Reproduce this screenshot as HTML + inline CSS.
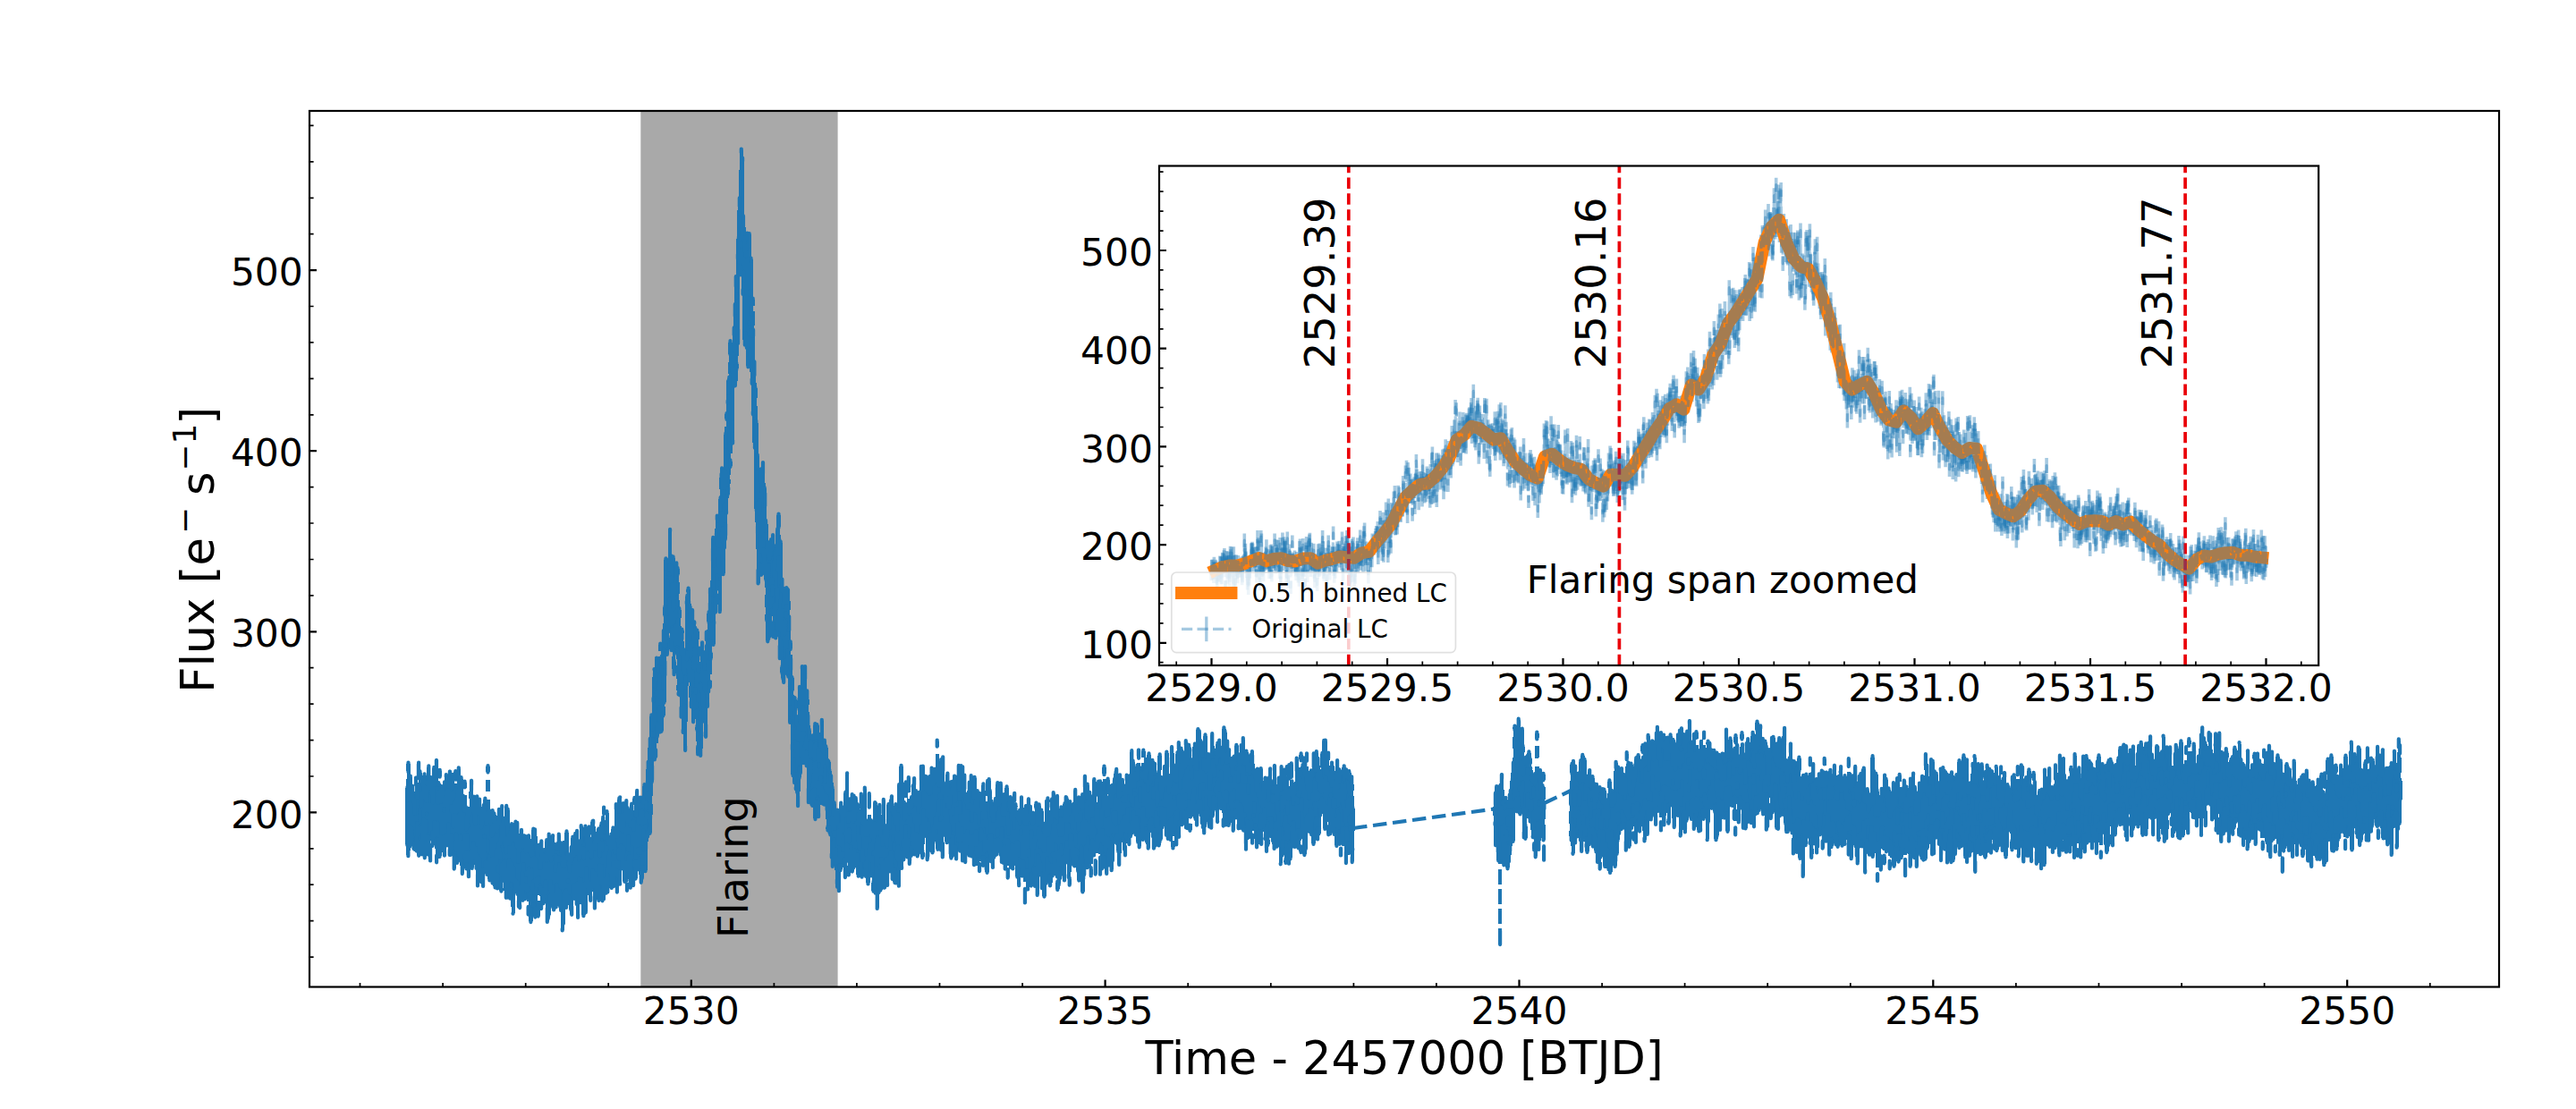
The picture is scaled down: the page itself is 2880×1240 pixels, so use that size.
<!DOCTYPE html><html><head><meta charset="utf-8"><title>Light curve</title><style>html,body{margin:0;padding:0;background:#fff}svg{display:block}text{font-family:"DejaVu Sans","Liberation Sans",sans-serif;fill:#000}</style></head><body>
<svg width="2880" height="1240" viewBox="0 0 2880 1240">
<rect width="2880" height="1240" fill="#fff"/>
<rect x="716.3" y="124.0" width="220.3" height="979.5" fill="#a9a9a9"/>
<path d="M1513 926L1671.3 904.4M1726.5 898L1756.2 884" fill="none" stroke="#1f77b4" stroke-width="4.2" stroke-dasharray="15.5 6.7"/>
<path d="M453.5 881V944M454.5 853.5V862M454.5 871V956M455.5 853.5V956M456.5 853.5V956M457.5 853.5V956M458.5 853.5V951M459.5 869V945.5M460.5 869V943.5M461.5 880V948.5M462.5 880V948.5M463.5 871V876M463.5 885V948.5M464.5 871V950.5M465.5 871V950.5M466.5 853.5V955.5M467.5 853.5V868.5M467.5 875V955.5M468.5 853.5V955.5M469.5 853.5V955.5M470.5 863.5V954M471.5 863.5V954M472.5 870.5V954M473.5 866.5V958M474.5 866.5V958M475.5 866.5V958M476.5 866.5V958M477.5 857.5V954.5M478.5 857.5V935.5M478.5 941V954.5M479.5 857.5V961M480.5 857.5V961M481.5 870.5V939M481.5 946V961M482.5 870.5V961M483.5 859V944.5M484.5 859V944.5M485.5 859V944.5M486.5 851.5V949M486.5 957.5V963M487.5 851.5V963M488.5 851.5V963M489.5 851.5V963M490.5 862V867.5M490.5 876V957M491.5 862V867.5M491.5 876V957M492.5 862V867.5M492.5 876V957M493.5 862V867.5M493.5 876.5V957M494.5 880.5V950M495.5 875.5V955.5M496.5 875.5V955.5M497.5 867.5V955.5M498.5 867.5V955.5M499.5 867.5V944M500.5 867.5V947M501.5 864V955M502.5 864V955M503.5 864V955M504.5 864V955M505.5 867V954.5M506.5 867V970.5M507.5 863V970.5M508.5 863V870.5M508.5 876V970.5M509.5 863V870.5M509.5 876V970.5M510.5 863V870.5M510.5 876V963.5M511.5 859.5V963.5M512.5 859.5V963.5M513.5 859.5V961.5M514.5 859.5V967.5M515.5 870.5V976M516.5 870.5V976M517.5 870.5V976M518.5 875V881M518.5 888.5V976M519.5 875V881M519.5 888.5V970.5M520.5 875V881M520.5 888.5V970.5M521.5 875V881M521.5 888.5V970.5M522.5 902.5V979M523.5 904.5V979M524.5 884.5V893M524.5 902V979M525.5 874V979M526.5 874V969.5M527.5 874V969.5M528.5 874V969.5M529.5 892V969.5M530.5 892V963.5M531.5 891.5V970M532.5 891.5V989M533.5 891.5V989M534.5 891.5V989M535.5 893.5V989M536.5 894.5V985M537.5 895V986M538.5 901.5V990M539.5 901V990M540.5 894V990M541.5 894V990M542.5 894V977M543.5 857V862.5M543.5 871.5V884.5M543.5 893.5V977M544.5 857V862.5M544.5 871.5V885M544.5 893.5V977M545.5 857V862.5M545.5 871.5V885M545.5 893.5V983M546.5 857V862.5M546.5 871.5V885M546.5 893.5V983M547.5 857V862.5M547.5 871.5V885M547.5 893.5V983M548.5 907.5V983M549.5 907.5V986.5M550.5 907.5V986.5M551.5 907.5V991M552.5 907.5V991M553.5 910.5V991M554.5 910.5V992M555.5 911.5V992M556.5 906V992M557.5 906V992M558.5 906V995.5M559.5 902.5V995.5M560.5 902.5V995.5M561.5 902.5V995.5M562.5 902.5V984M562.5 993V995.5M563.5 915.5V996M564.5 902V1002.5M565.5 902V1002.5M566.5 902V1002.5M567.5 902V1002.5M568.5 906V1003.5M569.5 906V1003.5M570.5 922.5V1003.5M571.5 922.5V1013.5M572.5 922.5V1020.5M573.5 922.5V1020.5M574.5 919.5V1020.5M575.5 919.5V1020.5M576.5 919.5V998.5M577.5 919.5V998.5M578.5 919.5V1012.5M579.5 921V1014M580.5 931.5V1014M581.5 929V1014M582.5 929V1014M583.5 929V1005.5M584.5 929V1005.5M585.5 935.5V1005.5M586.5 935.5V1005.5M587.5 935.5V1004M588.5 936V1004M589.5 935.5V1008M589.5 1015V1021.5M590.5 935.5V1008M590.5 1015V1021.5M591.5 935.5V1030M592.5 935.5V1030M593.5 937.5V1030M594.5 928V1030M595.5 928V1030M596.5 928V1024.5M597.5 928V1024.5M598.5 928.5V1024.5M599.5 928.5V1024.5M600.5 935V1024.5M601.5 945.5V1001M601.5 1007V1023.5M602.5 945.5V1001M602.5 1007V1023.5M603.5 941.5V1002M603.5 1007V1023.5M604.5 941.5V1015M605.5 941.5V1015M606.5 941.5V1015M607.5 951.5V1009M608.5 951.5V1009M609.5 940.5V1010M610.5 940.5V1029.5M611.5 940.5V1029.5M612.5 934V1029.5M613.5 934V1029.5M614.5 934V1026M615.5 934V1022.5M616.5 935V1013.5M617.5 935V1016M618.5 935V1016M619.5 935V1016M620.5 944.5V1016M621.5 944.5V1014M622.5 944.5V1014M623.5 933.5V1013M624.5 933.5V1012.5M625.5 933.5V1017M626.5 933.5V1017M627.5 943V1039.5M628.5 943V1039.5M629.5 943V1039.5M630.5 943V1039.5M631.5 930.5V1031.5M632.5 930.5V1013.5M633.5 930.5V1013.5M634.5 930.5V1013.5M635.5 930.5V1009M636.5 955.5V1016.5M637.5 948.5V1021.5M638.5 936.5V1021.5M639.5 936.5V1021.5M640.5 936.5V1021.5M641.5 933V1003.5M642.5 933V1003.5M643.5 930V1009.5M644.5 930V1025M645.5 930V1025M646.5 930V1025M647.5 941V1025M648.5 924V1008M649.5 924V1008M650.5 924V1023M651.5 924V1023M652.5 925V1023M653.5 925V1023M654.5 925V1023M655.5 925V1019M656.5 925V1019M657.5 925.5V997.5M658.5 925.5V1006M659.5 925.5V1006M660.5 919V932.5M660.5 938.5V1006M661.5 919V1006M662.5 919V996.5M663.5 919V1014.5M664.5 919V1014.5M665.5 924V1014.5M666.5 933V1014.5M667.5 927.5V1006M668.5 927.5V1006M669.5 927.5V1006M670.5 921.5V1006M671.5 921.5V1006M672.5 915V1006M673.5 904V909.5M673.5 915V1006M674.5 904V909.5M674.5 915V1006M675.5 904V909.5M675.5 915V1006M676.5 904V909.5M676.5 916.5V1004M677.5 908.5V997.5M678.5 908.5V997.5M679.5 908.5V997.5M680.5 908.5V996.5M681.5 934V992.5M682.5 934V992M683.5 926.5V992M684.5 926.5V992M685.5 926.5V992M686.5 926.5V989.5M687.5 900V989.5M688.5 900V996.5M689.5 900V996.5M690.5 893.5V996.5M691.5 892.5V996.5M692.5 892.5V987.5M693.5 892.5V987.5M694.5 892.5V987.5M695.5 899.5V970.5M696.5 899.5V984.5M697.5 899.5V984.5M698.5 896V984.5M699.5 896V994.5M700.5 896V983M700.5 989V994.5M701.5 896V983M701.5 989V994.5M702.5 904V983M702.5 989V994.5M703.5 904V991.5M704.5 900V991.5M705.5 900V991.5M706.5 900V991.5M707.5 893V989M708.5 893V900M708.5 906V989M709.5 893V989M710.5 885V981.5M711.5 885V981.5M712.5 885V981.5M713.5 885V971.5M714.5 893V978M715.5 893V985.5M716.5 893V985.5M717.5 892V985.5M718.5 878.5V985.5M719.5 878.5V981M720.5 878.5V973M721.5 878.5V973M722.5 860V973M723.5 853V973M724.5 835.5V940.5M725.5 827V934.5M726.5 800.5V930.5M727.5 800.5V930.5M728.5 800.5V930.5M729.5 756.5V889.5M729.5 898.5V911M730.5 749.5V873.5M731.5 749.5V848.5M732.5 737V848.5M733.5 737V848.5M734.5 737V830.5M734.5 839V844.5M735.5 737V830.5M736.5 721V727.5M736.5 734V822.5M737.5 721V727.5M737.5 734V817.5M738.5 721V727.5M738.5 734V817.5M739.5 721V817.5M740.5 706.5V816.5M741.5 679V687.5M741.5 696.5V816.5M742.5 625.5V799.5M743.5 625.5V784.5M743.5 790V799.5M744.5 625.5V784.5M745.5 625.5V730.5M746.5 625.5V730.5M747.5 593V730.5M748.5 593V705.5M748.5 713V726M749.5 593V726M750.5 593V726M751.5 622.5V726M751.5 734V747.5M752.5 623.5V753M753.5 623.5V753M754.5 623.5V753M755.5 630.5V731M755.5 740V753M756.5 630.5V736.5M756.5 743.5V758.5M756.5 766V772M757.5 630.5V775.5M758.5 636V776M759.5 636V641.5M759.5 650.5V663.5M759.5 670.5V776M760.5 681.5V800.5M761.5 681.5V690.5M761.5 699.5V800.5M762.5 705V817.5M763.5 705V817.5M764.5 705V707.5M764.5 716.5V838M765.5 727.5V838M766.5 667V838M767.5 658.5V661.5M767.5 667V838M768.5 658.5V807M769.5 658.5V767M770.5 658.5V760M770.5 767V780M771.5 658.5V789M772.5 674.5V789M773.5 679.5V806M774.5 683.5V806M775.5 683.5V806M776.5 696.5V806M777.5 696.5V803.5M777.5 812.5V815.5M778.5 703V828.5M778.5 836V842M779.5 706V842M780.5 706V842M781.5 706V714.5M781.5 723.5V844M782.5 726V731.5M782.5 739.5V844M783.5 719.5V844M784.5 719.5V844M785.5 719.5V837M786.5 719.5V805.5M787.5 730.5V822.5M788.5 708V714M788.5 721.5V822.5M789.5 708V822.5M790.5 685.5V695M790.5 704V822.5M791.5 685.5V788.5M792.5 660V788.5M793.5 660V772.5M794.5 649V754M794.5 761V767.5M795.5 602V754M795.5 761V767.5M796.5 602V722M796.5 729.5V735.5M797.5 602V720M798.5 602V720M799.5 591V720M800.5 578V683.5M801.5 578V683.5M802.5 578V658.5M802.5 666.5V672.5M803.5 557.5V683M804.5 533.5V546.5M804.5 555.5V683M805.5 524.5V683M806.5 524.5V683M807.5 524.5V641M808.5 524.5V641M809.5 485.5V641M810.5 463V467.5M810.5 477V641M811.5 463V469.5M811.5 477V611.5M812.5 427V601.5M813.5 423V572.5M814.5 382.5V395.5M814.5 404.5V417.5M814.5 423V556.5M815.5 382.5V553M816.5 382.5V530.5M816.5 536V541M817.5 382.5V506.5M817.5 515.5V521M818.5 382.5V506.5M818.5 515.5V521M819.5 367.5V494.5M820.5 341.5V494.5M821.5 310.5V430.5M822.5 310.5V430M823.5 266.5V430M824.5 235V426M825.5 222.5V398M825.5 407V412M826.5 190V383M827.5 167.5V306.5M828.5 167.5V306.5M829.5 167.5V328M830.5 167.5V380M831.5 177.5V384.5M832.5 242.5V384.5M833.5 254V387.5M834.5 262V409M835.5 262V409M836.5 262V409M837.5 262V409M838.5 262V416M839.5 262V428M840.5 290V462M841.5 290V495M842.5 335V341.5M842.5 348V499.5M843.5 335V341.5M843.5 348V364M843.5 370V569M844.5 405.5V583.5M845.5 427.5V614M846.5 434V445M846.5 454V651.5M847.5 472.5V651.5M848.5 510V651.5M849.5 525.5V651.5M850.5 525.5V641.5M851.5 518V641.5M852.5 518V641.5M853.5 518V640.5M854.5 518V647.5M855.5 540V656.5M855.5 664.5V679M855.5 686.5V692.5M856.5 546V716M857.5 583V716M858.5 585.5V716M859.5 607V716M860.5 604.5V713M861.5 604.5V713M862.5 599V711M863.5 599V688.5M863.5 696V711M864.5 599V711M865.5 599V712.5M866.5 610.5V712.5M867.5 592.5V712.5M868.5 576V712.5M869.5 576V709.5M870.5 576V735M871.5 576V735M872.5 576V589M872.5 598V737M872.5 746V751.5M873.5 605.5V758M874.5 607V762M875.5 648.5V762M876.5 657.5V762M877.5 658.5V762M878.5 658.5V752.5M879.5 658.5V755.5M880.5 658.5V755.5M881.5 659V806.5M882.5 660.5V806.5M883.5 672V681.5M883.5 690.5V806.5M884.5 718.5V725M884.5 732V866M885.5 718.5V725M885.5 732V866M886.5 758V874M887.5 758V771.5M887.5 780V874M888.5 780V881M889.5 781.5V885M890.5 781.5V900M891.5 782.5V792M891.5 801V900M892.5 769V900M893.5 769V900M894.5 769V884.5M895.5 746V869M896.5 746V863.5M897.5 746V852M898.5 746V852M899.5 746V852M900.5 746V855M901.5 746V855M902.5 773.5V896M903.5 773.5V896M904.5 782V788M904.5 796V896M905.5 811V898.5M906.5 817V899.5M907.5 823.5V899.5M908.5 823.5V899.5M909.5 810.5V915M910.5 810.5V915M911.5 810.5V915M912.5 810.5V915M913.5 811V915M914.5 811V912M915.5 811V912M916.5 818.5V912M917.5 806V900M918.5 806V897.5M919.5 806V898.5M920.5 806V898.5M921.5 828.5V898.5M922.5 828.5V899M923.5 828.5V916M923.5 925V927M924.5 835.5V927M925.5 835.5V930M926.5 850.5V932M927.5 852V932M928.5 852V957.5M929.5 861.5V967.5M930.5 868.5V967.5M931.5 874.5V967.5M932.5 881.5V967.5M933.5 898.5V972.5M934.5 898.5V990.5M935.5 907V990.5M936.5 907V995M937.5 907V995M938.5 898.5V995M939.5 898.5V995M940.5 898.5V972M941.5 898.5V972M942.5 904V967M943.5 887V980M944.5 886V980M945.5 865.5V980M946.5 865.5V980M947.5 865.5V964M947.5 971V977.5M948.5 865.5V977.5M949.5 894V977.5M950.5 894V977.5M951.5 889.5V973.5M952.5 889.5V973.5M953.5 889.5V973.5M954.5 889.5V973.5M955.5 891V969.5M956.5 891V967M957.5 893.5V978M958.5 893.5V978.5M959.5 900.5V978.5M960.5 900.5V978.5M961.5 888.5V902M961.5 907.5V979.5M962.5 888.5V979.5M963.5 888.5V979.5M964.5 888.5V979.5M965.5 882V979.5M966.5 882V978.5M967.5 882V978.5M968.5 882V987M969.5 918.5V987M970.5 888.5V902M970.5 910.5V987M971.5 888.5V902M971.5 910.5V987M972.5 888.5V902M972.5 910.5V987M973.5 888.5V902M973.5 910.5V978M974.5 918.5V978M974.5 986.5V995.5M975.5 918.5V995.5M976.5 898V995.5M977.5 898V997.5M978.5 898V997.5M979.5 898V1015M980.5 899.5V1015M981.5 901V1015M982.5 901V1015M983.5 901V997M984.5 901V997M985.5 914V994.5M986.5 895V994.5M987.5 895V991.5M988.5 895V991.5M989.5 895V991.5M990.5 924V991.5M991.5 900V988.5M992.5 900V988.5M993.5 900V988.5M994.5 896.5V973M995.5 891.5V976M996.5 891.5V981.5M997.5 891.5V981.5M998.5 891.5V986M999.5 900.5V986M1000.5 900.5V986M1001.5 900.5V986M1002.5 900.5V986M1003.5 878V989.5M1004.5 878V989.5M1005.5 857V989.5M1006.5 857V989.5M1007.5 857V969.5M1008.5 857V969.5M1009.5 857V969.5M1010.5 878V960M1011.5 875.5V891.5M1011.5 898V960M1012.5 875.5V891.5M1012.5 898V957M1013.5 875.5V891.5M1013.5 898V957M1014.5 870V957M1015.5 870V886M1015.5 892.5V964.5M1016.5 870V886M1016.5 892.5V964.5M1017.5 870V886M1017.5 892.5V964.5M1018.5 892.5V964.5M1019.5 878V955.5M1020.5 871.5V955.5M1021.5 871.5V954M1022.5 871.5V954M1023.5 871.5V954M1024.5 885.5V956.5M1025.5 885.5V956.5M1026.5 886.5V956.5M1027.5 886.5V956.5M1028.5 858V952.5M1029.5 858V958M1030.5 858V958M1031.5 858V958M1032.5 858V958M1033.5 858V943.5M1033.5 952.5V958M1034.5 868.5V934.5M1035.5 869V960M1036.5 869V960M1037.5 869V960M1038.5 869V960M1039.5 869V949.5M1040.5 860V952.5M1041.5 860V952.5M1042.5 860V952.5M1043.5 860V952.5M1044.5 861V952.5M1045.5 861V941M1046.5 828.5V834.5M1046.5 842.5V948.5M1047.5 828.5V834.5M1047.5 842.5V948.5M1048.5 828.5V834.5M1048.5 842.5V948.5M1049.5 828.5V834.5M1049.5 842.5V948.5M1050.5 850.5V949.5M1051.5 850.5V949.5M1052.5 847.5V957M1053.5 847.5V957M1054.5 847.5V957M1055.5 847.5V935M1055.5 941.5V957M1056.5 876V941M1057.5 866V941M1058.5 866V941M1059.5 866V941M1060.5 866V941M1061.5 872.5V958.5M1062.5 875.5V958.5M1063.5 875V958.5M1064.5 875V958.5M1065.5 868.5V958.5M1066.5 868.5V955.5M1067.5 868.5V959M1068.5 868.5V959M1069.5 869.5V959M1070.5 857V959M1071.5 857V950.5M1072.5 857V950.5M1073.5 857V950.5M1074.5 857V961.5M1075.5 857V961.5M1076.5 857V961.5M1077.5 858.5V963M1078.5 868V963M1079.5 868V963M1080.5 889.5V963M1081.5 887V955.5M1082.5 876V955.5M1083.5 875.5V955.5M1084.5 868.5V956M1085.5 868.5V956M1086.5 868.5V956M1087.5 868.5V966M1088.5 870V966M1089.5 870V966M1090.5 870V966M1091.5 870V965M1092.5 885.5V965M1093.5 885.5V973M1094.5 885.5V973M1095.5 888V960M1095.5 967V973M1096.5 888V960M1096.5 967V973M1097.5 877.5V966.5M1098.5 877.5V966.5M1099.5 877.5V966.5M1100.5 877.5V966.5M1101.5 884V974.5M1102.5 874V889.5M1102.5 896V974.5M1103.5 874V889.5M1103.5 896V974.5M1104.5 872.5V974.5M1105.5 872.5V974.5M1106.5 872.5V962M1107.5 872.5V962M1108.5 885V968.5M1109.5 894.5V968.5M1110.5 897V968.5M1111.5 894V968.5M1112.5 893.5V957.5M1113.5 876.5V957.5M1114.5 876.5V954.5M1115.5 876.5V954.5M1116.5 876.5V950.5M1117.5 876.5V954.5M1118.5 877V962.5M1119.5 877V962.5M1120.5 877V964M1121.5 889.5V964M1122.5 889.5V970.5M1123.5 880.5V970.5M1124.5 880.5V970.5M1125.5 880.5V980.5M1126.5 880.5V967.5M1126.5 973.5V980.5M1127.5 880.5V967.5M1127.5 973.5V980.5M1128.5 892.5V980.5M1129.5 892.5V968.5M1130.5 892.5V970.5M1131.5 892.5V970.5M1132.5 888V970.5M1133.5 888V970.5M1134.5 888V894M1134.5 900.5V965.5M1135.5 888V894M1135.5 900.5V979.5M1136.5 900.5V979.5M1137.5 900.5V902M1137.5 908.5V989M1138.5 906.5V989M1139.5 906.5V989M1140.5 892.5V989M1141.5 892.5V978.5M1142.5 892.5V978.5M1143.5 892.5V978.5M1144.5 903V986M1144.5 995V1008M1145.5 902.5V986M1145.5 995V1008M1146.5 902.5V986M1146.5 995V1008M1147.5 902.5V1008M1148.5 894.5V993M1149.5 894.5V993M1150.5 894.5V993M1151.5 894.5V989.5M1152.5 903V989.5M1153.5 903V989.5M1154.5 909.5V989.5M1155.5 909.5V989.5M1156.5 899V902.5M1156.5 909.5V989.5M1157.5 899V989.5M1158.5 899V1000M1159.5 899V1000M1160.5 899V1000M1161.5 900.5V1000M1162.5 900.5V977M1163.5 900.5V992M1164.5 907V992.5M1165.5 907V1001.5M1166.5 907V1001.5M1167.5 922V1001.5M1168.5 897V1001.5M1169.5 893.5V1001.5M1170.5 893.5V986.5M1171.5 893.5V986.5M1172.5 893.5V989M1173.5 893.5V897M1173.5 906V989M1174.5 894.5V989M1175.5 893.5V989M1176.5 887V986.5M1177.5 887V978M1178.5 887V978M1179.5 887V976M1180.5 891V981M1180.5 986.5V993.5M1181.5 891V981M1181.5 986.5V993.5M1182.5 891V993.5M1183.5 891V993.5M1184.5 903.5V993.5M1185.5 903.5V988M1186.5 903.5V980.5M1187.5 903.5V976.5M1188.5 899V983M1189.5 899V983M1190.5 892V983M1191.5 892V983M1192.5 892V963M1193.5 892V980M1194.5 893V988.5M1195.5 897V988.5M1196.5 897V988.5M1197.5 897V974.5M1197.5 982.5V988.5M1198.5 900.5V966M1199.5 899.5V967.5M1200.5 884V967.5M1201.5 884V967.5M1202.5 884V967.5M1203.5 884V973M1204.5 892V983.5M1205.5 892.5V983.5M1206.5 892.5V983.5M1207.5 892.5V983.5M1208.5 889.5V996.5M1209.5 889.5V996.5M1210.5 889.5V996.5M1211.5 869V996.5M1212.5 869V996.5M1213.5 869V977M1214.5 869V969M1215.5 877.5V969M1216.5 877.5V969M1217.5 877.5V969M1218.5 887V978M1219.5 887V978M1220.5 891.5V965.5M1220.5 971.5V978M1221.5 872V965.5M1221.5 971.5V978M1222.5 872V955M1223.5 872V955M1223.5 961.5V976.5M1224.5 872V955M1224.5 961.5V976.5M1225.5 874V954M1225.5 961.5V976.5M1226.5 874.5V890M1226.5 896.5V954M1226.5 961.5V976.5M1227.5 874.5V954M1228.5 874.5V954.5M1228.5 959.5V976.5M1229.5 874.5V954.5M1229.5 959.5V976.5M1230.5 874.5V976.5M1231.5 874.5V976.5M1232.5 858V865M1232.5 874V970.5M1233.5 858V865M1233.5 870.5V970.5M1234.5 858V865M1234.5 870.5V968.5M1235.5 858V865M1235.5 870.5V975.5M1236.5 858V865M1236.5 870.5V975.5M1237.5 872V975.5M1238.5 872V887.5M1238.5 893V975.5M1239.5 872V966M1240.5 872V967M1241.5 880V972M1242.5 879V972M1243.5 875.5V972M1244.5 872V972M1245.5 864.5V961M1246.5 861V940.5M1247.5 861V942M1248.5 861V951M1249.5 861V965.5M1250.5 867.5V965.5M1251.5 867.5V965.5M1252.5 867.5V965.5M1253.5 867.5V953.5M1254.5 873V939M1255.5 873V949M1256.5 873V955M1257.5 878.5V955M1258.5 867.5V955M1259.5 867.5V942.5M1259.5 948V955M1260.5 867.5V943M1261.5 867.5V943M1262.5 868.5V943M1263.5 840.5V943M1264.5 840.5V935.5M1265.5 840.5V934.5M1266.5 840.5V930M1267.5 849V930.5M1268.5 851.5V932M1269.5 857V932M1270.5 857V940.5M1271.5 840V846.5M1271.5 853V940.5M1272.5 840V846.5M1272.5 853V946M1273.5 840V846.5M1273.5 853V946M1274.5 840V846.5M1274.5 853V946M1275.5 859.5V946M1276.5 840V846.5M1276.5 853V937.5M1277.5 840V846.5M1277.5 853V937.5M1278.5 840V846.5M1278.5 853V937.5M1279.5 840V937.5M1280.5 840V939.5M1281.5 850V944M1282.5 843.5V947.5M1283.5 843.5V947.5M1284.5 843.5V947.5M1285.5 843.5V947.5M1286.5 843.5V927.5M1287.5 851V934M1288.5 851V947.5M1289.5 851V947.5M1290.5 851V947.5M1291.5 855V947.5M1292.5 855V944.5M1293.5 864V944.5M1294.5 845V944.5M1295.5 844.5V944.5M1296.5 844.5V944.5M1297.5 844.5V944.5M1298.5 844.5V860.5M1298.5 866.5V940M1299.5 870V937.5M1300.5 858V924M1301.5 858V924M1302.5 841.5V932.5M1303.5 841.5V933M1304.5 841.5V937M1305.5 841.5V937M1306.5 842V937M1307.5 868V937.5M1308.5 836.5V937.5M1309.5 836.5V947M1310.5 836.5V947M1311.5 836.5V934.5M1311.5 940V947M1312.5 841.5V934.5M1312.5 940V947M1313.5 857V947M1314.5 842.5V943M1315.5 842.5V943M1316.5 831.5V943M1317.5 831.5V934.5M1318.5 831.5V934.5M1319.5 831.5V934.5M1320.5 838V921M1321.5 838V921M1322.5 838V921M1323.5 842.5V920M1324.5 829.5V924.5M1325.5 829.5V925M1326.5 829.5V925M1327.5 829.5V925M1328.5 833V927.5M1329.5 834V914.5M1329.5 920.5V927.5M1330.5 834V914.5M1330.5 920.5V927.5M1331.5 838V914.5M1331.5 920.5V927.5M1332.5 850.5V912.5M1332.5 920.5V927.5M1333.5 835V910M1334.5 832.5V915M1335.5 832.5V915M1336.5 832.5V921.5M1337.5 816V921.5M1338.5 816V921.5M1339.5 816V921.5M1340.5 816V910M1341.5 816V910M1342.5 818.5V919M1343.5 829V924M1344.5 830.5V930M1345.5 822.5V930M1346.5 822.5V930M1347.5 822.5V930M1348.5 822.5V922.5M1349.5 822.5V916M1350.5 844.5V923.5M1351.5 844.5V923.5M1352.5 842.5V924.5M1353.5 821.5V924.5M1354.5 821.5V912M1354.5 917.5V924.5M1355.5 821.5V912M1355.5 917.5V924.5M1356.5 821.5V911.5M1357.5 834V911.5M1358.5 840V905M1359.5 831.5V918M1360.5 831.5V918M1361.5 829V918M1362.5 829V918M1363.5 829V903M1364.5 829V903M1365.5 836V903M1366.5 814.5V908.5M1366.5 916.5V922.5M1367.5 814.5V922.5M1368.5 814.5V922.5M1369.5 814.5V922.5M1370.5 814.5V921.5M1371.5 818.5V922M1372.5 830V922M1373.5 830V922M1374.5 838.5V922M1375.5 839.5V922M1376.5 849.5V919.5M1377.5 848V927.5M1378.5 847V927.5M1379.5 847V927.5M1380.5 834V927.5M1381.5 834V913.5M1382.5 834V913.5M1383.5 834V925M1384.5 834V925M1385.5 844.5V925M1386.5 834V925M1387.5 834V925.5M1388.5 826.5V927.5M1389.5 826.5V927.5M1390.5 826.5V927.5M1391.5 826.5V948.5M1392.5 840.5V948.5M1393.5 840.5V948.5M1394.5 840.5V948.5M1395.5 840.5V939M1396.5 845.5V935.5M1397.5 845.5V935.5M1398.5 841V941.5M1399.5 841V941.5M1400.5 841V928.5M1400.5 934.5V941.5M1401.5 841V928.5M1401.5 934.5V941.5M1402.5 854V937.5M1403.5 862.5V946M1404.5 861V946M1405.5 861V946M1406.5 861V946M1407.5 861V940.5M1408.5 860V943M1409.5 860V943M1410.5 860V943M1411.5 860V943M1412.5 876V929.5M1413.5 870.5V937M1414.5 870.5V950.5M1415.5 870.5V950.5M1416.5 870.5V950.5M1417.5 871.5V950.5M1418.5 860.5V943.5M1419.5 860.5V934M1419.5 939V943.5M1420.5 860.5V934M1421.5 860.5V939M1422.5 874V943.5M1423.5 857.5V948M1424.5 857.5V948M1425.5 857.5V948M1426.5 857.5V948M1427.5 880V945.5M1428.5 871V945.5M1429.5 870.5V945.5M1430.5 870.5V965M1431.5 858.5V965M1432.5 858.5V965M1433.5 858.5V965M1434.5 858.5V955.5M1435.5 862V955.5M1435.5 961.5V963.5M1436.5 862V963.5M1437.5 858V963.5M1438.5 858V864M1438.5 870V963.5M1439.5 856.5V964.5M1440.5 856.5V964.5M1441.5 856.5V870M1441.5 878.5V964.5M1442.5 854.5V964.5M1443.5 854.5V869M1443.5 874.5V959M1444.5 854.5V869M1444.5 874.5V959M1445.5 854.5V869M1445.5 874.5V946M1446.5 874.5V946M1447.5 873.5V946M1448.5 848.5V946M1449.5 848.5V945.5M1450.5 848.5V947.5M1451.5 848.5V947.5M1452.5 843.5V849M1452.5 858V952M1453.5 843.5V849M1453.5 858V952M1454.5 843.5V849M1454.5 856.5V938M1454.5 946V952M1455.5 843.5V849M1455.5 856.5V938M1455.5 946V952M1456.5 843.5V955M1457.5 848.5V955M1458.5 848.5V955M1459.5 843.5V955M1460.5 843.5V955M1461.5 843.5V849.5M1461.5 857V948.5M1462.5 843.5V849.5M1462.5 857V929M1463.5 865V928.5M1464.5 862.5V932M1465.5 862.5V932M1466.5 862V943M1467.5 843.5V943M1468.5 843.5V943M1469.5 843.5V943M1470.5 841.5V943M1471.5 841.5V937M1472.5 841.5V937M1473.5 841.5V937M1474.5 849V937M1475.5 856V931.5M1476.5 843V857.5M1476.5 863V931.5M1477.5 843V910.5M1478.5 829V909.5M1479.5 829V926M1480.5 828.5V926M1481.5 828.5V926M1482.5 828.5V926M1483.5 828.5V932M1484.5 843V919M1484.5 925.5V932M1485.5 843V932M1486.5 843V849.5M1486.5 856V932M1487.5 854V931.5M1488.5 854V931.5M1489.5 854V929M1490.5 854V931.5M1491.5 859V931.5M1492.5 861.5V945M1493.5 851.5V945M1494.5 851.5V945M1495.5 851.5V945M1496.5 851.5V945M1497.5 861.5V942.5M1497.5 950V955.5M1498.5 861.5V942.5M1498.5 950V955.5M1499.5 861.5V942.5M1499.5 950V955.5M1500.5 857.5V943M1500.5 950V955.5M1501.5 857.5V943M1502.5 857.5V943M1503.5 857.5V964M1504.5 857.5V964M1505.5 861.5V964M1506.5 861.5V964M1507.5 863.5V953M1508.5 863.5V953M1509.5 863.5V953M1510.5 863.5V963M1511.5 869.5V963M1512.5 869.5V963M1513.5 877V884M1513.5 889.5V963M1514.5 903.5V928.5M1669.5 902V912M1670.5 887.5V944M1671.5 880V944M1672.5 880V944.5M1673.5 880V961.5M1674.5 880V961.5M1675.5 880.5V966M1675.5 971.5V988.5M1675.5 993.5V1010.5M1675.5 1016V1032.5M1675.5 1038V1055M1676.5 879V966M1676.5 971.5V988.5M1676.5 993.5V1010.5M1676.5 1016V1032.5M1676.5 1038V1055M1677.5 867.5V966M1677.5 971.5V988.5M1677.5 993.5V1010.5M1677.5 1016V1032.5M1677.5 1038V1055M1678.5 867.5V966M1678.5 971.5V988.5M1678.5 993.5V1010.5M1678.5 1016V1032.5M1678.5 1038V1055M1679.5 867.5V966M1680.5 867.5V966M1681.5 883V966M1682.5 893V966M1683.5 893V970M1684.5 893V970M1685.5 896.5V970M1686.5 890V970M1687.5 885V970M1688.5 872.5V962M1689.5 863.5V955.5M1690.5 854V946M1691.5 812.5V815M1691.5 824V837M1691.5 846.5V939.5M1692.5 812.5V939.5M1693.5 812.5V939.5M1694.5 812.5V906.5M1695.5 811V906.5M1696.5 805V906.5M1697.5 805V909.5M1698.5 805V909.5M1699.5 805V909.5M1700.5 816V909.5M1701.5 816V909.5M1702.5 816V935M1703.5 816V936.5M1704.5 835V841M1704.5 847V936.5M1705.5 848V936.5M1706.5 846V936.5M1707.5 841.5V914.5M1707.5 923.5V936.5M1708.5 841.5V912.5M1709.5 841.5V917.5M1710.5 841.5V917.5M1711.5 841.5V927.5M1712.5 848V853.5M1712.5 860V935M1713.5 861V935.5M1713.5 943.5V949M1714.5 866.5V935.5M1714.5 943.5V949M1715.5 866.5V957M1716.5 820V825.5M1716.5 834V847.5M1716.5 856.5V957M1717.5 820V825.5M1717.5 834V847.5M1717.5 856.5V957M1718.5 820V825.5M1718.5 834V847.5M1718.5 856.5V957M1719.5 820V825.5M1719.5 834V847.5M1719.5 856.5V948.5M1720.5 820V825M1720.5 834V847M1720.5 856.5V948.5M1721.5 862.5V948.5M1722.5 862.5V939.5M1723.5 862.5V937M1724.5 866V938.5M1724.5 945.5V960.5M1725.5 866V871.5M1725.5 879V938.5M1725.5 945.5V960.5M1726.5 866V871.5M1726.5 879V938.5M1726.5 945.5V960.5M1727.5 866V871.5M1727.5 880V894M1727.5 899.5V916M1727.5 922V938.5M1727.5 945.5V960.5M1754.5 885V898.5M1754.5 907V920.5M1754.5 929V934.5M1755.5 855V864M1755.5 873V938.5M1756.5 855V945.5M1757.5 852V953.5M1758.5 852V953.5M1759.5 852V953.5M1760.5 852V953.5M1761.5 858V941M1762.5 858V941M1763.5 866V934.5M1764.5 865V934.5M1765.5 851.5V938.5M1766.5 851.5V951M1767.5 845V951M1768.5 845V951M1769.5 845V951M1770.5 845V938.5M1771.5 845V938.5M1772.5 850V952M1773.5 850V952M1774.5 869V952M1775.5 862.5V952M1776.5 862.5V952M1777.5 862.5V943M1778.5 862.5V943M1779.5 867V945.5M1780.5 869.5V945.5M1781.5 869.5V945.5M1782.5 869.5V951M1783.5 877V951M1784.5 878V962.5M1785.5 878V962.5M1786.5 878V962.5M1787.5 881V970.5M1788.5 881V970.5M1789.5 881V970.5M1790.5 881V957.5M1790.5 963.5V970.5M1791.5 883.5V957.5M1792.5 883.5V968M1793.5 883.5V968M1794.5 884V968M1795.5 884V968M1796.5 895V971M1797.5 873.5V880.5M1797.5 886.5V971M1798.5 873.5V975M1799.5 873.5V975M1800.5 873.5V975M1801.5 873.5V975M1802.5 885V974.5M1803.5 885V968M1804.5 862V968M1805.5 853V968M1806.5 853V968M1807.5 853V968M1808.5 853V954M1809.5 858.5V954M1810.5 858.5V939M1811.5 860.5V931M1812.5 860.5V926M1813.5 860.5V926M1814.5 860.5V926M1815.5 867V924.5M1816.5 867V949.5M1817.5 842.5V848M1817.5 856.5V949.5M1818.5 842.5V848M1818.5 854V949.5M1819.5 842.5V848M1819.5 854V949.5M1820.5 842.5V848M1820.5 854V945.5M1821.5 854V945.5M1822.5 854V945.5M1823.5 855V945.5M1824.5 855V925M1824.5 931.5V937.5M1825.5 855V925M1825.5 931.5V937.5M1826.5 856.5V924M1826.5 931.5V937.5M1827.5 848.5V940.5M1828.5 848V940.5M1829.5 845V940.5M1830.5 845V940.5M1831.5 845V928.5M1832.5 845V928.5M1833.5 845V928.5M1834.5 834V840M1834.5 849V928.5M1835.5 834V840M1835.5 847.5V921M1836.5 834V840M1836.5 847.5V929M1837.5 832.5V939M1838.5 832.5V939M1839.5 832.5V939M1840.5 832.5V939M1841.5 823V932M1842.5 823V932M1843.5 823V932M1844.5 823V915M1845.5 829.5V915M1846.5 829.5V915M1847.5 829.5V915M1848.5 829.5V911M1849.5 830.5V921M1850.5 821V921M1851.5 814V921M1852.5 814V921M1853.5 814V906M1854.5 814V906M1855.5 820.5V914M1855.5 920.5V927M1856.5 820.5V914M1856.5 920.5V927M1857.5 820.5V826M1857.5 831.5V914M1857.5 920.5V927M1858.5 820.5V927M1859.5 822.5V921M1860.5 822.5V921M1861.5 822.5V921M1862.5 823V912M1863.5 826V908.5M1863.5 917.5V919.5M1864.5 826V919.5M1865.5 822.5V919.5M1866.5 822.5V919.5M1867.5 822.5V919.5M1868.5 822.5V899.5M1869.5 822.5V915M1870.5 828V924M1871.5 828V924M1872.5 828V924M1873.5 833.5V924M1874.5 822.5V911M1875.5 822.5V911M1876.5 817.5V911M1877.5 817.5V933.5M1878.5 815.5V933.5M1879.5 815.5V933.5M1880.5 815.5V933.5M1881.5 815.5V924.5M1882.5 822.5V929M1883.5 822.5V929M1884.5 819V929M1885.5 819V929M1886.5 819V916.5M1887.5 807.5V916.5M1888.5 807.5V913M1889.5 807.5V914.5M1890.5 807.5V914.5M1891.5 830.5V914.5M1892.5 822V914.5M1892.5 920V925.5M1893.5 822V925.5M1894.5 819V925.5M1895.5 819V925.5M1896.5 819V825.5M1896.5 833V922M1897.5 819V825.5M1897.5 833V928M1898.5 819V825.5M1898.5 833V928M1899.5 840V928M1900.5 830V928M1901.5 830V928M1902.5 830V927.5M1903.5 820V914.5M1904.5 820V826M1904.5 833V914.5M1905.5 820V826M1905.5 833V914.5M1906.5 820V826M1906.5 833V914.5M1907.5 829.5V831.5M1907.5 839V938M1908.5 829.5V938M1909.5 829.5V938M1910.5 829.5V938M1911.5 829.5V918.5M1912.5 832V902.5M1913.5 837V902.5M1914.5 840V902.5M1915.5 840V907M1916.5 840V938M1917.5 840V938M1918.5 843V938M1919.5 843V938M1920.5 843V938M1921.5 843V934M1922.5 845V927M1923.5 844V927M1924.5 843.5V927M1925.5 843.5V916M1926.5 843.5V913.5M1927.5 843.5V913.5M1928.5 817V913.5M1929.5 817V928.5M1930.5 817V928.5M1931.5 817V928.5M1932.5 826.5V928.5M1933.5 826.5V928.5M1934.5 826.5V899.5M1935.5 826.5V900M1936.5 826.5V900M1937.5 839.5V901M1937.5 907.5V914.5M1938.5 823.5V829.5M1938.5 837.5V918M1938.5 926.5V932.5M1939.5 823.5V829.5M1939.5 837V918M1939.5 926.5V932.5M1940.5 823.5V918M1940.5 926.5V932.5M1941.5 823.5V896M1941.5 904.5V918M1941.5 926.5V932.5M1942.5 823.5V918M1943.5 834.5V918M1944.5 846V918M1945.5 820.5V825.5M1945.5 834.5V918M1946.5 820.5V826M1946.5 833V903M1947.5 820.5V826M1947.5 833V924.5M1948.5 820.5V826M1948.5 833V924.5M1949.5 820.5V826M1949.5 833V925.5M1950.5 845V925.5M1951.5 832.5V925.5M1952.5 827.5V925.5M1953.5 827.5V925.5M1954.5 827.5V918M1955.5 827.5V918M1956.5 833V919M1957.5 823V919M1958.5 820V919M1959.5 820V923M1960.5 820V923M1961.5 820V923M1962.5 807.5V815.5M1962.5 824V923M1963.5 807.5V909M1964.5 807.5V909M1965.5 807.5V908M1966.5 807.5V908M1967.5 812.5V904.5M1968.5 812.5V904.5M1969.5 812.5V909M1970.5 827V909M1971.5 827V909M1972.5 827V909M1973.5 830V926.5M1974.5 830V926.5M1975.5 830V926.5M1976.5 835.5V926.5M1977.5 839V922.5M1978.5 839V891.5M1978.5 901V914M1979.5 826V914M1980.5 825V914M1981.5 825V914M1982.5 825V907.5M1983.5 825V907.5M1984.5 825V925M1985.5 832.5V925M1986.5 832.5V925.5M1987.5 826.5V925.5M1988.5 826.5V925.5M1989.5 826.5V925.5M1990.5 826.5V911M1991.5 826V911M1992.5 826V910M1993.5 815V910M1994.5 815V920M1995.5 815V929M1996.5 815V929M1997.5 851.5V929M1998.5 851.5V929M1999.5 848.5V929M2000.5 832.5V929M2001.5 832.5V927M2002.5 832.5V930M2003.5 832.5V931M2003.5 937V953.5M2004.5 851.5V953.5M2005.5 852.5V953.5M2006.5 852.5V953.5M2007.5 852.5V951.5M2008.5 854V951.5M2009.5 848V951.5M2010.5 848V958.5M2011.5 848V958.5M2012.5 848V958.5M2013.5 848V861M2013.5 870V958.5M2014.5 868V978.5M2015.5 868V978.5M2016.5 868V978.5M2017.5 867V978.5M2018.5 867V944M2019.5 867V944M2020.5 867V944M2021.5 867V934.5M2022.5 849V854M2022.5 863.5V941.5M2023.5 849V854M2023.5 863.5V958M2024.5 849V854M2024.5 863.5V958M2025.5 849V958M2026.5 855V958M2027.5 855V942M2027.5 948.5V954.5M2028.5 855V942M2029.5 872.5V952.5M2030.5 872.5V952.5M2031.5 872.5V952.5M2032.5 866.5V952.5M2033.5 866.5V948M2034.5 866.5V932M2035.5 862.5V932M2036.5 862.5V933.5M2036.5 941.5V947.5M2037.5 862.5V947.5M2038.5 849V855.5M2038.5 862.5V947.5M2039.5 849V855.5M2039.5 862.5V947.5M2040.5 849V855.5M2040.5 862.5V939.5M2041.5 849V855.5M2041.5 862.5V939.5M2042.5 865V939.5M2043.5 865V954.5M2044.5 862V954.5M2045.5 862V954.5M2046.5 862V954.5M2047.5 862V946M2048.5 868V946M2049.5 857V946M2050.5 857V943M2051.5 857V943M2052.5 857V943M2053.5 867V945.5M2054.5 869V945.5M2055.5 869V945.5M2056.5 858.5V945.5M2057.5 858.5V944.5M2058.5 858.5V944.5M2059.5 858.5V944.5M2060.5 868V944.5M2061.5 868V944.5M2062.5 868V943M2063.5 868V943M2064.5 868V939M2065.5 849.5V856M2065.5 863V954.5M2066.5 849.5V856M2066.5 863V954.5M2067.5 849.5V856M2067.5 863V954.5M2068.5 849.5V856M2068.5 863V959M2069.5 866.5V959M2070.5 868.5V959M2071.5 868.5V959M2072.5 858V945M2073.5 858V945M2074.5 858V955.5M2075.5 858V964M2076.5 874.5V964M2077.5 869V964M2078.5 866.5V964M2079.5 866.5V945.5M2080.5 866.5V945.5M2081.5 860V945M2082.5 859.5V945M2083.5 859.5V974.5M2084.5 859.5V974.5M2085.5 859.5V974.5M2086.5 883.5V974.5M2087.5 883.5V951.5M2088.5 883.5V954.5M2089.5 883.5V954.5M2090.5 889V954.5M2091.5 846.5V954.5M2092.5 846.5V957M2093.5 846.5V957M2094.5 846.5V957M2095.5 846.5V957M2096.5 863.5V953.5M2097.5 866V969.5M2097.5 978.5V983.5M2098.5 866V969.5M2098.5 978.5V983.5M2099.5 866V969.5M2099.5 978.5V983.5M2100.5 884.5V969.5M2100.5 978.5V983.5M2101.5 892V971.5M2102.5 883V971.5M2103.5 883V949M2103.5 957V971.5M2104.5 883V949M2104.5 957V971.5M2105.5 867.5V951M2105.5 958V964.5M2106.5 867.5V951M2106.5 958V964.5M2107.5 867.5V951M2107.5 958V964.5M2108.5 867.5V951M2108.5 958V964.5M2109.5 872V951M2110.5 872V951M2111.5 882.5V956.5M2111.5 963.5V970M2112.5 882.5V956.5M2112.5 963.5V970M2113.5 882.5V956.5M2113.5 963.5V970M2114.5 887.5V956.5M2114.5 963.5V970M2115.5 876.5V967.5M2116.5 876.5V967.5M2117.5 876.5V967.5M2118.5 876.5V967.5M2119.5 871V967.5M2120.5 871V962.5M2121.5 871V962.5M2122.5 867V962.5M2123.5 867V962.5M2124.5 867V874M2124.5 880V962.5M2125.5 867V874M2125.5 880V958M2126.5 881V958M2127.5 874V958M2128.5 874V956M2128.5 962V978M2129.5 874V956M2129.5 962V978M2130.5 874V956M2130.5 962V978M2131.5 880.5V956M2131.5 962V978M2132.5 880.5V951.5M2133.5 880.5V955M2134.5 871.5V967.5M2135.5 871.5V967.5M2136.5 871.5V967.5M2137.5 865.5V967.5M2138.5 865.5V958M2139.5 865.5V958M2140.5 865.5V958M2141.5 881V967.5M2142.5 881V967.5M2143.5 887.5V967.5M2144.5 877V967.5M2145.5 877V955M2146.5 877V955M2147.5 869V958.5M2148.5 869V960.5M2149.5 869V960.5M2150.5 868V960.5M2151.5 844V861M2151.5 866.5V960.5M2152.5 844V960.5M2153.5 844V959.5M2154.5 844V959.5M2155.5 857V947.5M2156.5 867.5V947.5M2157.5 850.5V940.5M2158.5 850.5V954M2159.5 850.5V954M2160.5 850.5V954M2161.5 852V954M2162.5 852V953M2163.5 863.5V953M2164.5 863.5V935.5M2165.5 865.5V935.5M2166.5 865.5V942.5M2167.5 876V942.5M2168.5 861V961M2169.5 861V961M2170.5 859.5V961M2171.5 859.5V961M2172.5 859.5V948.5M2173.5 859.5V948.5M2174.5 863V948.5M2175.5 863V963M2176.5 864.5V963M2177.5 867V963M2178.5 867V963M2179.5 868V963M2180.5 864.5V963M2181.5 864.5V963M2182.5 864.5V963M2183.5 864.5V963M2184.5 866.5V961M2185.5 867.5V961M2186.5 867.5V953.5M2187.5 867.5V953.5M2188.5 851.5V947M2189.5 851.5V947M2190.5 851.5V947M2191.5 851.5V947M2192.5 851.5V947M2193.5 845.5V945M2194.5 845.5V945M2195.5 845.5V957M2196.5 845.5V957M2197.5 845.5V962.5M2198.5 850.5V962.5M2199.5 850.5V962.5M2200.5 850.5V962.5M2201.5 874V955.5M2202.5 876.5V955.5M2203.5 865V955.5M2204.5 855V950.5M2205.5 854.5V950.5M2206.5 846.5V973.5M2207.5 846.5V973.5M2208.5 846.5V973.5M2209.5 846.5V973.5M2210.5 855.5V952M2211.5 855.5V952M2212.5 855.5V954M2213.5 855.5V942M2213.5 947.5V954M2214.5 855.5V954M2215.5 855.5V954M2216.5 855.5V953M2217.5 855.5V869M2217.5 875.5V957.5M2218.5 863.5V957.5M2219.5 863.5V957.5M2220.5 857V957.5M2221.5 857V957.5M2222.5 857V950.5M2223.5 857V950.5M2224.5 861V952.5M2225.5 861V952.5M2226.5 863.5V952.5M2227.5 863.5V939M2227.5 946V952.5M2228.5 863.5V948M2229.5 863.5V948M2230.5 858V950M2231.5 858V950M2232.5 858V950M2233.5 858V950M2234.5 870.5V950M2235.5 858.5V944.5M2236.5 858.5V943.5M2237.5 858.5V865.5M2237.5 871.5V950M2238.5 858.5V865.5M2238.5 871.5V950M2239.5 865V950M2240.5 865V957M2241.5 865V957M2242.5 865V957M2243.5 878.5V957M2244.5 878.5V957M2245.5 878.5V945.5M2246.5 878.5V927M2247.5 881V932M2247.5 941V949M2248.5 870V949M2249.5 867.5V949M2250.5 867.5V949M2251.5 867.5V949M2252.5 867.5V947M2253.5 867.5V947M2254.5 858.5V865M2254.5 871V947M2255.5 858.5V865M2255.5 871V956M2256.5 858.5V865M2256.5 871V956M2257.5 858.5V865M2257.5 871V956M2258.5 856.5V956M2259.5 856.5V946M2260.5 856.5V962M2261.5 856.5V962M2262.5 859V865.5M2262.5 872V962M2263.5 870.5V962M2264.5 870.5V955.5M2265.5 870.5V955.5M2266.5 861.5V955.5M2267.5 861.5V955.5M2268.5 861.5V955.5M2269.5 861.5V962M2270.5 861.5V962M2271.5 865V870M2271.5 879V962M2272.5 865V870.5M2272.5 879V962M2273.5 865V945.5M2274.5 865V945.5M2275.5 865V964.5M2276.5 875.5V964.5M2277.5 891.5V964.5M2278.5 885V964.5M2279.5 885V961.5M2280.5 885V970M2281.5 884V970M2282.5 884V970M2283.5 884V970M2284.5 861.5V966M2285.5 861.5V966M2286.5 861.5V966M2287.5 861.5V966M2288.5 869V943M2289.5 860V945.5M2290.5 860V945.5M2291.5 860V945.5M2292.5 860V945.5M2293.5 881.5V952M2294.5 881.5V952M2295.5 881.5V952M2296.5 856.5V872M2296.5 879V952M2297.5 856.5V947M2298.5 856.5V947M2299.5 856.5V947M2300.5 863.5V955M2301.5 846V955M2302.5 846V955M2303.5 846V955M2304.5 846V949.5M2305.5 849.5V949.5M2306.5 849.5V937.5M2306.5 943V949.5M2307.5 849.5V949.5M2308.5 849.5V951.5M2309.5 868V951.5M2310.5 874.5V951.5M2311.5 874.5V951.5M2312.5 871V951M2313.5 859V862M2313.5 871V951M2314.5 859V951M2315.5 859V951M2316.5 859V943M2317.5 859V957.5M2318.5 844.5V957.5M2319.5 844.5V957.5M2320.5 844.5V957.5M2321.5 844.5V955.5M2322.5 859.5V942.5M2322.5 949V955.5M2323.5 859.5V942.5M2323.5 949V955.5M2324.5 859.5V957M2325.5 859.5V957M2326.5 869.5V957M2327.5 847V957M2328.5 847V947M2329.5 847V951.5M2330.5 846.5V951.5M2331.5 846.5V951.5M2332.5 846.5V951.5M2333.5 846.5V941.5M2334.5 846.5V941.5M2335.5 852V939M2336.5 852V939M2337.5 852V947.5M2338.5 854.5V947.5M2339.5 855.5V947.5M2340.5 860.5V947.5M2341.5 860.5V939.5M2342.5 861V953M2343.5 852.5V953M2344.5 845.5V953M2345.5 845.5V953M2346.5 845.5V942M2347.5 845.5V944.5M2347.5 951.5V958M2348.5 845.5V944.5M2348.5 951.5V958M2349.5 855.5V944.5M2349.5 951.5V958M2350.5 855.5V944.5M2350.5 951.5V958M2351.5 855.5V930M2352.5 855.5V942M2353.5 857.5V952M2354.5 857.5V952M2355.5 854V952M2356.5 851V952M2357.5 850V952M2358.5 850V943.5M2359.5 850V923.5M2359.5 932.5V943.5M2360.5 850V944M2361.5 850V944M2362.5 854.5V944M2363.5 857.5V944M2364.5 856V932.5M2365.5 856V932.5M2366.5 848.5V932.5M2367.5 848.5V922.5M2368.5 837.5V921M2369.5 837.5V921M2370.5 837.5V921M2371.5 836V921M2372.5 834V920.5M2373.5 834V922.5M2374.5 834V926M2375.5 834V933.5M2376.5 835.5V938M2377.5 835.5V938M2378.5 835.5V938M2379.5 844.5V938M2380.5 840V909.5M2380.5 915.5V921M2381.5 840V933.5M2382.5 840V933.5M2383.5 836V933.5M2384.5 836V933.5M2385.5 836V926M2386.5 836V926M2387.5 855.5V921M2388.5 844.5V923M2389.5 835V923M2390.5 835V923M2391.5 835V923M2392.5 831V923M2393.5 831V932.5M2394.5 831V932.5M2395.5 831V932.5M2396.5 838V932.5M2397.5 832.5V932.5M2398.5 832.5V932M2399.5 832.5V932M2400.5 832V932M2401.5 832V927M2402.5 824.5V912.5M2403.5 824.5V913.5M2404.5 824.5V913.5M2405.5 824.5V932M2406.5 845V932M2407.5 845V932M2408.5 851V932M2409.5 835V912.5M2410.5 835V912.5M2411.5 835V938M2412.5 835V938M2413.5 835V938M2414.5 844V938M2415.5 841.5V927M2415.5 936V938M2416.5 841.5V930.5M2417.5 823.5V930.5M2418.5 823.5V939.5M2419.5 823.5V939.5M2420.5 823.5V939.5M2421.5 836.5V939.5M2422.5 836.5V936M2423.5 836.5V936M2424.5 836.5V909M2424.5 916.5V926.5M2425.5 836.5V909M2426.5 836.5V908.5M2426.5 914.5V921M2427.5 836.5V921M2427.5 928.5V934M2428.5 856V934M2429.5 859.5V934M2430.5 844V934M2431.5 834V929M2432.5 834V929M2433.5 834V935.5M2434.5 834V935.5M2435.5 836.5V936M2436.5 829.5V936M2437.5 829.5V936M2438.5 829.5V936M2439.5 829.5V933.5M2440.5 829.5V933.5M2441.5 857V933.5M2442.5 836.5V842.5M2442.5 850V933.5M2443.5 836.5V842.5M2443.5 850V925M2444.5 836.5V842.5M2444.5 850V930M2445.5 827.5V930M2446.5 827.5V833.5M2446.5 840V930M2447.5 827.5V833.5M2447.5 840V930M2448.5 827.5V833.5M2448.5 840V908M2449.5 827.5V832M2449.5 840V909M2450.5 843.5V913M2451.5 833V913M2452.5 833V913.5M2453.5 833V913.5M2454.5 833V922M2455.5 856.5V922M2456.5 847V922M2457.5 847V922M2458.5 837V912M2459.5 822.5V933M2460.5 814.5V933M2461.5 814.5V933M2462.5 814.5V933M2463.5 814.5V911.5M2464.5 826.5V922M2465.5 826.5V922M2466.5 831.5V922M2467.5 831.5V900M2467.5 906.5V922M2468.5 820.5V827M2468.5 833.5V898M2469.5 820.5V898.5M2470.5 820.5V900.5M2471.5 820.5V915.5M2472.5 822V915.5M2473.5 838V915.5M2474.5 845.5V915.5M2475.5 821.5V913.5M2476.5 821.5V927M2477.5 821.5V927M2478.5 821.5V930M2479.5 821V930M2480.5 821V908M2480.5 914.5V930M2481.5 821V940M2482.5 821V940M2483.5 842V940M2484.5 842V940M2485.5 842V933M2486.5 843V931M2487.5 838.5V931M2488.5 838.5V927.5M2489.5 838.5V927.5M2490.5 838.5V939.5M2491.5 842V847M2491.5 855.5V939.5M2492.5 850V939.5M2493.5 850V939.5M2494.5 847V931.5M2495.5 847V931.5M2496.5 837V931.5M2497.5 837V931.5M2498.5 837V924.5M2499.5 837V924.5M2500.5 837V917.5M2501.5 839V919M2501.5 925.5V932M2502.5 831.5V932M2503.5 831.5V933.5M2504.5 831.5V933.5M2505.5 831.5V933.5M2506.5 850.5V944M2507.5 855V944M2508.5 855V944M2509.5 857V944M2510.5 857V939M2511.5 840.5V948M2512.5 840.5V948M2513.5 840.5V948M2514.5 840.5V948M2515.5 863V940M2516.5 856.5V940M2517.5 856.5V936M2518.5 844V847.5M2518.5 856.5V936M2519.5 844V936M2520.5 844V943M2521.5 844V943M2522.5 844V943M2523.5 844V943M2524.5 844V925.5M2525.5 844V926.5M2526.5 851.5V927.5M2527.5 851.5V936.5M2528.5 856.5V936.5M2528.5 942.5V948M2529.5 840V845.5M2529.5 854V936.5M2529.5 942.5V948M2530.5 840V845.5M2530.5 854V936.5M2530.5 942.5V948M2531.5 840V936.5M2531.5 942.5V948M2532.5 840V941M2533.5 843V941.5M2534.5 843V950M2535.5 835V950M2536.5 835V957M2537.5 835V957M2538.5 835V957M2539.5 842V957M2540.5 842V939.5M2541.5 842V939.5M2542.5 855.5V938M2542.5 944.5V951M2543.5 855.5V938M2543.5 944.5V951M2544.5 845.5V938M2544.5 944.5V951M2545.5 845.5V951M2546.5 845.5V940.5M2547.5 845.5V955M2548.5 845.5V955M2549.5 851.5V955M2550.5 851.5V973.5M2551.5 851.5V951.5M2551.5 959V973.5M2552.5 866.5V951.5M2552.5 959V973.5M2553.5 866.5V951.5M2553.5 959V973.5M2554.5 855V950.5M2555.5 855V946M2556.5 855V946M2557.5 855V950M2558.5 855V950M2559.5 859V950M2560.5 861.5V950M2561.5 861.5V957M2562.5 870.5V957M2563.5 852V957M2564.5 852V957M2565.5 852V944M2566.5 852V955M2567.5 873V955M2568.5 880V955M2569.5 873V955M2570.5 873V940.5M2571.5 869.5V944M2572.5 869.5V944M2572.5 950V956M2573.5 867.5V956M2574.5 867.5V956M2575.5 867.5V956M2576.5 867.5V956M2577.5 863V946.5M2578.5 863V961.5M2579.5 863V961.5M2580.5 863V961.5M2581.5 874V962.5M2582.5 874V967.5M2583.5 874V967.5M2584.5 875.5V967.5M2585.5 875.5V967.5M2586.5 875.5V954M2587.5 875.5V954M2588.5 882V959M2589.5 877.5V959.5M2590.5 873V959.5M2591.5 873V959.5M2592.5 873V959.5M2593.5 866.5V959.5M2594.5 866.5V959.5M2595.5 866.5V959.5M2596.5 866.5V966M2597.5 865.5V880.5M2597.5 886V966M2598.5 865.5V879M2598.5 887V966M2599.5 865.5V879M2599.5 887V966M2600.5 850V966M2601.5 850V863.5M2601.5 872V961M2602.5 850V961M2603.5 850V938.5M2604.5 845.5V937.5M2605.5 845.5V950M2606.5 845.5V950M2607.5 845.5V950.5M2608.5 845.5V950.5M2609.5 857V950.5M2610.5 857V950.5M2611.5 857V948.5M2612.5 857V862.5M2612.5 868.5V948.5M2613.5 857V862.5M2613.5 868.5V948.5M2614.5 869.5V946.5M2615.5 857V938M2616.5 857V935.5M2617.5 857V931.5M2618.5 857V929.5M2619.5 862V929.5M2620.5 845.5V935.5M2620.5 941V948M2621.5 845.5V935.5M2621.5 941V948M2622.5 845.5V935.5M2622.5 941V948M2623.5 845.5V935.5M2623.5 941V948M2624.5 845.5V934.5M2625.5 856.5V934.5M2626.5 842.5V934.5M2627.5 831V949.5M2628.5 831V949.5M2629.5 831V949.5M2630.5 831V949.5M2631.5 844.5V949.5M2632.5 844.5V923.5M2633.5 844.5V930M2634.5 844.5V935M2635.5 836.5V935M2636.5 836.5V944M2637.5 836.5V944M2638.5 836.5V944M2639.5 837V944M2640.5 862V939M2641.5 862V939M2642.5 854V931M2643.5 852V929M2644.5 852V938.5M2645.5 837.5V938.5M2646.5 837.5V938.5M2647.5 837.5V853M2647.5 860V938.5M2648.5 837.5V853M2648.5 860V938.5M2649.5 849V938.5M2650.5 849V928.5M2651.5 849V928.5M2652.5 849V928.5M2653.5 851V923M2654.5 851V915.5M2655.5 858.5V920.5M2656.5 836V922.5M2657.5 836V922.5M2657.5 929.5V936M2658.5 836V922.5M2658.5 929.5V936M2659.5 836V922.5M2659.5 929.5V936M2660.5 845.5V922.5M2660.5 929.5V936M2661.5 845.5V925.5M2662.5 839.5V936.5M2663.5 839.5V936.5M2664.5 839.5V936.5M2665.5 839.5V936.5M2666.5 860V936.5M2667.5 860V943M2668.5 860V943M2669.5 860V943M2670.5 860V943M2671.5 856V941.5M2672.5 854V954.5M2673.5 854V954.5M2674.5 854V954.5M2675.5 841V954.5M2676.5 841V923M2677.5 841V923M2678.5 841V946.5M2679.5 856V946.5M2680.5 827.5V834.5M2680.5 840.5V946.5M2681.5 827.5V946.5M2682.5 827.5V925.5M2683.5 827.5V919.5M2684.5 834.5V841.5M2684.5 847V863.5M2684.5 869.5V919.5M2685.5 872.5V893.5" fill="none" stroke="#1f77b4" stroke-width="1.06" shape-rendering="crispEdges"/>
<path d="M455.5 879.8V895.3M455.3 929.6V945.1M456.4 941.7V957.2M456.5 852.5V863.2M457.5 923.3V938.8M457.7 878.9V894.4M458.2 931.1V946.6M458.8 867.6V878.6M459.6 942.7V944.5M459.2 889.5V890.8M460.1 925.9V939.9M460.6 878.6V887.5M461.3 878.9V894.4M461 935V936.9M462.5 947.5V948.9M462.2 894.5V896.5M463.7 894.5V910M463.4 945.2V949.8M465 869.6V877.3M464.1 942.1V943.6M465.1 869.6V877.4M465.8 936.1V951.6M466.4 920.3V935.4M466.4 877.4V891.4M467.9 854.4V869.9M467.8 929.4V932.9M468.2 941.3V956.8M468.1 852.5V868M469.5 862.4V863.7M469.2 905.7V919.6M470.1 873.4V874.7M470.6 925.1V928.9M471.8 939.9V955.4M471 886.3V901.6M472.2 869.2V877.3M472.7 927.8V943.3M473.5 916.3V930.5M473.9 878.2V889.4M474.6 865.4V875.8M474.8 943.8V959.3M475.8 933.9V937.2M475.1 885.3V892.7M476.9 881V896M476 918.2V930.3M477.1 909.9V910.5M477.6 880.5V896M478.1 874.1V877.7M478.7 940.1V955.6M479.1 935.2V936.9M479.3 856.4V871.9M480.9 944.8V960.3M480.4 878.4V880.8M481.1 946.9V962.4M481.7 869.2V882.2M482.6 937.5V938.6M482.5 871.5V887M483.9 881.8V897.3M483.6 930.3V945.8M484.3 881.5V897M484 932V937.6M485.3 857.8V863M485.6 919.3V934.8M486.1 864.7V877.7M487 928.2V930.3M487.1 920.6V930.3M487.9 850.1V854.5M488.1 956.7V964.3M488 850.1V861.2M489.9 885.1V897.6M489.2 919.4V934.7M490.3 875V878M490.6 938.7V948.1M491.7 860.8V868.7M491.5 942.5V958M492.4 935.7V937.1M492.9 883.1V896.7M493 936.1V951.4M493 883.1V885M494.9 879.1V889.5M494.2 937.4V938.4M496 935.7V951.2M495.1 879.1V884.2M496.9 945.9V956.6M496.5 904.1V906.7M497 951.8V956.6M497 874.3V878.5M498.4 933V934.9M498.8 866.2V868.4M500 934.3V945.4M499.7 868.9V870.1M501 869.2V879.4M500.1 941.1V945.4M501.1 869.2V874.5M501.5 921.6V937.1M502.9 862.6V873.2M502.7 950V956M503.7 940.4V955.9M503 862.6V867.5M504.2 901V907.1M504.5 939.2V953.7M505.1 933.4V948.9M505.1 875.4V882.3M506.1 865.8V881.3M506.9 908.7V924.2M507.5 898.7V907.9M507.7 956.1V971.6M508.2 897.4V902.9M508.8 957.5V958.9M509.3 862V871.6M509.6 941.3V950.2M510.9 892.6V908.1M510.2 932.4V947.6M511.5 884.9V892.6M511 959.2V964.9M512.4 941.4V955.4M512.8 858.3V873.6M513.3 948.1V950.5M513.3 881.5V897M514.4 887.6V903.1M514.5 934.7V950.2M515 951V962.8M515.6 869.1V884.6M516.8 961.6V977.1M516 871.5V886.4M517.6 941.1V952.6M517.7 889.6V897.5M519 893V906.5M518.2 942.5V948.1M519.6 873.7V880.5M519.9 933.5V947.9M520.4 901.4V902.5M520 946.7V947.9M521.3 913.6V927.3M521.4 966.5V971.5M522.1 933.2V948.7M522.8 903.5V919M523.9 970.7V980.2M523.5 907.2V910.2M524 974.3V980.2M524 922.3V923.2M525 904.5V910.9M525.3 964.6V969.9M527 872.8V883.6M526.1 951.8V967.3M527.1 872.8V877.5M527.7 955.4V970.9M528.6 892.2V907.1M528.5 946.7V960.2M529.8 890.6V905.2M529.4 942.3V948.4M530.4 963.8V964.9M530.9 903.5V919M531.8 948.4V953.4M531.6 913.1V921.3M532.6 955.7V971M532.6 894.3V904.6M533.5 955.8V957.7M533.3 890.3V891.4M534 977.7V990.4M534.4 893.5V909M535.3 959.6V966.8M536 894.3V909.8M536.2 960.2V975.7M536.1 893.6V909.1M537.9 976.5V986.1M537.2 905.7V921.2M538 980.3V986.1M538.1 913.7V925.3M539.6 972.8V987.2M539.3 905.7V921.2M540.1 977.4V991M540.8 900V915.5M541.5 934.8V936M541.7 900V907.8M542.4 892.6V894.5M542.9 969.2V974.2M543 963.8V974.2M543.9 910.1V914.1M544.1 910.1V921.7M544.6 964.9V978M545.5 856V863.6M545.2 939.4V952.4M546.8 957.7V968.6M546.9 906.1V912.9M547.4 973.5V984.4M547 906.1V914.8M548.3 907V920.1M548.4 960.5V975.7M549.1 965.6V969.3M550 922.9V934.2M550.6 973.4V987.6M550.7 906.2V913M551 959.9V970.7M551.3 924.7V931M552.5 967V981.9M552.4 909.3V918.3M553.2 918.5V927.7M553.6 976.9V992.4M554.1 921.1V925.1M555 950V965.5M555.6 927.8V929.6M555.1 956.1V960.8M556.1 977.9V993.4M556.5 919.5V925.4M557.9 904.9V920.4M557.2 943.8V954.7M558.2 907.3V911.7M558.6 948.9V958.9M559.5 954.4V959.9M559.4 938.1V944M560.9 921.7V937.2M560.4 985.8V996.6M561.2 901.2V903.3M561 966.1V979.1M562.6 914.5V927.9M562.2 975.3V984.9M563.6 963.7V978.9M563.1 923.5V939M564.2 962.3V977.8M564.4 940.1V945.4M565.5 937.9V953.2M565.8 988.3V1003.8M566.4 975.7V989.1M566.2 900.9V907.2M567.5 988.1V1003.6M567.7 904.7V905.9M568.6 933.2V941.6M568.1 970.8V986.3M569 961.4V973.1M569.5 937.1V943.9M570.4 994.2V1004.7M570.3 929.8V931.2M571.8 925.2V926M572 968.9V984.4M572.1 965.6V981.1M572.1 921.2V936.7M573.5 1021.2V1021.7M573.1 936.2V940M574.3 970.1V982M574.9 926.8V929.2M575.8 988.3V993.8M575 926.8V939.9M576.1 983.9V989.5M576.5 918.5V932.8M577.2 990.4V992.8M577.9 931V946.5M578.4 986.5V999.8M578.3 919.9V935.4M579.2 949.6V964M579.9 1007V1013.8M580.2 937.2V943M580.1 1005.1V1013.8M581.5 936.1V951.6M581.2 1011.9V1015.1M582.2 991.9V1002.8M582.9 936V940.5M583.9 975.8V991.3M583 927.9V936M584.4 991.3V1006.8M584.7 938.4V947.1M585.3 966V972.9M586 934.4V941.7M586.5 988.8V993.2M586.1 934.4V942.7M587 1001.4V1005.3M587.9 935.2V950.7M588 936.8V952.3M588.8 975.6V978.8M589.7 942.7V951.2M589.3 989.5V995.6M591 934.4V936.2M590.6 1013.9V1022.6M591.2 970.7V979.4M591.1 934.4V941.8M592 980.6V989.2M592.1 948V953.4M593.4 1016.5V1031.1M593.9 943.3V956.5M594.6 971.8V982.2M594.1 943.3V945.5M595.2 988.3V994.1M595.4 952.8V955.4M596.6 1011.2V1012.8M596.3 926.7V942.2M597.9 927.4V928M597.2 997.4V1000.2M598.1 927.4V942.2M598.3 1015.5V1025.6M599.9 946.5V949M599.3 994V996.7M600.9 947.9V957.1M600.1 982.5V991.1M601 947.9V953.6M601.7 1009.1V1024.6M602.6 944.5V952.6M602.7 980.8V986M603.3 959.4V970.4M603.2 991.8V992.6M604.6 991.4V994.8M604.1 960.1V971M605.1 1009.8V1016.1M605.3 940.3V955.8M606.4 997.5V998.8M606.8 956.4V961.3M607.7 994.6V1010.1M607.4 950.2V951.6M608.9 999.9V1003.9M608.3 950.1V950.7M609.6 956.4V958.1M609.9 999.2V999.9M610.9 958.9V962.8M610 985.2V999.9M611.2 939.2V949.5M611.8 1015.4V1030.9M612.2 950.3V958.6M612.8 1012.6V1027.1M613.7 932.7V936.8M613.4 1021.5V1023.6M614.8 1001.9V1009.7M614.5 947V958.7M615.7 957V961.1M615.4 985.6V995.6M617 990.1V1005.3M616.1 958.2V962.4M617.7 939.2V954.7M617.5 990.1V1005.6M618.1 934V935.6M618.2 999V1014.5M619.1 1014.9V1017.4M619.5 943.5V947.8M620.4 1007V1015M620.8 967.9V973.7M621.7 998.9V1014.2M621.3 956.4V968.4M622.6 988.8V1004.3M622.4 945.1V945.8M623.3 943.2V949M623 997.4V1006.5M624.2 994.4V996.2M624.8 932.5V948M625.8 996.3V1011.8M625.1 958.3V962.7M626.5 942V948.6M626.2 1012.4V1013.8M627.1 1015.9V1018M627.4 945.4V953.5M628.7 1038.4V1040.5M628.9 964.4V967.6M629.3 952.5V968M629.9 1017.3V1032.8M630.5 1000V1014.6M630.3 941.9V950.4M631.1 997.2V1012.7M631.1 957.8V968.3M632.3 942.5V950.8M632.9 995.4V1010.8M633 999.4V1014.9M633.5 929.4V944.9M635 984V985.5M634.6 954.3V960.7M636 1002.1V1010.1M635.6 964.9V966M636.1 1002.6V1010.1M636.8 958.7V974.2M637.9 959.4V965.8M637.4 1008.6V1009.5M638.4 1006V1017.6M638.7 947.2V962.7M639.2 1013.6V1022.8M639.1 950V962.5M640.9 989.8V999.5M640.4 935.5V951M641 993.8V999.5M641.8 941.2V956.7M642.3 937.9V953.4M642 989.3V1004.8M643.2 997.6V1003.1M643.3 931.8V942.1M644.9 939.3V954.6M644.7 1000.5V1010.9M645.6 987.3V1002.8M645.1 928.9V939.3M646 943.5V949M646.1 1022.3V1026M647.2 982.9V994.5M647.3 947.5V961.8M648.7 940V955.5M648.6 996.3V1009.2M649.6 983V992.4M649.7 923V925.8M650.1 927.3V942.8M650.3 993.9V1009.4M651.4 952.2V954.7M651.9 999V1007.1M652.4 1012.8V1024.2M652.7 948.1V960.2M653.2 988.1V997.2M653.9 930.6V933.9M654.5 923.7V931M654.8 1005.2V1020.3M655.7 932.5V940.8M655.3 970V985.2M656.3 985.3V991.6M656.9 934.4V949.9M657.5 986.2V998.9M658 926.9V934.4M658.4 993.6V995.3M658.7 924.4V930.4M659 988V994.2M659.9 937.7V939.5M660.2 1002.4V1007M660 937.7V951.3M661.1 945V958.6M661.1 987.5V995.4M662.7 973.2V988.5M662.5 918V933.5M663.6 981V991.1M663.2 917.6V920.7M664.9 940.4V948.9M664.9 1000V1015.5M665 976.2V981.5M665.4 933.7V946.7M666.3 984.7V996.2M666.1 944.8V949.3M667.4 931.6V942M667.1 992.7V1000.7M668.9 927.4V932.4M668 982.7V998.2M669.4 991.5V1007M669.5 926.4V938.9M670.6 941.7V957.2M670.3 967.7V979.4M671.5 980.6V987.7M672 927.4V928.8M672.6 968.3V983.8M672.5 920.4V935.9M673.8 942.1V951.1M673.5 995.6V1007.3M674.9 989.9V1005.4M674.2 913.7V917.1M675.1 902.6V910.1M675.1 983.4V998.9M676.1 934.4V937.6M676.5 983V993.2M677.1 925.9V927.2M677.6 983.7V998.7M678.5 907.1V909.6M678.7 971.2V986.7M680 936.1V943.9M679.3 982V997.5M680.9 956.4V971.9M680.1 936.1V938.4M681.6 987.9V988.5M681.2 952.9V958.2M682.4 945.1V949.5M682.9 970.5V976.1M683.4 932.7V948.1M683.8 977.5V993M684.8 973.3V979.9M684.2 933.6V945.9M685.5 925.3V931M685.9 964V979.5M686 926.7V942.2M686.4 981.3V990.8M687 972.5V974M687.2 943.3V953.4M688.8 899V904.4M688.2 972.3V978.5M689.2 919.8V935.3M689.9 987V997.6M690.6 919.8V935.3M690.1 973.8V979.3M691 917.4V918.6M691.9 949.3V960.8M692.3 892.4V907.9M692.9 974.4V988.7M693.2 891.3V892M693.1 987.5V988.7M694.1 945.2V947.8M694.7 911.9V927.4M695.8 953.8V963.9M695.9 920.6V929.7M696 956V971.5M696.8 898.2V901.1M697.1 947.6V954.2M697.3 910.5V924.1M699 899.2V914.7M698.3 970.3V985.8M699.9 964.1V973.9M699.2 905.6V910.2M700.4 983.8V984.4M700.3 895V910.5M701 988.3V995.8M701.6 903V918.5M703 957.7V972.9M702.2 935.1V950.6M703.5 911.8V914.3M703.2 968.4V981.1M704.3 908.3V923.3M704.8 980V992.7M705.4 958.5V972.2M705.9 903.8V907.9M706.2 898.7V914.2M706.3 947.7V958.6M707.1 919.4V923.8M708 979V990.1M708.6 918.7V928M708.1 985.6V990.1M709.8 963.8V967.9M709.4 891.9V898M710.6 970.1V982.6M710.9 901.5V906.4M711.1 901.5V912.1M711.3 963.2V967.7M712.5 965.4V972.6M712.2 883.8V891M713.8 914.3V920.3M713.1 949.2V953.2M714.5 894.6V896.4M714.8 959.5V969.8M715.7 948.8V954M715.8 891.7V892.5M716.1 907.3V913.2M716.7 975V986.8M717.5 906.7V922.2M717.8 979V982M718.7 908.1V914.1M718 969.5V975.4M719.4 928.7V944.2M719.3 890.9V897.5M720.5 877.2V882.2M720.1 941.8V950M721.1 914.7V919.7M721.5 968.9V974.2M722 933.5V949M722.5 897.2V904.2M723.9 873.4V883.2M723 909.3V915M724.1 930.2V935.5M724.7 851.8V865.9M725.3 856.5V872M725.5 926.6V930.8M726.8 825.8V835.7M726.6 916.9V931.8M727 910.4V915.3M727.5 835.4V846.2M728.7 873.7V874.5M728.4 799.3V802.2M729.5 800.1V815.6M729.1 856.4V871.9M730.1 826.4V841.9M730.6 780.4V784.2M731.5 748.1V748.8M731.8 836.1V849.5M732 796.9V809.5M732 752.5V768M734 774V776.2M733.1 838.4V845.9M734.7 809.1V823.7M734.1 735.6V736.2M735.6 814.8V815.9M735.8 745.6V750.4M736.3 790.3V805.8M736.9 762.7V778.2M737.7 803.2V818.7M737.8 755.7V768.9M738.3 719.6V726M738.1 809.1V812M739.5 804.2V817.8M739.9 733.6V742.6M740 733.6V740.1M740.4 773V781M741.3 796.9V800.6M741.9 705.1V720.6M742.6 709.3V722.1M742.4 783V785.8M743.5 677.9V688.5M743.3 739.6V755.1M744.4 624.4V636.2M744.1 707.6V723.1M745.8 728.3V731.9M745.5 648.5V657.5M746.4 649.2V658.4M746.3 690.1V705.5M748 641.2V643M747.2 692.6V706.5M748.7 669.8V685.3M748.6 624.5V628.7M749.1 591.8V594M749.9 682.3V697.8M750.3 621.4V625.4M750.5 711.6V727.1M752 703.5V715.5M751.4 653.5V669M752.6 622.4V630.2M752.7 725.6V727.4M753.1 665.7V681.2M753.6 738.7V754.2M754.9 699.1V714.6M754.8 648.6V664.1M755 704.7V720.2M755.9 632.8V646.2M756.3 629.3V643M756.2 708.1V720M757.5 634.8V642.5M757.2 726.6V731.3M758 692.9V708.4M758.6 775V776.5M759.9 767.1V777.3M759.3 680.1V684.1M760.1 705.4V720.9M760.1 772V777.3M761.5 722.9V731M761.6 791.1V801.7M762.4 703.7V714.5M762.2 765.6V781.1M763.7 816.3V818.9M763.9 733.8V749.3M764.2 726.2V732.5M764.9 788.5V803.5M765.2 740.1V752.7M765.5 796.2V811.7M766.1 834.2V839.1M766.6 756.8V768.3M767 789.7V790.6M767.8 672.3V674.9M768.3 665.9V667.8M768.9 721.1V725.4M769.3 741.5V746.6M769.6 657.5V662.9M771 745.7V761.1M770.1 672.5V681M771.1 738.8V754.3M771.6 678.5V694M772.8 784.8V790.3M772.1 718.6V734.1M773.9 682.1V684.6M773.8 769.8V771.6M774.8 750.7V766.2M774.1 682.1V695.1M775.1 804.6V807.3M775.2 711.8V721.2M776.3 695.4V697.2M776 776.7V792.2M777.2 701.8V717.3M777.4 770.3V774.7M778.4 721V723.1M778.7 786.7V790.4M779.3 704.7V709.2M779.5 811.3V816.5M780.2 834.7V843.4M780.8 748.1V750.6M781.1 743.6V751.5M781.4 824.5V836.4M782.7 796.4V803.7M782 724.6V731.7M783.1 764.8V772.6M783.2 829.5V845M784.2 818.8V822.9M784.7 732.8V737.7M785.1 718.3V724.3M785.9 774.7V788M786.7 729.2V739.7M786.3 776V791.5M787.1 793.7V806.7M787.8 732.4V747.9M789 822V823.8M788.6 734V734.9M789.8 706.7V715.3M789.1 810.2V823.8M790 722.1V735.8M790.9 781.6V789.9M791.4 708.4V712.2M791 785.7V789.9M792.1 770.8V773.5M792.6 684.1V696.3M793.7 762V768.5M793.9 674.6V686.3M794.5 729.9V736.9M794 658.7V664.1M795.3 698.2V713.7M795.4 663.5V664.8M797 613.5V627.3M796.1 702.4V713.4M797.3 600.8V615.6M797.5 719.3V721M798.4 624V632.8M798.2 695V697.2M799.7 612.3V621.7M799.5 669.1V672.1M800 669.8V684.6M800.9 596.7V598.1M801.8 576.6V581M801.6 643.2V658.7M802.1 665.5V673.8M802.6 580.7V582.4M803.3 651V653.1M803.4 617.6V633.1M804 614.1V616.6M804.7 672.9V684.2M805.6 556.2V569.7M805.1 635.7V643.4M806.6 529.8V545.3M806.7 596.4V599.2M807.9 590.3V605.8M807.1 523.4V535.3M808.1 557.7V560.8M808.5 626.7V642.2M809.9 530.4V545.9M809.9 597V612.5M811 526.9V542.4M810.8 596.8V602.9M811.1 586.1V598.4M811.4 484.3V499.8M812 571.5V573.8M812.5 462V468.9M813.7 447.9V450.7M813.3 545.7V554.1M814.2 545.3V547.8M814.1 426V439.8M815.6 499.5V502.2M815.3 421.7V432.7M816.4 514.3V522.1M816.5 381.1V396.6M817.5 393V408.4M817.9 470.5V481.8M818.9 483.6V495.6M818.2 399.8V415.3M819.1 492V495.6M820 396.6V405.8M820.7 366.4V374.4M820.1 416.4V431.9M821.9 415.8V431.3M821.8 340.2V353.4M822 412V427.5M822.8 309.2V320.3M823.6 329.4V332.5M823.3 405.6V413.4M824.9 284.5V289.3M824.6 367.5V383M825.1 368.5V384M825.9 264.8V278.9M826.9 278.4V293.9M826.8 221.3V230.7M827.9 305.4V307.5M827.4 238.4V239.5M828.1 296.9V307.5M828.8 166.5V170.8M829.7 252.2V267.7M829.5 183.7V199.2M830.6 323.9V329M830.1 176.5V180.3M831 241.4V253M831.7 303.9V313.5M832.8 379.9V385.7M832.7 265.7V281.2M833.2 372.1V378.8M833.9 280.7V286.2M834.9 385.3V388.9M834.6 274.6V278.9M835.3 260.7V266.7M835 377.1V388.9M836.4 400V410.3M836.9 273V275.5M837.6 360.5V361.8M837.7 261V274.3M838.1 325.5V329.7M838.7 390.9V398.6M839.6 288.7V292M839.4 369.4V375.1M840.7 423.8V429M840 342.6V351.8M841.8 460.5V463.2M841.7 333.6V339.9M842.1 368.7V375.8M842.7 449.2V464.7M843.9 499.4V500.8M843.4 404.3V419.8M844 486.6V500.8M844.3 433V435.5M845.3 470.2V485.7M845.8 562.2V571.3M846.8 508.6V524.1M847 588.6V596.2M847.6 637.3V652.5M847.2 571.4V574M848.6 630.3V635.7M848.9 559V574.5M849.9 600.8V616.3M849.4 562.3V570.3M850.8 524.3V539.8M851 635.3V642.8M851.1 634.7V642.8M851.5 535.8V548.9M852.1 535.9V536.7M852.1 632.2V635.5M853 517V529.3M853.5 614V621.9M854.7 545V549.6M854.4 614.9V630.4M855.2 551.6V565.8M855.1 629.1V641.8M856.1 581.9V593.9M856.5 636.4V648.7M857.6 606.1V617.9M857.3 689.2V693.8M858.3 701.8V717.3M858.7 606.2V621.7M859.1 631V645.4M859.3 705.4V714.3M860.6 689.6V702.9M860.5 623.9V624.8M861.5 694.6V710.1M861.5 605.8V621.3M862.3 681.9V685.8M862 603.2V613.2M863 609.4V615M863.2 655.6V665.6M864.1 598V612.2M864.3 696.5V712M865.4 628.3V643.8M866 675.8V691.3M866.5 618.2V633.7M866.3 708.8V710.3M867.2 707V713.5M867.2 640.4V655.9M868.6 665V679.6M868.3 609.3V620.2M869.2 658V668.8M869.2 591.4V606.9M870.5 574.6V590.1M870.5 707.8V710.5M871.8 722.1V736.2M871.7 604.2V619.6M872.7 605.6V606.4M872.8 715.9V719.7M873.1 655.3V656.8M873.6 718.8V734.3M874.5 744.9V752.9M874.4 647.5V661M875.5 675.4V678.9M875.4 750.5V759.1M876.8 658V673.5M876.2 750.7V763.1M877.1 693.8V709.3M877.1 738.2V753.5M878.3 685V689.5M878.1 740.6V744.2M879.1 742.4V748.6M879.2 657.2V667.4M880 658V673.5M880.7 727.3V742.8M881.4 756.2V756.7M881 659.4V671.5M882.2 689.3V704.8M883 767.3V768.1M883.2 805.2V807.9M883.7 717.3V726.1M884.1 736.4V749M884.4 790.3V800.2M885.9 832.4V838.2M885.4 757V772.5M886.6 852.1V867.3M886.4 778.6V793.8M887.5 848.5V864M887.1 814.5V825.4M888.5 780.1V781.6M888.2 867.1V875.2M889.8 880.6V882.3M889.7 817.7V821.4M890.8 801V810.4M890.2 865.5V870.7M891.5 822.8V826.6M891.2 878.9V886.1M892.1 890.5V901.2M892.9 811.9V827.4M893.6 858V870.1M893.5 781.3V793.3M894 767.9V771.1M894.8 861.2V864.5M895.3 831.3V844.9M895.6 770.9V786.4M896.5 819.2V831.4M896.9 745V747.6M897.9 771.1V786.6M897.5 819.8V827.4M898.7 772.2V785.5M898.1 837.7V853.2M899.6 769.6V784M899 819.7V821.7M900.2 842.1V846.9M900.1 745V758.9M901.7 840.8V856.3M901.7 780.6V789.7M902.8 846.6V848.1M902.3 772.4V781.6M903.9 881.7V897.2M903.3 799.9V812.4M904.8 872.9V884.6M904.7 815.7V825M905.6 859.1V874.6M906 829.8V845M906.1 831.2V843.6M906.1 850.3V865.8M907.4 894.1V899.5M907.1 829.3V831.1M908.6 822.4V825.8M908.3 897V900.9M909.8 840V846.2M909.1 883.6V896.1M910.5 833.8V849.3M910.7 882.7V889.9M911.5 900.6V916.1M911.3 809.1V824.6M912.2 830.6V835.3M912.9 896.3V908.5M913.1 905.3V908.5M913.4 810V823M915 901.4V913.2M914.1 817.3V824.7M915.1 909.4V913.2M915.5 854.1V857.3M916.9 824.2V829.3M916.1 873.6V889.1M917.8 869.2V874.5M917 824.2V834.7M918.2 880V895.5M918.8 804.8V816M919.1 837.8V839.1M919.6 884.2V898.6M920.1 834.1V837.7M920.1 888.8V896.8M921.3 887.6V899.6M921.8 827.5V843M922.7 871.6V874.8M922.2 856.9V869.6M923.3 834.4V837.2M923.7 898.2V900.2M924.6 889.9V905.4M924.4 849.2V853M925.5 924V928.4M925 849.6V853.8M926.9 895.7V911.2M926.3 851V855.8M927.6 925.4V931.3M927.3 860.5V862.3M929 867.3V871.4M928.4 932.3V933.4M929.8 954.8V958.7M929.1 867.3V878.7M930.5 880.1V890.3M930.8 958.6V968.9M931.7 905.2V910.7M931.1 941.4V956.9M932.7 897.4V909.3M932.7 938.2V953.7M933.9 950.2V965.7M933.1 914.4V927M934.9 905.9V921.4M934.8 949.8V956.3M935.9 983.4V988M935 908V911.2M936.1 976.3V991.8M936.2 905.7V921.2M937.9 981.8V996.2M938 928.5V944M938.6 967.4V970.4M938.3 921.4V924.5M939.5 967.1V973.3M939.9 922.2V925.9M940.8 929.3V935M940.2 897.5V908.7M941.6 905V919.2M941.1 940.1V945.5M942.8 912.8V928.3M942.4 935.4V950.9M943.5 960.7V968.2M943.1 902.6V911.2M944.9 965.6V981.1M944 902.9V912.3M945.2 961.6V971.9M945.3 885.8V893.3M947 944.5V960M946.1 885V900.4M947.1 864.4V865.6M947.3 951.9V962.7M948.8 969.6V978.5M948.2 909.2V918.8M949.1 927.4V941.1M950 894.9V904.7M950.7 893V902.9M950.2 951.7V967.2M951.1 909.1V916.3M951.2 946.2V948.4M952.8 959.1V974.6M952.7 888.1V903.6M953 951V952.7M953.8 904.1V919M954.1 955.7V970.6M954.6 889.7V896.8M955.5 950.6V960M955.7 901.1V916.6M956.9 958.8V965.7M956.8 892.2V906.2M957.3 965.5V968.4M957.2 902.5V906M958.2 955V966.2M958.6 899.2V906.6M959.7 973.1V979.7M959.2 924.2V939.4M960.1 909.1V922.7M960.4 942.1V948M961.1 935.7V948.9M961.3 906.5V917.7M962.8 887.5V903M962.2 965.4V975.2M963.6 974.5V980.7M963.8 890.4V898.1M964.1 908.4V911.1M964.4 950.6V962.7M965.1 914.6V920.7M965.5 977.2V978.1M966.8 880.6V883.9M966 958.8V959.4M967.2 966.2V974M967.1 921.8V933.3M968.1 964.4V979.9M968.7 917.3V932.8M969.1 923.7V933.1M969.5 958.8V974.1M970.5 977.1V988.4M970.7 920.9V933.1M971.3 949.7V957.7M971.8 887.2V902.7M973 917.2V925.8M972.3 944.7V959.6M973.9 917.1V924.6M973.7 959.6V962.1M974.8 921V936M974.1 976.3V979.4M975.4 958V973.5M975.3 942.6V949.3M976.6 985.2V996.7M976.8 930.6V941.6M977.3 920.3V935.8M977.1 986.3V994.3M978.8 995.4V998.7M978.2 897V908.9M979.9 969.8V985.3M979 898.2V898.8M980 929V932.5M980.7 1000.5V1016M981.2 920.9V926.6M981.5 981.7V987.6M982.5 989V998.1M982.2 912.8V925.5M983.3 899.9V914M983.6 974.6V986.9M984.2 919.8V934.6M984.4 993.8V995.6M985.1 960V965M985.4 912.8V916.5M986.3 936.1V944.6M987 964.7V975.1M987.8 893.9V909.4M987.2 973.6V989.1M988 915.9V925.8M988.4 977.2V992.7M989.3 923.2V938.7M989 979.8V992.6M990.8 960V975.5M990.5 927.9V943.4M992 976.9V989.9M991.5 932V946.8M992.1 922.7V936.3M992.1 987.4V989.9M993.4 899V914.5M993.9 958V966.6M994.6 910.6V926.1M994.8 967.2V974.4M995.7 952.1V967.6M995.9 895.2V900.4M996.9 890.4V905.2M996.8 956V963.9M997.7 967.4V982.9M997 890.4V891.1M998.3 935.5V939.1M998.4 903.8V908.3M999.6 943.3V949.8M999.5 905.5V912.1M1000.5 906.8V920.2M1000.4 971.6V987.1M1001.8 975.9V987.4M1001.3 899.2V902.5M1002.9 951.8V959.4M1002.4 911.3V916.5M1003.7 915.1V928.3M1004 946.3V961.8M1004.9 985.1V990.7M1004.2 910.6V915.3M1005.8 952.4V967.9M1005.2 877V879.7M1006.3 885.5V901M1006.4 952.1V966.3M1007.9 957.2V970.9M1007.6 855.8V871.3M1008.1 969.1V970.9M1008.8 882.3V892.6M1009.1 876.6V891.8M1009.9 939.6V946.6M1010.8 896.9V905.8M1010.3 945.8V961.3M1011.5 939.4V944.2M1011.9 900.6V916.1M1012.7 874.4V889.9M1012.8 923.4V938.9M1013.5 943.8V955M1013.9 899.1V899.7M1014.9 904.1V907.9M1014.4 942.9V958.4M1015.4 939.3V945.2M1015.8 869V884.5M1016.9 899.7V909.5M1016.8 955.8V965.9M1017.1 956.4V962.2M1017.1 899.7V905.3M1018.1 913.7V923.3M1018.7 947.2V956.9M1019.4 935.3V940.2M1019.1 891.2V902.1M1020.4 922.1V937.3M1020.7 878.7V879.7M1021.6 876.6V881.7M1021.1 930.8V946M1022.5 951.2V955.4M1022.1 870.1V877.2M1023.2 884.5V897.4M1023.4 938.2V953.7M1024 884.2V899.7M1024.5 932.5V941.4M1025.7 943.2V957.5M1025 894.5V898.5M1026.8 893.4V907.9M1027 945.4V953.8M1027.1 946.6V953.8M1027.4 885.8V896.1M1028.6 933.7V946.1M1028.1 885.5V901M1029.9 923.4V929.1M1029.9 856.8V872.3M1031 881.1V883.4M1030.7 923.9V936.5M1031.3 951.1V959.1M1031.9 856.7V872.2M1032.5 906.4V921.9M1032.9 867.1V875.3M1033.9 922V935M1033 867.1V874.3M1034 933.9V935M1034.6 876.6V882.2M1035.3 868V883.5M1035.1 915.9V923.5M1036.1 878.6V879.4M1036.7 954.6V961.3M1037.4 874.4V885.7M1037.3 942V957.5M1038.3 920.6V926.4M1038.7 877.2V887.9M1039.3 868V878.8M1040 935.6V950.6M1040.1 932.6V948.1M1040.7 878.5V886.7M1041.6 858.6V867.8M1041.1 939V945.7M1042.9 868.6V875.5M1042.5 938V953.5M1043 868.6V877.3M1043.4 926.7V942.2M1044.7 923.3V938.2M1045 859.9V864.3M1045.1 859.9V871.1M1045.6 914.5V921.7M1046.3 867.6V873.4M1046.8 918V923.9M1047.4 909.7V925.2M1047.7 827.5V834.7M1048.4 934.5V949.8M1049 855.9V867.6M1049.6 894.8V910.3M1049.7 855.8V864.1M1050.1 869.1V878.8M1050.9 920.4V935.9M1051.4 924.3V928M1051 888.6V891.5M1052.2 849.1V863.9M1052 948.4V950.6M1053.8 942.9V958.4M1053.6 870.7V886.2M1054.2 846.3V861.8M1054.4 918.6V934.1M1055.3 894.9V910.4M1055.6 917.9V927.6M1056.8 877.2V892.7M1056.5 907.5V923M1058 904.4V919.9M1057.2 887.7V897M1058.1 875V882.4M1058.6 926.7V942.2M1059.2 911.5V927M1059.4 864.6V880M1060.4 939.2V941.1M1060 882.1V888M1061 892.5V903.5M1061.4 922.2V934.7M1062.7 939V954.5M1062.2 886.8V899.1M1063.5 874.2V875.5M1063.4 954.9V959.6M1064.5 944.1V948.8M1064.6 881.9V887M1065 873.6V878.5M1065.2 935.3V950.8M1066.1 913V928.5M1067 872V887.5M1067.1 867.5V883M1068 951.5V956.7M1068.1 946.5V956.7M1068.1 885.4V895.4M1069.1 950.4V960.4M1069.5 903.5V918.7M1070.9 920.3V935.8M1070.9 868.2V869.2M1071.5 931.8V940.2M1071.8 855.9V870.3M1072.2 866.7V882.2M1072.7 927.5V932M1073.3 937.4V951.6M1073.3 897.4V908.5M1074 933.6V938.3M1074.5 856V868.6M1075.6 926.4V939M1075.7 860.5V862.7M1076.1 947V962.5M1076.2 857.3V868.3M1077.1 874.4V889.9M1077.4 942.2V957.7M1078.3 866.6V882.1M1078.4 933.2V947.5M1079.2 955.9V964.1M1079.8 889.3V896.1M1080.6 888.2V897.7M1080.1 941.8V953.2M1081.2 929.3V939.5M1081.7 896.2V903.8M1082.8 885.7V900.2M1082.6 942.5V943.5M1083.8 874.7V890.2M1083.5 950.6V956.6M1084.4 935.3V950.8M1084.8 899.5V904.6M1085.7 867.2V882.3M1085.5 946.9V951.6M1086.1 952.6V957.4M1086.2 908.1V917.8M1087.8 901.1V906M1087.8 934.9V950M1088.9 956.6V967.1M1088.6 883.9V892M1089.6 868.9V884.4M1089.1 962.1V967.1M1091 929V944.5M1090.9 895.6V906.6M1091.5 890.2V900.9M1091.4 964.9V966.2M1092.3 961.1V963.3M1092.7 884.1V898.9M1093.2 960.2V961.4M1093.1 893.6V909.1M1094.3 904.6V920.1M1095 965.9V974.1M1095.2 886.9V893.4M1095.1 966.7V974.1M1096.4 927.4V939.3M1096.7 959.9V961.4M1097.2 929.1V938.3M1097.9 889.8V905.3M1098.3 895.4V896.1M1099 962V967.8M1099.1 958.1V967.8M1099.4 876.3V891.8M1100.1 902.7V915M1100.9 936.6V952.1M1101.2 933.5V947.6M1101 898.4V907.7M1102.7 968.5V972.1M1102.1 908.4V923.9M1103.6 960.3V975.8M1103.6 916.8V931.4M1104.8 941.8V942.8M1104.2 872.8V888.3M1105 940.2V950.5M1105.7 871.1V873.9M1106.8 883.9V887.5M1106.7 938.6V954.1M1107.1 891.2V895.8M1107.6 953.5V963.1M1108.1 933.4V948.9M1108.7 895.9V911.4M1109.9 955.2V969.9M1109.3 901.9V907.3M1110 969.1V969.9M1110.4 913.5V918M1111.2 908.6V915.7M1111.3 945.8V958.7M1112.7 939.4V950.6M1113 892.9V895.2M1113.1 892.9V906M1113.4 945.6V948.7M1114.1 953.6V955.6M1114.9 881.1V896.6M1115.3 875.2V882.6M1115 927.5V934.2M1116.7 938.9V951.6M1116.2 887.5V899.4M1117.7 940.1V946.6M1117.2 891.9V897.7M1118.8 875.6V879.7M1118.6 942.9V955.7M1119.9 948.4V963.9M1119.2 893.5V895.9M1120.1 926.2V937.2M1121 902.2V910.8M1121.9 959.4V965M1121.6 898.7V904.7M1122.9 946.2V961.7M1122.4 888.1V898.3M1123.8 894.8V910.1M1123.7 966.6V971.6M1124.3 947.6V963M1124.9 883.9V884.8M1125.6 879.4V894.9M1125.5 950.2V965.7M1126.2 909.1V921.8M1126.7 972.1V981.6M1127.1 939.3V950.3M1127.5 917.1V932.6M1128.5 893.4V901.8M1128.8 951.7V961.7M1130 957.2V969.8M1129.7 891.1V906.1M1131 910.3V916M1130.1 966.9V969.8M1131.9 897.4V912.9M1131.5 944.3V953.3M1132 892.8V908.3M1132.3 970.2V971.5M1133 947.7V961.2M1133.6 910.4V925.9M1134.2 886.8V895.2M1134.7 945.5V961M1135.9 954.1V966.7M1135.4 899.1V910.7M1136.1 941.6V942.3M1136.1 912.1V912.7M1137.4 965.2V980.7M1137.7 909.6V914.1M1139 907.5V916.9M1138.2 941.8V956.9M1139.2 986.9V990.2M1139.1 907.5V913.6M1140.2 905.5V921M1140.5 961.5V964.5M1141.9 965.7V969M1141.3 928.7V932.5M1142.7 970.6V979.6M1142 891.3V905.8M1144 963.1V978.6M1143.8 906V915.6M1144.1 975.1V977.8M1144.4 904.8V911.2M1145.9 993.9V1009.4M1145.8 905.1V920.6M1146.9 901.2V901.7M1146 993.8V1009.3M1148 976.3V982.6M1147.1 901.2V912.8M1148.1 973.4V982.6M1148.5 911.9V920.7M1149.1 993.4V994.4M1149.9 893.4V902.8M1150.1 950.6V957M1150 893.4V899.5M1151.4 959.6V973.6M1151.9 901.6V916.8M1152.2 933.3V946.1M1152.8 978.9V990.6M1153.1 964.5V967.6M1153.2 929.7V935.6M1154.3 910.2V920.8M1154.8 949.1V964.6M1155 908.5V920.2M1155.4 985.5V988.9M1156.2 938.8V947.5M1157 975.3V990.8M1157.1 936.6V941.3M1157.1 970.2V985.7M1158.1 970V975.2M1158.5 897.6V903.9M1159.4 902.3V903.1M1159.7 990.2V1001M1160.4 929V936.6M1160.2 956.1V968.6M1161.7 899.4V902.1M1161.6 958.7V974.2M1162.1 962.8V978.3M1162.1 925.6V933.9M1163.6 966.4V972.7M1163.1 931.1V946.6M1164.9 977.7V993.2M1164.3 905.7V908.1M1165.1 933.5V945.9M1165.8 986.5V992M1167 936.1V951.6M1166.5 978V993.5M1167.5 990.4V1002.6M1167.1 927.4V929.4M1168.8 980.6V985.7M1168.3 920.6V936.1M1169.8 923.5V931.1M1169.6 976.6V987.7M1170.1 895.6V910.5M1170.7 959.1V974.3M1171.4 892.4V902.2M1171.9 973.4V975.7M1172.5 965.4V974.5M1172.1 921.7V933.7M1173.2 918.7V928.6M1173.9 986.1V990.3M1174.1 986.6V990.3M1175 913.8V919.3M1175.5 967.4V968.5M1176 898.7V905.5M1176.6 969.8V979.4M1176.1 893.3V898.7M1177.7 886V901.5M1177 954.3V957.1M1178.3 954.3V969.8M1178 908.9V912.4M1179.3 961.6V977.1M1179.8 903.2V907.9M1180.7 908.3V912.9M1180.2 944.4V959.9M1181.9 966.4V980.3M1181.3 903.1V914.7M1182.3 985.5V994.9M1182 889.9V905.3M1183.7 974.8V989.4M1183.1 922.8V925.3M1184.1 951.4V966.9M1185 922.4V933.9M1185.2 977.6V981.9M1185.8 915V922M1186.7 945.2V954.7M1186.5 902.3V903.9M1187.4 918.2V920.4M1187.8 975.8V977.5M1188.1 958.5V968.1M1188.3 917.8V933.3M1190 914V917.8M1190 968.9V984.4M1190.9 956.7V961.3M1190.5 898V913M1191.7 891V901.1M1191 950.4V961.3M1192.6 941.4V951.6M1192.4 891.9V907.4M1193.1 903V918.5M1193.2 948.9V964.4M1194.8 978V981.2M1194.4 897.6V905.9M1195.8 899.6V909.3M1195.7 981.4V989.7M1196.9 932.8V948M1196.2 896V896.6M1197.5 940.8V943M1197.1 913.7V918.9M1199 941.8V957.3M1198.9 911.6V925.9M1199.9 947.9V963.4M1199.4 899.3V901.5M1200.7 898.5V910M1200 952.7V967M1201.8 904.8V905.7M1201.3 964.5V968.5M1202.7 932.9V943.5M1202.2 882.9V898.4M1203.1 949.9V961.8M1203.5 901.9V917.4M1204.5 952.3V954.9M1204.3 911.3V914.6M1205.8 912.6V928.1M1205.2 973.2V974M1206.3 980.2V984.6M1206.2 891.4V906.9M1208 908.7V913.9M1207.1 963.5V971.4M1208.1 908.7V917.3M1208.9 946.6V962.1M1209 948.8V964.3M1209.2 897.1V897.7M1210.2 888.2V903.7M1210.4 992.7V997.5M1211.2 890.4V894M1211.2 967.3V982.8M1212.9 867.9V879.8M1212.2 968.4V978.1M1213.9 946.4V959.1M1213 867.9V871.5M1214.6 899.5V915M1214.8 953.3V966M1215.7 876.5V883.8M1215.5 967.9V970.2M1216.1 895.2V898.3M1216.2 936.5V946.4M1217.9 953.6V969.1M1217.4 903V918.5M1218.7 947.1V961.6M1218.2 885.8V898.9M1219.7 970.1V979.4M1219.3 895.9V909.8M1221 896.7V912.2M1220.2 947.6V960.9M1221.1 895.3V910.8M1221.2 939.7V950.7M1222 890.2V899.8M1222.9 955V956.4M1223.3 871V886.5M1223 942.2V956.4M1224.7 962.1V977.6M1224.3 882V890.6M1225.5 906.6V922.1M1225.1 942.4V950.5M1226.4 934.8V950.3M1226.9 909.5V925M1227 940.5V947.2M1227.2 905.8V919.8M1228.2 873.5V889M1228.8 925.8V941.3M1230 873.4V888.9M1230 962.2V977.7M1230.1 958.5V974M1230.8 917.6V923.5M1231.8 906.7V922.2M1231.9 956V971.5M1232.8 928.3V940.5M1232.6 885.2V886.6M1233.5 938.3V943.7M1233.7 890.8V904.8M1234.6 958V969.5M1234.5 856.6V866.2M1235.4 937.1V952.2M1235.8 890.7V903.1M1236.7 935.9V947.8M1236.9 897V912.5M1237.2 968V976.9M1238 891.6V905.3M1238.6 870.7V886.2M1239 937.3V946M1239.2 894.9V910.4M1239.1 939.3V946M1240.9 882.5V898M1240 951.9V967.4M1241.4 941.2V950.2M1241 878.8V887M1242.6 885.9V901.4M1242.7 957.7V973.2M1243.7 877.8V892.1M1243.9 952.3V962.2M1244.4 881.5V884.8M1244.8 933.1V934.3M1245 908.2V918.5M1245.9 872.7V883.5M1246.1 870.8V886.3M1246.2 937.4V941.7M1247.3 908V922.2M1247.6 863.1V869.7M1248.9 937.4V943.3M1248.2 859.9V871.7M1249.3 867.2V867.8M1249 933.7V943.3M1250.3 951.5V952.3M1250.9 877.3V890.9M1251.2 952.5V966.9M1251.5 870.2V882.9M1252.1 866.4V876.1M1252.2 923.4V935.5M1253.6 922.5V924.8M1253.4 875.7V882.7M1254.3 918.6V934.1M1254.8 871.8V877.3M1255.1 891.8V895.7M1255.6 938.5V940.2M1257 878.7V883.5M1256.9 912.4V927.9M1257.1 878.7V889.4M1257.1 940.5V950.1M1258 946.7V956.3M1258 881.4V895.6M1259.7 866.5V872.3M1259.3 920.5V929.7M1261 871.3V886.8M1260.6 904.4V919.9M1261.4 921V929.9M1261.1 876.6V883.7M1262.4 929.2V944.1M1262.9 873.3V886.8M1263.5 867.1V882.6M1263.8 924.9V935.5M1264.2 927.9V934.2M1264.3 881.1V896.2M1265.7 919.4V931.3M1265.3 839.2V852.7M1266.6 850.4V865.9M1266.4 891.4V900.9M1267 864.2V879.7M1267.5 907.8V923.3M1268.8 917.6V927.7M1268.7 865.4V879.8M1269.7 917.8V933.3M1269.1 887.3V888.8M1270.7 913.2V922.3M1270.5 864.1V865.8M1271.4 855.7V871.2M1271.6 921.6V928.6M1272.3 926.2V941.7M1272.9 838.7V845.1M1273.1 838.7V847.8M1273.7 931.8V947.3M1274.1 906.3V911.3M1274.6 881V895.7M1275.8 865.9V867.1M1275.2 908.4V910M1276.8 911.3V926.8M1276.4 858.3V859.9M1277.9 864.1V869.6M1277.7 923.4V938.9M1278.3 838.6V845M1278.1 903.1V918.4M1279.6 918.2V922.7M1280 862.5V868.7M1280.4 859.9V873.6M1280.6 916.4V919.8M1281.9 930V940.8M1281 848.8V864.3M1282.1 936.1V940.8M1282.3 858.9V862.8M1283.7 933.1V948.6M1283.5 873.9V884.8M1284.5 842.4V857.7M1284.2 920.4V925.9M1285.8 919.1V924.7M1285.7 875.6V876.5M1286.9 858.1V873.6M1286.6 917.7V928.9M1287.5 915.5V920.7M1287.1 850.1V851.4M1288.9 926.2V935.3M1288.4 849.9V852.9M1289.4 881.1V892.1M1289.9 936V948.6M1290.5 863V865.4M1290 945.7V948.6M1291.7 941.8V945.6M1291.1 853.9V855.1M1292.7 872.5V883.1M1292.2 908.2V923.7M1293.2 873.7V875.9M1293.8 899.2V900.1M1294 885.5V897.9M1294.1 913.6V929.1M1295.6 942.3V945.5M1295.3 862.9V872.3M1296.5 934.9V941.4M1296.7 843.3V858.8M1297.6 926V938.5M1297.7 869V884.3M1298.5 903.1V916M1298.3 877.2V892.7M1299.2 875.3V876.4M1299.3 918.5V925.2M1300.3 869.2V884.7M1300.8 915.4V921.8M1301.6 904.5V920M1302 856.9V872.3M1302.9 874.3V877.6M1302.6 904V918.8M1303.9 922.8V933.8M1303.8 864.5V872.9M1304 929.3V933.8M1304.3 840.5V856M1305.8 925.7V938M1305.1 847.1V857.4M1306.9 871.3V886.2M1307 922.1V937.6M1307.8 867V872.3M1307.1 918.7V934.2M1308.7 932.5V938.9M1308.8 871.9V878.6M1309.1 916.3V931.8M1310 835.2V845.3M1310.5 913.9V928.3M1310.1 835.2V840.6M1311.4 854V869.1M1311.4 942.4V948.4M1312.4 890.9V892.4M1312.8 856.2V858.9M1313 923V928M1313 868.6V871.9M1314.8 908.7V922.2M1315 858.1V873.4M1315.2 931.6V944.4M1315.5 855.7V856.5M1316.1 907.7V915.9M1316.5 841.1V856.6M1317.8 830.1V837.5M1317.9 889.4V901.3M1318.1 933.8V935.8M1318.8 846.9V851.2M1319.9 891V904.2M1319.6 868.8V880.9M1320.5 836.6V852.1M1320.1 857.6V870.2M1321 854.1V868.2M1321.3 919.3V922.3M1322.9 889.6V905.1M1322 855.9V864.2M1324 908V915.2M1323.7 841.4V856.9M1325 853V858.1M1324.4 918.3V921M1325.8 828.2V832.8M1325.5 888.6V894M1326.9 831.8V847.3M1326 912.4V925.5M1327.8 836.1V851.6M1327.2 920.6V926.1M1328.6 852.4V854M1328.2 903.9V912.3M1329.2 832.9V837.2M1329.4 895.2V910.7M1330.4 922.6V928.8M1330.1 836.9V839.9M1331.4 851.4V860.2M1331 900.4V913.6M1332.7 902.2V911.4M1332.1 859.8V870.5M1333.5 888.9V899.9M1333.2 849.2V853.9M1334.9 837.8V846.1M1334.6 883.7V899.2M1335.9 831.5V839.2M1335.4 881.6V887.8M1336.6 900.5V916M1336 831.5V839.3M1337.1 843.8V859.3M1338 918.9V922.6M1338.4 852V859.7M1338.1 910.8V922.6M1339.4 815V825.6M1339.9 895.7V903.6M1340.8 817.3V832.8M1340 896.1V903.6M1342 827.9V838.6M1341.7 878.3V891.7M1342.5 895.8V911.3M1342.1 827.9V832.8M1343.9 839.2V843.5M1343.8 908.3V920.3M1344.4 836.5V845.2M1344.8 924.4V925.1M1345 876V881.5M1345.6 849V859.9M1346.3 829.4V832.8M1346.2 919V931.4M1347.5 821.4V832.5M1347.1 908.1V923.6M1348.4 850.5V862.6M1348.3 891.5V907M1349.4 851.6V857.1M1349 910.7V917.2M1350.6 843.1V858.6M1350.4 903.1V914.2M1351.6 845.4V860.6M1351.7 919V920.9M1352.1 919.2V924.5M1352.8 866.5V882M1353.8 907.2V910.1M1353.1 861V876.5M1354.6 841.5V846.4M1354.2 916.1V925.7M1355.2 820.2V835.7M1355.6 907V912.7M1356.1 850.1V862.5M1356.5 891.4V906.4M1357.6 858.2V865.8M1357.5 898.4V904.3M1358.8 881V885.3M1358 859V867.9M1359.4 838.6V843.2M1359.3 892.3V896.9M1360.1 841.9V853.7M1360.2 874.5V889.8M1361.1 918V919.1M1361.4 830.5V831.4M1362.8 871.6V883.7M1362 834.7V845.6M1363.2 827.7V838.2M1363.7 887.5V903M1364.7 835.7V845.8M1365 892.2V904.1M1365.1 900.5V904.1M1365.1 862.9V871.6M1366.3 848V853.4M1366.9 902V903.6M1367.7 916.4V923.6M1367.5 838.2V848.8M1369 896.3V911.8M1368.4 813.3V826.8M1369.5 817.4V818.9M1369.1 897V912.5M1370.4 907V922.5M1370.9 844V845M1371.1 884.9V897M1371.4 842.9V852.6M1372.9 908V918.6M1372.2 828.7V836.6M1374 838.1V851.5M1373.6 907.5V923M1374.1 838.1V840.2M1374.6 908.8V910.5M1375.9 891.9V899.3M1375.5 870.6V873M1376.9 886.6V902.1M1376.4 848.1V857M1377.7 896.9V912.4M1378 852.2V866.4M1378.7 918.8V928.8M1379 846.8V850M1379.5 883.7V893.3M1379.9 845.6V855.5M1380.9 899.2V902.1M1380 845.6V851.3M1381.9 906.5V914.5M1381 863.1V864.3M1382.3 832.9V833.7M1382.1 907V914.5M1383.4 896.5V909.2M1383.2 834.9V840M1384.3 858.8V874.3M1384.6 922.2V926.3M1385.5 843.4V853.7M1385.8 905.2V920.7M1386.8 914.7V925.8M1386.1 850.5V863M1387.7 833V834.2M1387.1 899.2V914.5M1388.9 842.3V851.1M1388.4 902.8V918.3M1389.3 911.3V926.8M1389.8 825.1V835.9M1390.2 925.3V928.6M1390 858.7V874.2M1391.7 848.8V853.6M1391.8 910.6V912.4M1392.1 869V874.5M1392.9 927.8V943.3M1393 934.2V949.7M1393.4 839.5V849.3M1394.9 918.5V934M1394.8 846.2V861.7M1396 922.7V936.5M1395.7 878.5V886.9M1396.1 934.7V936.5M1396.2 853.9V861.4M1397.2 861.4V866M1397.8 923.5V935.5M1398.9 917.6V925.9M1398.1 844.2V847M1399.9 840V855.5M1399 918.6V925.9M1400.1 933.3V942.7M1400.1 844.5V860M1401.5 911.6V912.4M1401.2 862.6V863.7M1402.3 898.2V907.5M1402.8 861.2V865.9M1403.5 862.4V869.2M1403.7 922.2V923.4M1405 869.6V885.1M1405 936.2V947.3M1405.1 942.9V947.3M1405.9 859.6V875.1M1406.6 874.1V889.6M1406.2 929.9V931.9M1407.9 935.5V941.9M1407.8 871.6V874.3M1408 932.7V941.9M1408.3 882.9V898.4M1409.3 910.8V926M1409.7 859V869.2M1410.2 932.7V944M1410.1 870V871.6M1411.9 886.6V902.1M1411.1 918.1V923.2M1412.7 874.7V882.3M1412.3 910.6V924.1M1413.1 879.7V891.9M1413.8 904.7V919.8M1414.6 869.5V872.1M1414.5 937.4V938.1M1415.6 873.2V880.3M1415.9 932.7V948.2M1416.9 877.3V880.4M1416 936.4V951.9M1417.3 936.3V944.9M1417.9 870.1V885.6M1418.2 914.5V916.2M1418.1 882.7V895.3M1419.1 933.1V934.4M1419.7 867.9V876M1420.5 924.3V935M1420.1 859.4V861.2M1421 872.9V876.1M1421.3 914.1V927M1422.8 890.1V896.5M1423 928.1V940.3M1423.2 880V885.8M1423.1 936.9V940.3M1424.6 933.5V949M1424.9 856.1V860.2M1425.9 920.3V928.4M1425 856.1V867.5M1426.2 921.6V931M1426.6 880.6V896.1M1428 897.5V908.8M1427.6 932.2V946.7M1428.2 930.7V945.7M1428.6 878.7V894.2M1429.6 908.8V924.3M1429.6 869.9V879.9M1430.5 926.1V937.4M1430.9 873.5V882.2M1431.4 869.1V883.9M1431.7 965.4V966.3M1432.6 857.2V872.2M1433 953.2V955.6M1433.5 941V956.5M1433.2 891.4V906.7M1434.5 936.6V946.3M1434.9 900.6V902.9M1435.9 860.7V876.1M1435.2 920.6V923.5M1436.1 884.2V898.3M1437 912.3V927.8M1437.5 960.4V964.9M1437.2 868.7V884.2M1438 923.1V937.5M1438.8 857V865.2M1439.9 922.7V938.2M1439.7 896.9V909.1M1441 950.2V965.7M1440.3 883.9V893.5M1441.3 855.1V870.6M1441.1 944.7V960.2M1442.4 882.8V888.3M1442.5 949.4V960.4M1443.7 925.8V926.8M1443.8 853.4V868.9M1444.4 873.3V885.4M1444.7 927.7V943.2M1445.1 933.1V946.4M1445.6 883.3V898.8M1446.2 880.2V890.2M1446.1 919.1V934.6M1447.3 938.1V947M1447.6 877V886.9M1448 931.3V946.1M1448.2 891.6V894.3M1449.7 847.5V862.1M1449.2 942.3V946.6M1451 928V929.9M1450.5 893.4V897.5M1451.8 885.2V889.3M1451.9 942.2V948.5M1452.9 870.6V878.5M1452 939.2V948.5M1453.2 929.2V938.3M1453.9 870.5V885.6M1454.5 946.4V953.1M1454.6 842.4V850.3M1455.6 910.4V925.9M1455.1 893V906.7M1456.5 855.1V861.2M1456.4 923.1V925.4M1457.5 922.9V934.2M1457.7 847.4V856.8M1458.3 850.6V866.1M1458.4 940.8V956.1M1459.2 848.1V857.3M1459.7 934V949.5M1460.5 914.5V930M1460.9 861.3V876.8M1461.4 917.9V927.7M1461 842.3V850.8M1462 911.7V922.8M1462 867.3V882.8M1463.5 884.2V892.9M1463.7 920V929.8M1464.2 911.4V925.4M1464.1 863.7V879.2M1465 904.7V912.8M1465.6 869.4V884.9M1466.2 917.8V933.3M1466 861.4V871.6M1467.6 862.8V868.2M1467.2 907.9V916.4M1468.5 934.3V944M1468.7 842.4V857.6M1469.9 898V901.8M1469.1 843.4V854.7M1470.4 929.6V933.9M1470 851V861.2M1471 903.4V911.1M1471.8 840.1V850.7M1472.7 865.5V871.6M1473 926.1V938.4M1473.4 847.8V863M1473.1 935.3V938.4M1474.4 927.3V932.6M1474.9 867.3V882.8M1475 926.2V926.7M1475.9 862V868M1476.1 896.1V911.6M1476.1 862V867.2M1477.9 892.7V908M1477.9 870.5V886M1478.4 841.9V857.4M1478.1 896.5V899.8M1479.4 849.5V858.7M1479.8 898.2V901.3M1480.4 906.8V908.5M1480.2 827.9V837.8M1481.8 827.5V831.6M1481.3 911.5V927M1482.1 901V914.3M1482.5 857.3V866M1483.5 850.9V854M1483.9 910.8V916.9M1484 907.5V916.9M1484.3 861.3V865.9M1485.1 841.7V847.9M1485.2 924.2V933.3M1486.2 893.3V908.8M1486.6 866.2V872.2M1487.9 888.7V890.3M1487.1 919.1V932.5M1488.9 863.1V878.6M1488.1 904.9V919.5M1489.7 906.6V922.1M1489 852.7V856.4M1490.3 917.6V930M1490.1 857.7V864.3M1491.7 917.4V932.9M1491.4 876V885.3M1492.8 920.4V924.1M1492.5 875.1V890.6M1493.9 871.2V886.7M1493.7 916.1V923.6M1494.4 932.4V946M1494.1 865.8V871.8M1495.1 850.1V861.4M1495.6 905.8V909M1496.2 884.7V900.2M1496.5 909.9V925.4M1497.8 934.6V943.8M1497.4 860.4V875M1498.9 948.9V956.5M1498.7 862.4V864.7M1499.5 882.8V895.8M1499.1 948.7V956.5M1500.5 877.3V881.6M1500.9 926V934.4M1501.5 884.8V900M1501.8 928.9V944.2M1502.7 856.3V871.8M1502 899.5V904M1504 905.8V918.3M1503.4 876.9V892.4M1504.9 952.6V965.1M1504.1 884.1V887M1505.1 860.4V866.5M1505.6 920.8V922.7M1506.5 947.9V953.1M1506.8 867.8V869.4M1507.3 942.1V945.7M1507 894.6V910.1M1508.2 948.4V954.1M1508.3 862.2V871M1509.1 891.8V894.2M1509.7 924.2V927.7M1510.5 928.2V943.7M1510.8 870.8V877.1M1511.2 868.3V882.2M1511.7 958.4V964.1M1512.2 948.8V950.6M1512.3 902.5V908M1671.5 919.7V922.3M1671.9 887.1V899.5M1672 886.4V901.9M1672.1 930.8V945.2M1673.4 925.8V941.3M1673.2 879V894.5M1675 884.9V900.4M1674.8 938.1V952.6M1676 879.4V883.1M1675.3 958.1V962.6M1676.1 879.4V891.3M1676.4 942.4V951.3M1677.7 877.7V893.2M1677.1 1040.6V1056.1M1678.7 953.1V959.7M1678.9 866.1V877.4M1679.1 866.1V870.4M1679.3 924.9V940.4M1680.1 896.7V899M1680.9 936.3V951.8M1681.3 951.8V967.3M1681.9 922.1V930.6M1682.3 900.6V904.2M1682.5 937.9V953.4M1683.3 891.8V895.7M1684 944.9V953.3M1684.1 929.2V939.5M1685 954.4V964.3M1685.9 913.7V922.6M1685.5 955.8V971.3M1686.7 949V957.7M1686.3 896.1V901.7M1687 961.6V963.3M1687.8 888.7V892.8M1688.8 883.8V888.1M1688.2 936V951.5M1689.6 889V901.8M1689.5 913.5V924M1690.9 870.7V880.1M1690.5 916.3V923.4M1691.9 852.7V864.8M1691.5 937.5V940.9M1692.7 905.3V906.9M1692.1 852.7V856.2M1693.5 811.5V816.2M1693.3 896.8V900.9M1694.6 865.6V869.1M1694.2 817.5V821.1M1695.7 815V826.7M1695.9 892V894.9M1696 894.9V907.5M1696.4 841V856.5M1697.7 803.7V819.2M1697.1 892.7V901.2M1698.9 880.7V883.7M1698.1 806.4V811.6M1699.5 905.1V910.5M1699.1 840.4V842.3M1700.8 821.7V829.6M1700.5 882.3V889.3M1701.8 814.7V829.9M1701.4 883.9V899.4M1702.3 874.3V885M1702.5 833.6V840.6M1703.8 930.6V936.4M1703.1 850.7V866.2M1704.1 850.9V853.4M1704 904.5V920M1705.4 922.3V937.8M1705.9 846.7V850.6M1706.1 846.7V848.3M1706.3 905.1V908.8M1707.6 888.5V904M1707.9 844.9V848.6M1708.6 887.8V903.3M1708 844.9V856.6M1709 909.5V913.6M1709.4 840.4V851.1M1710.7 904.8V918.6M1710.3 847V854.9M1712 895V905.4M1711.2 858.7V859.4M1712.1 900.3V905.4M1712.1 868.5V871.4M1713.7 934.8V936.1M1713.3 871.7V873.4M1714.6 880.9V890.5M1714.8 930.4V936.4M1715.8 868.8V876.4M1715.2 943.2V950.4M1716.7 943.5V958.3M1716.1 865.1V876.2M1717.9 867.9V869.3M1717.4 932.1V945.1M1718.3 818.6V826.5M1718.5 925.8V931.8M1719.1 867.4V868.9M1719.1 920V935.5M1720.2 896.1V899.5M1720.3 937.6V949.9M1721.8 918.5V934M1721.9 861.1V867.4M1722.5 921.7V924.6M1722 861.1V870.3M1723.9 924.6V926.3M1723 871.8V883.2M1724.1 910.8V924.6M1724.5 878V891.1M1725.5 864.8V872.3M1725.6 923.9V939.4M1726.4 900V904.4M1726.1 946.2V961.7M1756.7 929.6V939.6M1756.2 884V899.5M1757.5 916.4V931.9M1757.5 853.9V865.3M1758 861.7V864.1M1758.5 953.6V954.8M1759 850.9V866.4M1759.3 922.6V938.1M1760.5 884.4V899.9M1761 935.6V942.4M1761.2 856.7V860.5M1761.1 933.8V942.4M1762.3 927.2V928.6M1762.5 880.9V885.6M1763.7 868.7V871.1M1763.2 935V935.5M1764.2 917.4V925.5M1764.6 864.7V869.5M1765.1 907.5V921.8M1766 884.5V900M1766.1 913V917.6M1766.5 863.8V875.6M1767.3 850.2V865.6M1767 924.8V939.6M1768.9 854.9V870.4M1768.2 936.5V952M1769.3 843.9V852.6M1770 919.4V920.1M1770.5 863.4V873.2M1770.2 912.9V926.4M1771.5 848.8V864.3M1771.9 924V939.5M1772.3 878.5V894M1772.5 929.5V933.5M1773.6 943.8V946.7M1773.8 867.6V883.1M1774.5 937.5V953M1774.3 870.8V886.1M1775.8 870.7V878.1M1775.1 915.7V924.8M1776.9 941.2V944.2M1776.8 884.3V899.8M1777.2 861.1V874.1M1777 927.7V943.2M1778.3 898.4V913.9M1778.6 871.7V879.8M1779.1 927.8V930.4M1779.5 886.2V889.9M1780.8 926.8V932.1M1780.5 868.2V876.2M1781 946V946.6M1781.8 875.6V885.3M1783 932.7V945.8M1782.7 888.1V903.6M1783.1 943.6V945.8M1783.9 884.1V897.5M1784.9 879.6V895.1M1784.5 936.9V952.4M1785 876.8V889.1M1785.4 911.6V927.1M1786.2 880.2V886.1M1786 952.8V963.9M1787.1 906.1V913.6M1788 957.9V960.5M1788.7 965.5V971.6M1788.5 880V883.3M1789.8 890.5V893.4M1789.4 953.1V958.5M1790.8 943.9V950M1790 913.5V925.3M1791.8 882.1V897.6M1791.4 938.6V954.1M1792.6 905V913.6M1792.1 929.3V944.8M1793.2 944.4V950.6M1793.4 882.7V890.3M1794.3 953.5V969M1794.3 886.9V902.4M1795.2 903.2V915.4M1795.8 943.8V950.4M1796.6 960.1V969M1796.5 909.2V924.7M1797.7 894V909.5M1797.1 949.3V955.4M1798.5 958.5V972.3M1798.4 905.8V914.3M1799 951.8V967.3M1799.4 872.4V878.5M1800.2 880.2V890M1800.1 973.3V976M1801.9 950.4V965.9M1802 883.8V899.3M1802.1 885.4V900.9M1802.1 929.8V945.3M1803.4 897.4V899.8M1803.8 938.7V946.8M1804.3 940.8V945M1804.8 896V897.8M1805.6 965.7V969M1805.5 886.8V896.8M1806.6 851.8V858.8M1806.2 949V962.7M1807.1 868.9V879.1M1807.6 949.9V955M1808.4 932V940.4M1808.9 857.5V871.9M1809.1 909.6V919.5M1809.1 857.5V858.5M1810.2 924.4V932M1810.1 868.9V873.3M1811.4 876.1V885.9M1811.2 925V926M1812.5 884.8V887.4M1812.4 922.7V927.2M1813 859.1V874.6M1813.4 907V917M1815 911V925.7M1814.7 871.7V887.2M1815.2 865.9V870.8M1815.1 924.9V925.7M1816.4 876.8V892.3M1816.5 914.8V917.7M1817.8 941V950.7M1817.3 870.9V886.4M1818.1 937.5V940.6M1818.7 841.1V849.3M1819.9 856.5V863.5M1819.7 925.6V927.9M1820.5 852.7V868.2M1820.5 919.3V934.8M1821.7 870.5V886M1821.4 941V946.8M1822.2 873.1V888.6M1822.3 923.5V935.5M1824 916.2V926M1823.5 853.7V860M1824.1 920.4V926M1824.1 862.5V869.3M1825.1 880.5V889.1M1825.9 900.3V909.6M1826.3 931.4V938.6M1826.5 865.8V879.1M1827.1 863V873.4M1827.4 914.8V918M1828.9 935.6V941.9M1828.3 855.1V867.4M1829.2 847.4V854.4M1829.8 898.5V914M1830.7 899.2V906.2M1830.1 846.7V857.5M1831.6 844V850.8M1831.2 898.8V902.5M1832.8 849.6V854.7M1833 911V926.5M1834 852.2V855.9M1833.1 914.1V929.6M1834.5 909.8V916M1834.3 851.7V860.3M1835.5 858.9V874.4M1835.9 906.7V922.2M1836.6 833V841.1M1836.1 910.2V919.9M1837.1 846.5V857.1M1837.2 902.5V911.2M1838.9 841.3V854.9M1838.5 937.1V940.4M1839 894.3V904.5M1839.4 831.3V846.8M1840.9 838.2V839.6M1840.8 921.3V924.9M1841.8 930.7V933M1841.1 838.2V838.9M1842.4 901.1V916.6M1842.6 821.9V826.6M1843.1 897V903.1M1843.3 845.7V860.9M1844.3 900V902M1844.5 844.5V849.1M1845.2 835.9V844.3M1845.8 900.9V916.4M1846.6 898V900.3M1846.1 838.9V843.8M1847.6 868.5V884M1847.1 828.4V835.9M1848.8 910.2V910.8M1848.9 829.4V844.9M1849 833.8V849.3M1849.9 885.2V900.7M1850.3 896.9V912.4M1850.5 844.8V845.8M1851.9 819.6V826.7M1851.1 911.7V922M1852.9 812.8V828.3M1852.5 882.8V898.3M1853.8 903.5V907M1853 817V832.5M1854.1 874.6V883.1M1854.8 832.7V848.2M1855.5 891.1V906.6M1855.1 827V842.5M1856.9 919.2V928.4M1856.6 843.4V856.5M1857 922.1V928.4M1857 819.1V826.6M1858.7 830.2V833M1858 887.5V895.7M1860 879.4V887.2M1859.3 833.2V835.2M1860.4 909.7V922.4M1860.1 821.5V822.2M1861.6 837.1V849M1861.5 896.8V906.2M1862.5 828.4V835.2M1862.9 880.5V888.5M1864 888V896.7M1863.3 841.1V844.4M1864.1 890V896.7M1864.3 824.6V838.9M1865.2 838.2V848.8M1865.5 916.5V920.7M1866 881.9V893.1M1866.5 834V837.8M1867.6 821.3V824M1867.8 885.3V896.6M1868.1 833.3V840.7M1868.1 891.8V900.5M1870 884.7V900.2M1870 842.2V855.8M1870.3 872.9V877.1M1870.4 826.9V837M1871.2 828.7V841.7M1871.7 911.1V925.1M1872.8 834.7V847.8M1873 885.4V900.9M1874 892.8V908.3M1873.3 844.8V860.3M1874.4 832.1V843M1874.9 887.6V903.1M1875.9 904.9V912M1875.4 839.5V855M1876 821.3V833.3M1876 906.6V912M1878 816.5V832M1877.5 883.5V898.6M1878.4 842.2V857.7M1878.7 931.3V934.6M1879.9 814.4V822.2M1879.6 888.3V899.8M1880 814.4V821.8M1880.7 873.5V889M1881.4 911.4V925.9M1881.7 841.9V851.6M1883 907.9V923.4M1882.6 821.1V826M1883.9 914.9V930.4M1883.1 827V835M1884.7 828.8V840.2M1884 911.6V927.1M1885.3 821.2V822.9M1885.4 908.4V917.8M1886.2 817.7V829.1M1886.6 898.5V914M1887.6 848.1V854M1887.1 901.5V907M1888.9 806.1V809.1M1888.1 876.8V884.5M1889 806.1V818.6M1889.5 862V877.5M1890.4 829.3V831.1M1891 894.4V909.9M1891.1 838V849.4M1891.1 900.4V915.9M1892.9 893.9V905.2M1892.6 847.8V850.3M1893.9 820.8V823.9M1893.8 918.9V926.9M1894 906.5V907.3M1894 820.8V833.2M1895.1 842.9V858.4M1895.2 912.7V923.3M1896.5 818V825M1896.4 908.7V911.2M1897.9 839.9V854.7M1897.1 873.4V888.9M1898.8 839V854.5M1898.9 883.7V889.9M1899.6 847.3V861.1M1899.4 913.9V929.4M1900.9 854.6V860.3M1901 915.5V928.7M1901.1 926.4V928.7M1901.9 828.9V844.4M1902.7 893.4V895.1M1902 834.2V849.7M1903.2 906.5V908.4M1903 839.9V855.4M1904.6 905.3V915.8M1905 860.8V869.6M1905.1 818.6V825.2M1905.9 888.5V899.8M1906.9 904.4V908.1M1906.6 837.8V846.2M1907.7 896.7V912.2M1907 844.4V845.1M1908.7 938.5V939.2M1908.8 849.3V851.1M1909.5 918.1V919.7M1909.6 828.5V832.5M1910.6 891.5V902.8M1910.8 832V847.5M1911.4 830.9V846.4M1911.7 880.4V881.2M1912 884.6V900.1M1912.4 842.5V852.2M1913.6 838.6V854.1M1913.7 888.3V903.8M1914.6 873.7V889.2M1914.1 849.7V851.8M1915.5 885.7V893.1M1915.6 840.6V856.1M1916.9 892.9V896.2M1916.3 838.8V854.3M1917.3 900.8V908M1917.6 855.4V858.9M1918.5 937.8V939.2M1918.9 864.3V869.9M1919.4 841.7V847.5M1919.5 924.7V935M1920.3 867V869.3M1920.8 894.4V909.9M1921.8 843.9V859.4M1921.4 892.7V908.1M1922.5 896V906M1922.1 848.5V854M1923.1 913V928M1923.5 850.8V866.3M1924.3 855.7V871.2M1924.1 901.7V908.9M1925.8 896.5V904.3M1925.5 842.7V843.8M1926.2 842.5V847.8M1927 909V910.7M1927.2 857.2V868M1927.9 913.3V914.6M1928.5 887.1V894.9M1928.1 856.5V871.5M1929.4 881V885.4M1929 849V852M1930 815.7V825.9M1930.2 894.4V906M1931.6 831.3V846.8M1931.5 924.1V929.8M1932.4 880.1V895.6M1932.1 841.2V845M1933.5 880.4V895.9M1933.3 852.9V868.4M1934.5 825.4V840.9M1934 886.6V900.5M1935.1 833V840.2M1935.3 892.4V898.9M1936.7 897.9V901M1936.5 838.3V845.2M1937.5 852V856.4M1937.9 892.1V901M1938.8 906.5V915.6M1938 850.5V865.5M1939.3 890.8V896.3M1939.7 836.5V852M1940.2 925.3V933.5M1940.5 822.1V830.6M1941.2 893V897.1M1941.6 841.6V856.8M1942.1 875.7V881M1942.3 833.1V843M1943.8 905.8V919.4M1943 844.6V849.9M1945 861.4V863.4M1944.8 903V904M1945.2 846.9V861.4M1945.7 891.1V900.4M1946.5 846.5V862M1946.9 894.8V903.4M1947.5 819.2V826.6M1947 896.5V903.4M1948 832V833.9M1948.9 910.3V925.8M1949.8 843.6V845.6M1949.1 897.7V907.2M1950.2 909.8V925.3M1950.6 850.5V858.7M1951.3 860.5V876M1951.5 911V926.5M1952.9 899.9V910.4M1952.7 831.1V846.6M1953.4 899.3V914.8M1953.3 832.7V848.2M1954.2 826.1V831.2M1954.6 909.7V919M1955.6 840.8V843.8M1955.9 882.2V886.3M1956.7 878V892.3M1956.4 870.4V885.9M1957 831.8V835.7M1957.9 907V920.2M1958.1 917.8V920.2M1958.6 848.4V850.7M1959.6 907.6V916.3M1959.6 818.8V834.3M1960.6 866V875.3M1960.8 841.7V853.1M1961 919V924.3M1961.5 854.5V857.8M1962.3 822.9V838.4M1962.4 894.9V910.4M1963.7 829.7V840.6M1963.1 891.1V900.1M1964.5 806.5V816.7M1964.8 907.3V909.3M1965.9 816.8V832.3M1965.5 869.9V885.4M1966 817.3V832.8M1966.7 890.4V905.9M1967.1 836.1V836.9M1967.2 877.3V888.3M1968.4 874.8V890.3M1968.2 811.4V814.6M1969.9 865.9V871.4M1969.1 843.9V858.3M1970.9 887.2V902.7M1970.8 825.9V831.1M1971.3 850.2V865.7M1971.2 894.9V910.4M1972.3 832.2V838.4M1973 896.9V901.3M1973.1 898.5V901.3M1973.4 828.7V832.6M1974.8 914.2V927.7M1974.7 834.3V843.2M1975.4 888V903.5M1975.8 846.2V850.7M1976.1 908.4V923.9M1977 854.6V866.2M1977.2 838.7V854.2M1977.1 861.8V877.3M1978.5 849.4V864.9M1978.1 838V851.3M1979.8 899.6V915.1M1979.7 842.9V846.6M1980.8 898.8V899.4M1981 824.8V833.4M1981.1 824.8V831.8M1981.7 893V908.5M1982.5 823.8V838.3M1982.8 898.1V905.5M1983.5 834.7V843.8M1983.8 892.3V893.7M1984.2 877.8V888.8M1984.9 840.6V849.9M1985.1 836.2V851.7M1985.8 878.8V894.3M1986.4 916.3V926M1986.6 831.4V846.9M1987.9 914.4V926.8M1987.4 840.6V856M1988 923.7V926.8M1988.9 838.8V849.2M1989.7 911.3V912.4M1989.2 825.2V827.9M1990.7 886.3V898.5M1990.2 848.9V857.7M1991.9 867.8V878.3M1991.5 899.5V903.1M1992.9 876.7V888.4M1992.3 848V860.5M1993.2 908.9V911M1993.6 824.9V840.4M1994.6 882.3V891.1M1995 817.7V833.2M1995.1 813.8V829.3M1995.6 881.1V886.2M1996.4 905.8V921.3M1996.1 850.3V861.4M1997 850.1V865.6M1997.3 916.7V930.2M1998.7 914.6V930.1M1998.4 860.9V873.7M1999.5 909.6V925.1M1999.5 856V858.5M2000.8 847.3V862.8M2000.2 891.7V902.3M2001.9 831.5V841.2M2001.1 904.8V919.4M2002.7 913.8V928.2M2002 831.5V837.4M2003.1 850.3V853.9M2003.7 922.4V931.4M2004.7 861.7V873.3M2004.9 939V954.5M2005.8 851.2V857.3M2005.1 922.6V926M2006 867.3V882.8M2006.2 933.9V949.3M2008 920.7V929.5M2007.7 875.6V891.1M2008.9 940.5V952.9M2008.3 853V854.2M2009.2 916.5V920.6M2009.5 875.8V880.3M2010.5 866.6V882.1M2010.7 938V944.9M2011.4 846.7V862.2M2011.8 917.5V933M2012.5 957.7V959.9M2012.3 871.5V874.2M2013.4 870V885.5M2013.9 923.9V929.7M2014.4 890.3V893.3M2014.8 927.1V928.8M2015.3 883.3V888.8M2015.7 966.5V979.9M2016.8 918V927.8M2016.1 866.8V882.3M2017.3 927.2V942.3M2017.7 870.5V886M2018.9 884.9V891.3M2018.6 932.5V945.2M2019.4 865.6V871M2019.8 923.1V934.8M2020.8 913.4V928M2020.3 869.1V879.1M2021.7 882.4V897.9M2021.3 909.9V923.1M2022.7 891.8V894.8M2022.5 920.3V935.8M2023.8 847.6V855.4M2023.5 941.5V942.9M2024.4 921V924.1M2024 866.4V874.3M2025.6 865.2V872M2025.2 946.5V959M2026.6 926V941.5M2026.9 877.3V892.8M2027.9 932V940M2027.2 854V868.4M2028.8 882.8V898.3M2028 940V943.4M2029.6 871.9V877.4M2029.2 928.6V931.9M2030.7 871.1V877.9M2030.8 930.9V938.6M2031.2 889.4V899M2031.1 941.4V953.5M2032.1 894V909.5M2032.1 938.4V946.5M2033.8 909.7V923.1M2033.8 865.3V880.8M2034.8 917.8V933.3M2034.8 882.8V888.9M2035.2 907.9V923.4M2035.5 883.2V891.5M2036.1 895.1V907.8M2036.8 861.5V877M2037 874V878.9M2037.7 940.4V948.6M2038.4 863.1V871.3M2038.9 927.9V939.7M2039.1 936V939.7M2039.7 847.8V854.5M2040.5 864.5V879M2040.4 895.9V909.6M2041.9 863.6V876.4M2041.5 925.2V940.7M2042 863.6V866.2M2042.5 910.9V924.3M2043.8 872.4V873.3M2043.2 916.6V932.1M2044.5 883.2V892.2M2044.1 911.7V921.2M2045.2 951.1V955.7M2045.9 872.1V887.6M2046.7 921.1V934.9M2046.4 860.8V876.3M2047.8 875.9V891.4M2047.4 943.3V947.2M2049 919.9V931.6M2048.8 881.3V887.1M2049.6 866.9V877M2049.1 927.8V931.6M2050.9 855.9V866.1M2050.8 921.6V937.1M2051 855.9V861.2M2051.2 934.5V941.1M2053 869.1V881.3M2052.3 933.7V944.1M2053.1 935.7V942.2M2054 881.2V881.7M2054.6 943.6V946.8M2054.1 881.2V893.5M2055.5 919.8V924.7M2055.9 867.9V881.7M2056.4 920.7V928.8M2056 867.9V869.7M2057.3 925V938.6M2057.6 862.8V863.5M2058.1 857.1V860.7M2058.5 923.3V938.8M2059.1 870.9V884.9M2059.5 930.2V945.7M2060.3 875.2V882.5M2060.7 934.4V937.4M2061.8 920.5V921.4M2061.4 877.5V879.5M2062.3 928.5V944M2062.5 867V873.5M2063.5 921.7V936.7M2063.6 885.4V892.8M2064.1 872.3V887.8M2064.9 915.9V917.9M2065.2 887.9V903.4M2065.4 913.6V927.7M2066.8 848.2V857.1M2066.7 943.2V955.6M2067.1 934.6V938.7M2067.6 889.6V904.9M2068.5 911.3V926.8M2068.3 865.5V881M2069.7 955.9V960.2M2069 901.7V905.5M2070.4 870.2V884.2M2070.6 922.8V926.3M2071.6 867.4V878.7M2071.5 933.6V939.5M2072.8 882.4V883.9M2072.2 926.6V942.1M2073.1 895.9V900.3M2073 925.3V935M2074.6 937.1V946.2M2074.2 856.9V872.1M2075.8 946.9V956.7M2075.2 880.5V891.9M2076.7 951.2V965.4M2077 875.4V890.9M2077.8 933.9V939M2077.1 878.2V893.7M2078.4 932.8V946.7M2078.8 867.8V879.2M2079.3 880.8V896.3M2080 931.6V934.9M2080.3 865.1V868.3M2081 932.2V936.1M2081.2 874.7V886.7M2081.9 941.5V946.4M2082 943.5V946.4M2082.8 861.2V871.3M2083.8 858.5V862.7M2083.7 919.2V934.7M2084.3 891.5V896.2M2084.3 925.1V940.6M2085.2 972.4V975.6M2085.5 889.1V889.9M2086.9 917.1V921.7M2086.1 885.6V894.9M2087 939.2V952.8M2087.7 882.2V897.4M2088.7 891.6V907.1M2088.6 945.2V948.3M2089.1 890.6V906.1M2090 952.7V955.7M2090.8 889.1V892.1M2090.1 943.1V955.7M2091.8 932.7V948.2M2091.9 887.9V900.4M2092.6 924.7V930.8M2092 887.9V890.9M2093.6 845.2V860.4M2093.7 955.9V958M2095 867.4V882.9M2094.1 946.9V952.1M2095.1 862.1V877.6M2095.4 931.8V947.3M2096.4 901.7V911.4M2096.9 943.3V950.3M2097.3 864.9V875.2M2097.1 941.8V950.3M2098.5 883.2V898.7M2099 977.2V984.9M2099.1 977.1V984.9M2099.9 897.4V898.5M2100 897.4V911.9M2100.9 941.8V956.7M2101 956.1V956.7M2101.2 891V905M2102.8 957.1V972.6M2102.6 896.9V904.6M2103.7 881.9V895.6M2103.5 926.7V942.2M2104.1 889.4V891M2104.9 924.6V926.7M2105.9 936.7V948.6M2105.7 899.5V906.7M2106.6 956.6V965.5M2107 871.8V887.3M2107.1 866.5V882M2107.3 935.9V940.3M2108.6 870.9V881.4M2108.9 949.3V952.3M2109.7 892.4V895.4M2109 939.8V952.3M2110.3 886V901M2110.6 937.6V949.5M2111.1 940.6V945.9M2111.5 881.4V893.9M2112.7 962.5V971.3M2113 898V913.5M2113.5 940.8V945M2113.1 888.3V891.3M2114.3 895.7V907.1M2114.7 946.3V957.4M2115.3 954.1V956M2115.1 886.3V901.8M2116.6 955V956.2M2116.9 875.2V890.7M2117.2 888.6V904.1M2117.5 957.4V968.7M2118.5 884.9V900.4M2118 930.6V938.3M2119.9 935.1V942.1M2119.6 894.5V899.5M2121 874.9V889.4M2120.1 942.1V945.5M2121.5 904.8V920.3M2121.1 870V885.5M2122.5 952.7V963.6M2122.1 877.4V879.4M2123.7 865.8V871.9M2123.4 933.4V938M2125 940.6V945.4M2124.6 884.1V899.6M2125.6 949V959.2M2125.1 904.8V905.7M2126.5 910.1V917.1M2126.6 945.7V950.1M2127.7 925.1V930.5M2127.9 881.2V895.6M2128.8 872.7V888.2M2128 933.4V946.5M2130 960.8V976.3M2129.1 873.3V883.7M2130.1 963.7V979.2M2131 892V907.5M2131.5 879.5V880.3M2131.4 936.7V952.2M2132.9 943.5V952.5M2132.4 896.6V898.7M2133.7 885.5V901M2133.1 946.1V952.5M2134.7 942.7V950.1M2134.9 883.2V890.8M2135.6 955.9V968.7M2135.5 909.5V925M2136.7 938.7V945.1M2136 870.5V886M2137 936.6V952.1M2137.6 884.3V899.8M2138.7 875.4V878.4M2139 941.1V954.5M2139.1 864.5V866.3M2139.1 939.6V955.1M2140.8 879.9V891.7M2140.1 957.6V959.1M2141.9 895.7V909.6M2141 942V946.1M2142.8 954.4V968.9M2142.2 891V906.5M2143.2 886.5V894.6M2143.6 946.4V953.6M2144.1 931.4V932.1M2144.4 887V887.8M2145.5 937V952.5M2145.3 891.4V906.9M2146 875.6V887.8M2146.4 930V932.5M2147.2 942.6V956.1M2147.8 875.6V891.1M2149 867.9V877.8M2148.6 952.5V959.6M2149.1 867.9V873.5M2149.9 928.5V940M2150.4 949.7V961.6M2150.5 874.6V884.7M2151.2 941.7V944.3M2151.8 869.7V884.9M2152.9 843V856.1M2152.5 948.1V960.6M2153.1 869.1V884.6M2153.2 918.2V933.7M2154.5 944.5V948.6M2154.3 855.7V871.2M2155 887.3V889.2M2155.7 911.2V920.7M2156.7 929.8V941.6M2156.1 880.1V885.9M2157.6 879.1V890.3M2157.9 926.4V941.9M2158.8 928.5V940.8M2158.6 891.6V899.2M2159.2 923V928.1M2159 849.2V864.3M2160.7 850.6V860M2160.1 950.7V955.3M2161.9 890.1V896.5M2161.1 952.1V954.2M2162.8 862.4V864.3M2162.1 950.2V954.3M2163.5 865.1V868.9M2163.4 920V935.5M2164.8 932.2V936.6M2164.7 864.5V880M2166 874.6V890.1M2165.3 917.3V932.8M2166.6 891.8V897.2M2166.7 918.7V924.8M2167.1 899.2V905M2167.9 940.6V943.8M2168 888.3V902.6M2168 931.5V943.8M2170 946.7V962.1M2169.7 859.6V861.3M2170.1 939.9V955.4M2170.9 874.6V890.1M2171.8 864.2V872.9M2171.5 909.2V924.7M2172.3 858.1V873.6M2172 922.1V923.1M2173.6 931V940.2M2173.8 861.9V877.4M2174.1 873.4V885M2174.2 936.1V949.6M2175.1 863.3V875.7M2175.4 924.7V940M2176.6 865.6V867.2M2176.4 920.9V932.1M2177 953V964.4M2177.3 877.1V886.9M2178.1 867.2V871.9M2178.6 914.6V925.7M2179.6 869.3V882.9M2180 898V901.5M2180.5 866.7V875.3M2180.9 919.6V921.7M2181.5 884.4V898.7M2181.4 962.9V964.1M2182 863.3V877.9M2182 906.8V921.5M2184 887.2V902.7M2183.5 957.5V962.3M2184.7 922.9V938.1M2184.4 877.3V892.8M2185.9 939.4V954.9M2185.4 883.7V896.3M2186.2 874.1V885.8M2186 940.6V952.4M2187.3 909.6V925.1M2187.4 866.1V878.8M2188.7 867.5V883M2188.5 903.2V904.2M2189.2 872.6V884.5M2189.6 913V928.5M2190.5 850.1V865M2190.4 942.4V948.1M2191.9 923.2V932.5M2191.2 877.9V893.4M2192.7 944.2V946.2M2192.1 867.3V875.3M2194 924.9V937.5M2193.9 872.6V887M2194.4 852.1V867.6M2194.3 934.1V945.3M2195.4 844.4V859.9M2195.5 911V918.2M2196.3 919V924.7M2196.2 874.2V889.7M2197.3 946.8V958.4M2198 862V877.5M2198.2 930.9V941.9M2198.1 864.3V877.8M2199 849.4V850.9M2199.1 958.9V963.9M2200.4 877V886.6M2200.4 915.5V931M2201.3 891.3V897.9M2202 941.4V956.8M2202.6 875.3V882.6M2203 906.4V921.9M2203.9 879V881.4M2203.6 945.2V946.6M2204 879V888.9M2204.2 943.2V951.6M2205.6 853.8V857.2M2206 918.8V934.3M2206.1 878.8V883.2M2206.1 912.1V920.5M2207.4 907.5V921.4M2207.5 845.2V846.4M2208.3 963.3V974.8M2208 878.7V890M2209.3 949.6V951.3M2209.6 894V908.6M2210.3 939.9V953.3M2211 882.2V897.3M2211.7 854.2V860.2M2211.5 919.3V922M2212.3 886.5V894.6M2212.4 936.4V943.1M2213.3 857.9V871.1M2213.5 911.2V914.7M2214.1 946.4V955.2M2214.6 869.6V885.1M2215.9 921.1V935.3M2215.7 854.4V869.9M2216.6 874.1V887.6M2216.6 938.7V954.2M2217.9 874.7V886.3M2217.5 928.6V930.9M2218 874.7V878.5M2218.3 906.6V922.1M2219.5 944.9V958.6M2219.2 882.8V887.3M2220.1 862.5V867.3M2220.9 935.1V937.4M2221.6 909.8V925M2221.6 855.6V858.7M2222.4 936.2V951.7M2222 882.3V895M2223.6 870.2V880.2M2223.4 931.3V946.8M2224.3 859.8V875.3M2225 905.1V920.6M2225.4 877.3V878.6M2225.2 929.7V945.2M2226 944.6V953.6M2226.9 862.3V876.4M2227.4 905.8V919.9M2227 862.3V863.6M2228.5 935.5V936.4M2228.3 884.9V900.4M2230 926.1V941.6M2229.1 880V895.5M2230.9 894.7V900.2M2230.1 948.3V949.1M2231.7 856.9V857.9M2231.9 927.6V943.1M2232.1 903.1V918.6M2232.3 947.5V951.1M2233.9 944.8V945.8M2233.1 897.7V904.2M2234.9 876.3V891.8M2234.1 918.7V934.2M2235.1 921.5V923.8M2235 869.2V884.4M2236.6 885.5V901M2236.3 925V940.5M2237.1 857.4V863.6M2237.2 940V944.9M2238.9 882.7V898.2M2238.7 940.5V951M2239.6 870.7V875M2239.3 931.5V942.4M2240.9 864V872.1M2240.3 932.6V934.7M2242 928.4V941.8M2241.1 864V868.7M2242.3 887.3V888.6M2242.5 952.6V958.4M2243.9 943.2V946.6M2243.4 887V900.4M2244.4 877.2V885.7M2244 934.6V946.6M2245.7 879.9V891.5M2245.8 912.8V928.3M2246.3 883.9V896.3M2247 901.5V913M2247.9 890.7V906.2M2247.2 906.6V922.1M2248.8 914.6V930.1M2248.9 884.3V885.2M2249.5 939.7V950.3M2249.9 868.7V873.4M2250.1 868.7V872.2M2251 922.6V930.4M2252 933.6V934.9M2251.6 866.3V867.8M2252.1 926.9V934.9M2252.8 876.2V891.7M2253.7 944.4V948.2M2253 883.6V895.3M2254.2 936.6V944.1M2254.5 893.6V895M2255.6 938.2V946.7M2255.8 857.1V866.4M2256.5 873.5V880.1M2256.7 955.7V957.4M2257.9 932.9V947M2257.2 878.6V892.6M2258.5 881.9V889.8M2258 945.7V947M2259.6 923.6V936.1M2259.8 855.3V865.5M2261 857.7V866.7M2260.5 928.6V937.1M2261.9 933.7V937.4M2261.1 857.7V864.1M2262.8 878.6V893.3M2262.3 947.9V963.4M2263.4 933.7V936.7M2263.7 872.1V887.6M2264.6 877.1V877.7M2264.2 930.8V946.3M2265.2 869.2V871.8M2265.5 955.4V956.6M2266.9 931.7V947.1M2266.9 887.3V902.8M2267.5 890.1V893.9M2267.4 953.3V956.9M2268.2 943.1V948.6M2268.4 860.3V865.3M2269.6 936.9V952.4M2269.8 889.5V900.6M2270.1 926.7V942.2M2270.7 878.3V881.2M2271.1 960.4V963.1M2271.3 883.7V899.2M2272.8 926.8V930.7M2272.9 890.2V898.8M2273.2 925.9V937.3M2273.6 863.8V871.2M2274.9 874.2V884.1M2274.7 926.9V938.8M2275.2 892.3V897.6M2275.1 937.9V946.5M2276.8 952.6V965.8M2276.4 898.4V908.9M2277.6 928.9V937.7M2277.7 895.6V911.1M2278.3 890.5V891.2M2278.8 935.2V946M2279.2 949.1V962.9M2279.9 892V904.9M2280.3 883.9V899.4M2280.8 914.6V929.8M2281 884.6V898.9M2281.9 922V937.5M2282.8 882.6V885.7M2282.1 966.4V971.2M2284 891.7V892.9M2283.5 928.2V943.7M2284.1 889.8V891.7M2284.9 949.1V964.6M2285.9 882V886.8M2285.4 952.4V967.1M2286 860.5V864.6M2286.4 923.1V925.4M2287.3 869.8V873.3M2287.7 932.8V938.7M2288.2 921.2V926.4M2288.9 872.6V883M2289 872.6V877.7M2289 928.8V944.3M2290.5 878.5V885.9M2290.9 916.4V931.9M2291.2 859V874.5M2291.6 931.3V946.8M2292.5 880.5V889.3M2292.2 929.4V933.2M2293.8 891.7V893.5M2293.9 934.2V934.8M2294 880.2V891M2294.9 950.6V953M2295 939.9V953M2295 882.4V888.8M2296.1 931V944.4M2296.8 882.6V887.4M2297.7 878V887.2M2297.5 942.1V948M2298 855.4V870.9M2298.5 925.7V939.2M2299.8 869.4V884.9M2299.7 929.6V940.6M2300.8 881V893.5M2300.6 923.2V938.7M2301.5 866.6V868.4M2301.9 909.1V924.6M2302.4 940.9V956.4M2302.9 844.7V860.2M2303 848.6V864.1M2303.7 932.9V948.4M2304 925.6V933.6M2304.9 872.6V888.1M2305.2 873.2V888.2M2305.5 922.6V927.5M2306.2 941.7V950.7M2306.9 848.1V863.1M2307 848.1V848.6M2307.1 921.9V937.4M2308 866.9V882.4M2308.9 932.8V940.9M2309.3 874.3V889.8M2310 942.9V952.7M2310.1 946.9V952.7M2310.9 873.4V888.9M2311.1 924.1V930.2M2311.4 889.5V905M2312.8 882.9V893.8M2312.1 937.2V944.7M2313.8 869.7V885.2M2313 916.3V931.8M2314.2 937.5V952.4M2314.6 881.8V897.3M2315.5 857.8V863.3M2315.7 941.2V944.3M2316.5 869V884.5M2316.5 913.4V928.9M2317.3 860.7V863.8M2317.8 924.3V938.5M2319 943.4V958.9M2318.4 905.3V907.5M2319.6 843.1V856.5M2320 940.8V952.2M2320.6 861.2V874.9M2320.1 948.2V952.2M2321 867.8V874.2M2321.7 935.3V937.3M2322.3 860.8V873.2M2322.8 950.2V956.8M2323.5 919.1V932.8M2323.8 861.2V863.5M2324.4 858.3V870.5M2324.7 919.4V934.8M2325.3 874.4V889.9M2325.1 926.2V930.3M2326.9 876V889.5M2326.2 943.5V958.4M2327.7 882.8V894.1M2327.3 912.1V918.8M2328.2 902.3V908.4M2328.7 865.6V879.9M2329.8 933.3V948M2329.1 845.7V851.5M2330.4 864.8V874.6M2330.8 943.8V952.5M2331.7 913.4V928.8M2331.2 856.8V862.3M2333 932.6V942.6M2332.5 845.2V846.5M2333.1 874.4V885.9M2333.1 937V942.6M2334.6 926.8V928.9M2334.5 864.8V869.4M2335.7 924.9V940.4M2335.7 850.9V851.6M2336.1 862.9V878M2336.2 907.3V918.8M2337.7 903.4V906.9M2337.2 853.1V859M2338.1 854.3V862.6M2338.9 937.9V948.5M2339 943.6V948.5M2339.3 866.3V870.3M2340 859.3V873.6M2340.6 934.9V940.6M2341.2 859.9V872.9M2341.1 924V936.5M2342.7 912.5V926.2M2342.1 868.9V876.8M2343.9 938.8V954.1M2343.1 880.1V887M2344.9 851.3V856.2M2344 931.7V947.2M2345.1 913V917.1M2345.1 851.3V861.9M2346.5 844.4V856.8M2346.9 920.7V929.5M2347.6 868.7V870.1M2347.1 920.9V927.1M2348.3 877.8V881.5M2348.8 952.4V959M2349.9 874.7V890.2M2349.9 919.1V931.4M2350.1 928.1V931.4M2350.5 854.2V869.7M2351.1 918.8V927.4M2351.4 889.6V890.8M2352.1 866.2V881.7M2352 910.6V926.1M2353 888.7V895.1M2353.9 936.1V943.2M2354.1 934.8V943.2M2354.4 856.1V861.5M2355.3 948.6V953.1M2355.6 863.9V868.9M2356.8 852.8V853.9M2356.1 920.6V928.1M2357.7 850V858.1M2357.3 943V944.9M2358.3 864.6V880.1M2358.9 900.1V915.6M2359.1 916.3V919.1M2359.5 848.8V860.2M2360.9 853.1V859.3M2360.2 907V922M2361.9 898.2V913.4M2361 853.1V862.3M2362.4 856.2V859.2M2362 942.6V945.3M2363.6 908.3V912.6M2363.1 861.4V862.5M2364.6 921.1V933.5M2364.1 862.3V867.6M2365.6 855V855.8M2365.2 911.3V916.8M2366.4 859V874.1M2366 920.8V923.5M2367 876.7V885.9M2367.4 909.7V917.8M2368.5 847.3V849.9M2368.3 913.2V914.8M2369.4 856.3V871.8M2369.9 904.2V919.7M2370.4 836.1V839.7M2370.3 915.6V922.1M2371.3 848.1V863.5M2371.9 918.1V921.5M2372.1 909.4V921.5M2372.7 880.8V887M2373.9 902.4V917.9M2373.5 834.9V850.4M2374.1 899.2V906.1M2374.4 832.6V848.1M2375 846.6V850.7M2375.7 915.5V927.2M2376.8 931V934.7M2376.9 834.1V849.6M2377.1 834.5V850M2377.6 911.1V926.3M2378.1 843.5V854.5M2378.1 927.8V939.2M2379 914.8V922.3M2379.5 863.9V879.4M2380.2 906.1V908.5M2380.9 845.2V852.6M2381.8 838.6V852.1M2382 891.8V898.6M2383 854.2V869.7M2382.7 906.4V910.3M2383.2 921V934.5M2383.1 839.9V847.5M2384.9 834.6V845.1M2384.4 920.3V927.1M2385 834.6V839.6M2385.7 893.5V909M2386.7 858.5V872.8M2386.3 921.1V922M2387.4 863.1V870.3M2387.6 902.9V918.4M2388.1 858.1V869.1M2388.9 882.3V897.8M2389.8 843.2V858.7M2389 904.5V907.7M2390.1 855.1V861.5M2390.4 920.9V924.4M2391.7 894.9V910M2391.2 833.8V837.7M2392.1 881.4V892M2392.8 837.6V851.3M2393.7 829.8V845.3M2393.5 901.1V906.5M2394.2 903.1V918.6M2394.3 863V866M2395.6 918.7V933.8M2395.7 836.6V837.9M2396.2 896.1V904.6M2396.9 845.2V860.7M2397.5 890.6V906.1M2397.4 859.3V868.5M2398.8 909.8V916.3M2398.7 855.3V867.5M2399.2 831.4V834M2399.3 917.6V933.1M2400.1 903.8V911.4M2400.6 866V877.5M2401.2 874.4V881M2401.8 902.1V913.6M2402.8 907.4V910.9M2402.4 830.7V842.8M2403.6 833.1V848.6M2403 909.4V910.3M2404.1 823.3V834.6M2405 892.1V907.6M2405.9 843.6V859.1M2405.4 908.9V914.7M2406 890.1V905.6M2406 845.8V861.2M2407 850.1V865.6M2407.2 917.8V933.3M2408.2 852.4V861.4M2408.7 883V898.5M2409.1 911.7V913.9M2409.3 863.9V871.7M2410.2 895.8V901.9M2410.5 850.8V863.6M2411.3 834V847.6M2411.9 909V912.6M2412.2 835.1V849.5M2412 900.6V912.6M2414 842.6V857M2413.3 928.1V939.3M2414.1 894.8V905.3M2414.1 842.6V843.7M2415 864V868.1M2415.5 912.2V923.5M2416.7 863.7V877.3M2416.5 893.6V906.9M2417.1 840.4V855.4M2417.2 914.1V918.7M2418.1 921.6V931.7M2418.6 822.5V823.9M2419.8 850.7V852M2419.8 925.3V940.8M2420 853.2V860.3M2420.3 890.6V906.1M2421.8 921V928.1M2421.3 871V875.3M2422.1 922.1V937.3M2422.5 835.4V841.8M2423.4 897.5V908.5M2423.9 837.2V846.4M2424 837.2V843.5M2424 894.6V910.1M2425.9 845.7V861M2425.4 876.3V879.7M2426.1 884.2V897M2426.2 835.4V843.2M2427.5 859.5V870.3M2427.7 915.2V922M2428.1 861.5V877M2428.5 907.3V908.2M2429 927.1V935M2429.4 858.1V859M2430.4 924.5V930.3M2430.2 863V868.1M2431.7 907.5V923M2431.8 842.9V853.8M2432.6 924.7V927.3M2432.7 832.8V841.2M2433.1 844V859.5M2433.8 892.5V908M2434.5 843.7V851.2M2434.3 914.7V916.2M2435.6 921.1V936.6M2435.2 850.5V866M2436.6 868.7V869.7M2436.7 913V928.3M2437.5 835.5V845.9M2437.4 921.9V937.4M2438.4 828.4V843.7M2438.5 901.8V917.3M2439.8 865.6V867.6M2439.2 893.8V909.3M2440.3 928.6V934.5M2441 864V870.5M2441.5 918.6V923.7M2441.4 857.4V862.7M2442.6 916.4V925.4M2442 856V867.3M2443.7 897.6V898.6M2443.4 859.7V875.2M2444.4 916.8V926.2M2444.1 835.1V842.2M2445.1 911.4V916.4M2445.7 859.4V867M2446.2 915.9V931.4M2446.4 857.1V864.8M2447 885.6V895.3M2447.3 826.2V833.9M2448.6 892V900.7M2448 850.1V865.6M2449.7 842.3V857.3M2449.1 894.3V902.9M2450.4 842.2V846.1M2450.5 882.6V890.1M2451.9 898.5V914M2451.8 847V862.2M2452 895.1V910.6M2452.7 831.6V840.2M2453.1 839.2V843.4M2453.6 906.3V911.8M2454.6 855.1V863.3M2454.1 910.6V914.5M2455.9 874V889.5M2455.9 918.4V923.3M2456 912.7V923.3M2456.1 857V861.6M2457.3 895V910.5M2457.9 845.7V858.8M2458.1 899.3V913.1M2458.1 845.7V848.2M2459.1 887.6V903.1M2459.4 859.2V864M2460.9 821.4V836.9M2460.3 897.1V897.7M2461.3 850.2V858.6M2461 932.4V934M2462.2 813.3V828.8M2463 902.6V912.9M2463.9 825.1V832.5M2463.1 907.7V912.9M2464.5 841.7V849.2M2464.4 901.4V908.6M2465.8 907.7V923.2M2465.3 830.4V831.9M2466.9 883.8V899M2466.6 843V854.3M2468 840V855.5M2467.1 882.5V892M2468.6 839.8V841.9M2468.2 862.9V878.4M2469.4 882.5V898M2469.6 819.2V828.1M2470 897V897.8M2470.2 838.8V854.3M2471.4 891.2V899.7M2471.1 820.9V824.4M2472.7 852.2V853.9M2473 894.9V910.4M2473.6 849.6V858.1M2473.1 901V916.5M2474.4 844.2V852.3M2474.3 910.8V914.8M2475.4 888.3V898.7M2475.7 861.9V864.8M2476.7 832.2V833.8M2476.2 877.8V891.6M2477.6 925.6V928.4M2477.1 820.4V831.4M2478.1 853.4V861.3M2478.6 876.3V891.8M2479.2 828.1V834.9M2479.8 915.9V931.4M2481 832.6V833.2M2480.6 894.3V908.2M2481.3 819.7V835.2M2482 897V907.3M2482.1 864.9V873.2M2482.1 902.1V907.3M2483.7 840.8V845.2M2483.3 925.9V941M2484.8 913.1V913.9M2484.8 846.5V862M2485.8 916.8V932.3M2485.5 847.8V849.8M2486.1 915V919.2M2486.6 860.9V869.8M2487 903.2V918.2M2487.5 841.9V850.5M2488.4 913.2V928.7M2488.8 837.1V846.1M2489.3 840.8V848.7M2489.7 891.9V898M2491 854.2V867.5M2490.3 900.9V909.6M2491.9 936.3V940.6M2491.1 854.2V856.3M2492 929.5V940.6M2492.5 863V878.5M2493 915.1V927.9M2493.8 858.9V860.8M2494.5 848.9V850.7M2494.8 898.3V902.9M2495.4 901V907.7M2495.2 859.9V863.1M2496.1 846V851.3M2496.3 929.5V932.8M2497.2 850.7V866.2M2497.5 918.6V925.8M2498.4 835.7V838.4M2498.3 891V898M2499.1 859V866.1M2499.7 916.1V918.9M2500.4 862.4V869.3M2500.6 896.9V898.2M2501.5 892.5V908M2501 847.9V860.5M2502 859.3V867.8M2502.7 890.6V904.6M2503.6 830.1V831.1M2503.2 926.8V933.4M2504.1 867.1V882.2M2504.4 911.1V925M2505.4 849.2V864.7M2505.3 919.2V934.7M2506.3 865.5V867.5M2506.7 908V923M2507.3 853.8V869.3M2507.7 901.2V910.5M2508.7 855.7V861.8M2508.2 934.5V945.1M2509.8 863.1V878.6M2509.1 908V923.5M2510.5 867.8V873.1M2510.4 913.6V926.6M2511.4 915.7V924.2M2511.7 861.5V866.1M2513 839.3V840.9M2512.6 946.9V949.4M2513.1 839.3V853.2M2513.7 910.3V916.8M2514.1 871.1V881.9M2514.4 927V941.1M2515 896.9V910M2515.8 861.9V877.4M2517 930.6V934.7M2516.7 876.1V886.6M2518 855.4V858.4M2517.1 923.3V934.7M2518.4 922.8V937.1M2518.1 855.4V868M2519.8 859.3V863.4M2519.9 899.5V914.8M2520.7 903.6V918.9M2520.6 842.7V848.5M2521.7 932.1V944M2521.8 857.1V867.1M2522.5 859.1V869.3M2522.2 906.6V913.7M2523.9 842.6V854.9M2523.6 894.3V906.7M2524 842.6V845.8M2524.4 919.1V925.4M2526 850.3V861.5M2525.6 925.7V926.9M2526.1 850.3V854.6M2526.3 910.4V916.3M2527.5 923.4V927.7M2527.8 855.1V865.4M2528 920.3V928.6M2528.9 856V859.4M2529.7 941.7V949.3M2529 856V868.1M2530.1 859.3V870.6M2530.8 904V912.9M2531.1 838.7V846.3M2531.5 900.6V916.1M2532.9 851.9V862.2M2532.9 913.3V928.8M2533.2 848.5V853.9M2533.9 916.1V929.7M2534.6 928.9V942.3M2535 841.6V844.6M2536 935.9V951.4M2535.1 841.6V854M2536.1 935V950.5M2536.9 833.9V842.1M2537 833.9V841.2M2537.5 921.6V937.1M2538.3 942.7V958.2M2538.9 850.3V865.8M2539.1 843.4V858.8M2539.5 925.9V940.5M2540.1 840.6V854.1M2540.2 893.8V905.7M2541.6 924.2V938.2M2541.3 892.7V893.2M2542.5 854.2V869.7M2542.8 903.8V919.3M2543.2 880.2V895.7M2543.8 946V952.3M2544.1 898.7V907.2M2544.9 873.2V888.7M2545.5 876.8V883.4M2545.1 907.3V919.5M2546.5 844.4V859.4M2546.7 918.3V932.7M2547.7 861.2V872.1M2547.4 926.4V941.9M2548.1 871.3V881.9M2548.7 951.9V956M2549.7 850.3V864.6M2549.9 902.7V918.2M2550.3 916.1V931.6M2550.5 874.2V885.2M2551.3 880.9V896M2551.8 959.3V974.8M2553 916.8V924M2552.4 865.5V878.7M2553.7 895.5V901.7M2553.1 939V951.6M2554.5 869.6V874.1M2554.6 931.7V947.2M2555.7 886.9V889.6M2555 925.9V931M2556.9 922.6V938.1M2556.6 854V868.5M2557.8 858V862.6M2558 942.2V943.1M2558.1 869.9V877.4M2558.1 928.5V943.1M2559.8 860.4V875.9M2559.1 942.1V951M2560.4 869.2V875.1M2560.8 929.9V943.6M2561.8 872.4V883.2M2561.3 912.5V916.7M2563 939.6V955.1M2562.3 873.1V884.5M2563.5 908.8V910.3M2563.1 948.9V958M2564 920.1V928.7M2564.7 850.6V860.5M2565.3 927.3V930.6M2565 870.1V879.5M2566.2 893.9V895.9M2566.3 936.2V938.9M2567.1 899.1V905.2M2567.6 928.9V935.4M2568 940.5V956M2568.9 878.8V894.3M2569.3 933.2V935.9M2569 894.1V899.4M2570.8 901.7V917.2M2570.7 872V886.6M2571.6 934V941.8M2571.5 873.8V880.2M2572.6 938V944.1M2572.1 887.4V895.4M2573 933.5V945.3M2573.3 868.5V884M2574.7 866.6V875.7M2574.4 949.9V957.2M2575.6 866.4V868.1M2575.1 948.8V955.2M2576.5 876.9V883M2576.4 914.1V929.5M2577.3 946V947.9M2577.6 877V883.1M2578.4 920V932.8M2578.8 861.6V877.1M2579.7 875.8V889.5M2579.6 913.8V923.8M2580.7 873.9V876.7M2580.3 959.6V962.5M2581.5 872.6V888.1M2581.5 939.2V954.5M2582 941.6V953.1M2582.5 886.6V889.3M2583.3 880.5V896M2583.9 957.1V967.3M2584.2 959.3V968.9M2584.8 884.7V891.8M2585.7 874.3V881.1M2585.4 931.8V936M2586.3 883.9V899.4M2586.8 920.9V936.4M2587.5 947.3V955.2M2587.4 880.7V896.2M2588.7 890.7V906.2M2588.7 935.1V950.6M2589.1 924.8V929.1M2589.2 885.9V895.9M2590.6 955.6V960.7M2590.1 890.3V903.5M2591 934.1V943.4M2591.7 871.6V887.1M2592 921.6V937.1M2592.2 876.2V891.7M2593.7 945.3V960.8M2594 896.5V912M2594.4 879.1V894.6M2594.9 925.9V939M2595.5 865.5V877.4M2595 936.6V939M2596.4 929.2V934.5M2596.3 884.8V892.8M2598 930.2V935.5M2597.7 885.8V901.3M2599 864.6V880.1M2598.3 966.5V967.2M2599.1 864.3V879.8M2599.2 930.9V933.5M2600.5 902.9V918.4M2600.9 957.8V962.3M2601 951.2V962.3M2601.7 888.9V892.8M2602.1 934V939.5M2602.6 848.7V864.2M2603.7 857.1V872.6M2603.9 930.2V936.7M2604.9 855.9V858.7M2604.3 930.9V938.8M2605.5 908.7V924.2M2605 855.9V868.6M2606.3 916.7V930.5M2606.4 844.4V855.5M2607.1 855.3V864.9M2607.3 939.4V951.1M2608.1 948V948.5M2608.5 864.1V874.7M2609.1 873.9V875.7M2609 938.7V951.6M2610.7 921.3V930.1M2610.2 856.4V869.1M2611.5 914.4V929.9M2611.5 855.6V863.3M2612.4 867.5V883M2612.4 934.1V949.6M2613.8 934.2V939.2M2613.5 877.7V887.9M2614.7 868.4V883.9M2614.7 912.8V928.3M2615.2 927.9V936.5M2615.1 883.5V890.1M2616.7 870.7V886.2M2616.2 913V923M2617.8 903.7V912.9M2617.1 855.7V859.5M2618.8 879.3V884M2618.4 915.9V928.6M2619.8 884.8V894M2619.9 919.9V925M2620.7 860.6V869.9M2620.1 925V930.5M2621.7 872.9V888.4M2621.1 917.9V928.6M2622.1 939.7V949.2M2622.5 844.5V857.6M2623.9 916.6V920.1M2623.4 855.3V870.2M2624.3 932.7V935.5M2624.7 874.7V877.5M2625.1 928.6V931.7M2625.7 882V888.1M2626.6 914.4V927.7M2626.1 857.5V869.5M2627 896.9V911.8M2627.9 841.2V842.5M2628.7 905.7V921.2M2628.8 829.6V832M2629.2 864.1V870.6M2629.5 946.5V950.5M2630.4 856.6V866.9M2630.5 890.7V906.2M2631 869V874M2631.5 902.9V918.4M2632 901.9V914M2632.4 843.2V845.2M2633.7 882.7V898.2M2633.3 918.9V924.5M2634.2 854.3V868M2634.6 929.5V931.4M2635.5 860.3V875.8M2635.8 926.8V936.1M2636.7 898.2V913.7M2636.7 835.4V847.1M2637.9 907.4V922.9M2637.4 836V839.6M2638.3 867.2V877.3M2638.2 935.9V945.1M2639.7 860.9V868.5M2639.5 939.3V940.1M2640.8 922.1V931.6M2640.5 867.9V880.3M2641 926.3V932M2641.2 862.9V875.2M2642.3 924.1V929.2M2643 861.2V861.8M2644 862.5V878M2643.7 914.3V918.4M2644.1 922.3V930.2M2644.4 852.8V868.3M2645.7 934.8V939.5M2645 850.8V858.7M2646.6 916.6V929.8M2646.9 836.4V851.9M2647.1 866.3V874.1M2648 933.5V939.7M2648.1 930.5V939.7M2648.7 861.5V874.7M2649.4 866.2V881.7M2649.3 898.8V912.5M2650.9 847.7V863.1M2650.9 914.2V929.7M2651.8 917.3V924M2651.1 854.6V870.1M2652.2 908.6V919.5M2652.6 849.6V862M2653.2 891.4V906.9M2653.8 863.4V872M2654.4 857.2V859.3M2654 888.2V901.5M2655.4 871.5V873.6M2655.7 899.9V906.9M2656.2 858.4V867.9M2656.7 915.3V921.9M2657.7 846.3V861.8M2657.9 915.6V923.9M2658.9 928.4V937.1M2658.1 834.9V843.4M2659.9 848.2V863.7M2659 930.4V937.1M2660.7 911.3V914.7M2660.1 844.3V859.8M2661.3 881.6V891.4M2661.9 865.2V867.1M2662.9 861.2V866.9M2662.1 907.8V923.3M2663.8 922.4V932.2M2663.9 838.3V853.3M2664.6 922V937.5M2664 838.3V838.8M2665.6 867.7V877.1M2665.8 921.7V937.2M2666.5 879V889M2666.4 918V925.7M2667.6 931V934.2M2667.4 865.2V866M2668 858.9V872M2668.8 909.4V912.8M2669.2 933.5V944.3M2670 858.8V860.8M2670.2 901.2V916.7M2670.1 858.8V872.3M2671.2 917.2V932.7M2671.1 873V888M2672.9 939V942.8M2672.3 865V880.5M2673.7 853V868.5M2673.7 941.8V955.9M2674.2 915.2V922M2674.1 853.8V859M2675.2 861.4V863.5M2675.1 901.5V904.7M2676.1 912V924.2M2676.9 839.8V841.7M2677.5 909.2V915.5M2677 839.8V853.4M2679 907.9V923.1M2678.6 863V869.8M2679.5 877.3V885.1M2679.6 944.2V947.7M2680.2 920V925M2680.4 854.8V863.5M2681.8 826.3V835.5M2681.1 925.6V926.8M2682.6 914.5V920.9M2682.9 833.2V839.3M2683.1 833.2V842.6M2683.3 893.7V894.8" fill="none" stroke="#1f77b4" stroke-width="4.2" stroke-linecap="round"/>
<text transform="translate(836,1049) rotate(-90)" font-size="46.4">Flaring</text>
<rect x="346.0" y="124.0" width="2448.0" height="979.5" fill="none" stroke="#000" stroke-width="2.2"/>
<path d="M772.8 1103.5v-8M1235.6 1103.5v-8M1698.5 1103.5v-8M2161.3 1103.5v-8M2624.2 1103.5v-8M346.0 908.4h8M346.0 706.3h8M346.0 504.2h8M346.0 302.1h8" stroke="#000" stroke-width="2.2" fill="none"/>
<path d="M402.5 1103.5v-4.6M495.1 1103.5v-4.6M587.7 1103.5v-4.6M680.2 1103.5v-4.6M865.4 1103.5v-4.6M957.9 1103.5v-4.6M1050.5 1103.5v-4.6M1143.1 1103.5v-4.6M1328.2 1103.5v-4.6M1420.8 1103.5v-4.6M1513.4 1103.5v-4.6M1605.9 1103.5v-4.6M1791.1 1103.5v-4.6M1883.6 1103.5v-4.6M1976.2 1103.5v-4.6M2068.8 1103.5v-4.6M2253.9 1103.5v-4.6M2346.5 1103.5v-4.6M2439.1 1103.5v-4.6M2531.6 1103.5v-4.6M2716.8 1103.5v-4.6M346.0 1070.1h4.6M346.0 1029.7h4.6M346.0 989.2h4.6M346.0 948.8h4.6M346.0 868.0h4.6M346.0 827.6h4.6M346.0 787.1h4.6M346.0 746.7h4.6M346.0 665.9h4.6M346.0 625.5h4.6M346.0 585.0h4.6M346.0 544.6h4.6M346.0 463.8h4.6M346.0 423.4h4.6M346.0 382.9h4.6M346.0 342.5h4.6M346.0 261.7h4.6M346.0 221.3h4.6M346.0 180.8h4.6M346.0 140.4h4.6" stroke="#000" stroke-width="1.7" fill="none"/>
<text x="772.8" y="1145" font-size="42.4" text-anchor="middle">2530</text>
<text x="1235.6" y="1145" font-size="42.4" text-anchor="middle">2535</text>
<text x="1698.5" y="1145" font-size="42.4" text-anchor="middle">2540</text>
<text x="2161.3" y="1145" font-size="42.4" text-anchor="middle">2545</text>
<text x="2624.2" y="1145" font-size="42.4" text-anchor="middle">2550</text>
<text x="338.8" y="925.5" font-size="42.4" text-anchor="end">200</text>
<text x="338.8" y="723.4" font-size="42.4" text-anchor="end">300</text>
<text x="338.8" y="521.3" font-size="42.4" text-anchor="end">400</text>
<text x="338.8" y="319.2" font-size="42.4" text-anchor="end">500</text>
<text x="1570" y="1200.8" font-size="51" text-anchor="middle">Time - 2457000 [BTJD]</text>
<text transform="translate(238.5,614.8) rotate(-90)" font-size="51" text-anchor="middle">Flux [e<tspan dy="-19.5" dx="4.5" font-size="35.7">−</tspan><tspan dy="19.5" dx="-3.5"> s</tspan><tspan dy="-19.5" dx="1" font-size="35.7">−1</tspan><tspan dy="19.5" dx="-1">]</tspan></text>
<rect x="1296.0" y="185.5" width="1296.2" height="558.5" fill="#fff"/>
<path d="M1354.2 635.9V649.3M1358 632.1V647.5M1361.8 635.3V650M1365.6 622.2V636.9M1369.5 621.2V634.5M1373.3 621V635.7M1377.1 611.4V625.4M1380.9 646.4V661.5M1384.7 628V642.6M1388.6 640.3V654.3M1392.4 607.7V622.3M1396.2 634.8V649.3M1400 605.8V620.2M1403.8 611.3V626.4M1407.7 633.3V648.2M1411.5 622V636.5M1415.3 611.5V625.9M1419.1 631.7V647M1422.9 610.6V625.9M1426.8 612.6V627.1M1430.6 631.8V646.9M1434.4 612.5V626.4M1438.2 637.3V652.3M1442.1 615.7V629.8M1445.9 619.6V634.9M1449.7 616.9V631.1M1453.5 602.4V616.7M1457.3 630V644.6M1461.2 610.1V624.1M1465 623.5V637.7M1468.8 607.7V622.7M1472.6 646.2V661M1476.4 612.4V626.5M1480.3 635.5V649.7M1484.1 621.5V635.2M1487.9 618.4V633.2M1491.7 636.6V651.7M1495.5 607.8V622.4M1499.4 617.1V630.9M1503.2 613.7V628.6M1507 601V616.4M1510.8 635.8V651M1514.6 621.1V636M1518.5 627V641.2M1522.3 613.8V629.1M1526.1 608.7V623.4M1529.9 637.4V652.5M1533.8 620.2V634.3M1537.6 594.1V608.5M1541.4 602.9V617.2M1545.2 611.3V626.9M1549 588.7V603.9M1552.9 605.5V620.6M1556.7 563.5V578.7M1560.5 583.8V597.9M1564.3 544.5V559.6M1568.1 562.6V577.4M1572 558.5V573.5M1575.8 538.6V553.4M1579.6 535.3V549.4M1583.4 507.9V523M1587.2 536.4V552.2M1591.1 532.9V548.2M1594.9 531.6V546M1598.7 554V567.8M1602.5 530.2V545.4M1606.3 553.3V566.9M1610.2 532.7V547.5M1614 543.3V558.2M1617.8 510.2V525.5M1621.6 516.6V530.9M1625.5 501.5V516.7M1629.3 482.1V496.3M1633.1 506.2V520.7M1636.9 490.2V505.9M1640.7 465.6V479.5M1644.6 450.1V464.8M1648.4 480.3V494.6M1652.2 444.7V459.4M1656 478.7V494.8M1659.8 445.1V461.2M1663.7 469.2V484.2M1667.5 475.7V491.4M1671.3 460.3V475.8M1675.1 470.4V486M1678.9 473.3V488.2M1682.8 453.3V468.1M1686.6 488.4V504.7M1690.4 478.1V492.6M1694.2 506.1V520.9M1698 511.3V525.2M1701.9 515V530.7M1705.7 519.2V534.4M1709.5 506.5V521.9M1713.3 529.2V544.9M1717.2 523V538.6M1721 547.1V562.5M1724.8 512V526.3M1728.6 470.1V485.2M1732.4 500.6V516M1736.3 478.4V493.2M1740.1 521.8V536.8M1743.9 496.6V511.3M1747.7 537.6V552.8M1751.5 518.5V533.6M1755.4 517.8V531.9M1759.2 535.9V552.1M1763 497.5V513M1766.8 526.3V542.2M1770.6 500.1V514.6M1774.5 512.4V527.7M1778.3 531.1V546.1M1782.1 533.4V547.8M1785.9 546.1V561.8M1789.7 545V559.9M1793.6 563.7V578.6M1797.4 545.5V560.5M1801.2 501.1V516.4M1805 514.7V530.8M1808.9 537.7V553.6M1812.7 509.6V524.8M1816.5 555.9V570.8M1820.3 500.8V515.4M1824.1 533.1V547.7M1828 500.6V516.5M1831.8 479.5V495.5M1835.6 507.8V522.7M1839.4 491V505.5M1843.2 496.4V512M1847.1 492.7V507.2M1850.9 486.9V501.5M1854.7 485V500.3M1858.5 462.6V479M1862.3 445V461.1M1866.2 441.3V456.2M1870 441.2V456.8M1873.8 431.9V447.4M1877.6 443V458.3M1881.4 456.4V471M1885.3 415.2V430.5M1889.1 426.5V441.9M1892.9 406.5V422.4M1896.7 438.9V454.4M1900.6 451.2V466.3M1904.4 435.2V451M1908.2 404.3V420M1912 415.8V432.4M1915.8 416.3V431.1M1919.7 409.1V424.7M1923.5 405.4V421.7M1927.3 376.5V393M1931.1 379.7V395.9M1934.9 351.4V367.2M1938.8 363.6V379.5M1942.6 353.1V368.3M1946.4 339.9V356.6M1950.2 320V335.7M1954 328.2V342.7M1957.9 301.2V317.4M1961.7 326.4V343.2M1965.5 307.5V323.5M1969.3 287.1V302.6M1973.1 251.8V268.1M1977 228V244.6M1980.8 238.5V255.1M1984.6 251.1V267.5M1988.4 206.5V222.7M1992.3 248.8V265.2M1996.1 253.4V269.7M1999.9 277.7V293M2003.7 276.4V293.7M2007.5 291.6V307.5M2011.4 318.9V335.7M2015.2 283.6V300.2M2019 259.2V275.7M2022.8 304.4V320.7M2026.6 311.5V328.7M2030.5 311.3V328.3M2034.3 329.3V345M2038.1 308.1V325.5M2041.9 328.5V345.3M2045.7 347.6V363.7M2049.6 379.9V396.1M2053.4 369.2V385.4M2057.2 362.7V378.9M2061 425.6V441.4M2064.8 418.3V434.6M2068.7 439.3V454.7M2072.5 428.6V444.5M2076.3 417.5V433.3M2080.1 421.1V437.1M2084 399V415.1M2087.8 402V416.8M2091.6 406.7V422.2M2095.4 403.9V420.1M2099.2 441.6V457M2103.1 460.9V475.8M2106.9 444.4V459.1M2110.7 497.5V513.6M2114.5 456.6V471.4M2118.3 474.5V490.2M2122.2 465.9V481.8M2126 452.3V467.5M2129.8 456.5V472.4M2133.6 470V485.9M2137.4 466.4V482.5M2141.3 477.1V493.1M2145.1 466.8V482.8M2148.9 460.3V475.2M2152.7 461.7V477.5M2156.5 428.9V443.5M2160.4 446.5V463.3M2164.2 476.4V492M2168 507.9V523.6M2171.8 437.2V452.7M2175.7 471.4V485.7M2179.5 516.7V533M2183.3 520.5V535.9M2187.1 467.6V482.8M2190.9 499.8V514.1M2194.8 502.8V518.2M2198.6 511.7V526.5M2202.4 464.3V479.1M2206.2 479.1V494.3M2210 501.6V517.4M2213.9 512.9V527.4M2217.7 506.5V521.5M2221.5 543.1V558M2225.3 518.5V532.8M2229.1 570.5V584.3M2233 550.6V566M2236.8 552.2V567.9M2240.6 579.6V594.3M2244.4 588.1V602.1M2248.2 572.7V588.9M2252.1 562.9V578.8M2255.9 553.1V566.6M2259.7 556V571.2M2263.5 537.6V553M2267.4 552.2V567M2271.2 534.7V549.8M2275 550.8V565.7M2278.8 538.4V552.8M2282.6 543.8V558.6M2286.5 546.7V560.9M2290.3 543.7V559M2294.1 537.2V552.1M2297.9 553.8V568.9M2301.7 542.8V558M2305.6 576.6V592.3M2309.4 559.8V574.2M2313.2 580.7V595.9M2317 575.4V591.2M2320.8 566.4V580.7M2324.7 594.1V608.4M2328.5 566.2V582.3M2332.3 589.4V603.8M2336.1 569.5V585M2339.9 562.2V576.6M2343.8 600.3V615.7M2347.6 551.5V566.7M2351.4 604.6V619.1M2355.2 575.2V590.1M2359.1 585.7V600.6M2362.9 565.8V580.9M2366.7 552.2V567.6M2370.5 563.8V579.2M2374.3 595V609.9M2378.2 596.9V612M2382 580.8V595.6M2385.8 585V599.3M2389.6 587.9V603M2393.4 572.4V586.8M2397.3 581.5V596.6M2401.1 597.2V612.6M2404.9 614.6V628.8M2408.7 608.1V622.8M2412.5 597.3V611.7M2416.4 602.7V617.6M2420.2 610.5V624.4M2424 612.8V626.9M2427.8 604.5V620.5M2431.6 612.1V627.7M2435.5 628.3V642.2M2439.3 619.1V634.2M2443.1 635.7V651.1M2446.9 633.5V647M2450.8 623.5V637.9M2454.6 625.7V640M2458.4 595.3V609M2462.2 622.3V636.5M2466 608.1V622.8M2469.9 619.8V634.7M2473.7 620.1V635.2M2477.5 604.2V619.3M2481.3 592.8V607.8M2485.1 604.1V618.5M2489 627.6V643M2492.8 612V626.1M2496.6 601.9V616.7M2500.4 598.1V613M2504.2 605.7V621.4M2508.1 612.4V627.4M2511.9 609.6V625.3M2515.7 621.6V636.9M2519.5 592.1V606.2M2523.3 624.9V639.5M2527.2 614.6V629.1M2531 634.9V648.8" fill="none" stroke="#1f77b4" stroke-opacity="0.4" stroke-width="3.6"/>
<path d="M1354.7 626V641.3M1358.5 628.9V643.7M1362.4 634.9V649M1366.2 638.8V653.2M1370 648.9V663.7M1373.8 620.8V634.3M1377.6 621.4V635.9M1381.5 630.6V645.6M1385.3 627.7V642.1M1389.1 636.3V651.2M1392.9 616.5V631.3M1396.7 640.6V654.8M1400.6 607.5V622M1404.4 630.7V644.8M1408.2 623.9V638.9M1412 628.3V643.6M1415.9 603.2V617.6M1419.7 626.1V640.4M1423.5 621V635.5M1427.3 603.2V617.6M1431.1 601V615.3M1435 624.5V638.2M1438.8 633.1V646.9M1442.6 620.2V634.6M1446.4 624.5V639.5M1450.2 622.5V637.1M1454.1 612.4V626.2M1457.9 617.7V631.7M1461.7 636.8V650.9M1465.5 630.9V645.1M1469.3 632.9V646.7M1473.2 632.3V647.3M1477 618.5V633.9M1480.8 625.6V639.7M1484.6 612.8V628.6M1488.4 620.5V634.3M1492.3 611.3V626.1M1496.1 614.6V628.7M1499.9 622.7V637.4M1503.7 607.8V622M1507.6 621.1V636.1M1511.4 602.8V616.7M1515.2 638.5V652.8M1519 608.2V621.9M1522.8 605.4V620.3M1526.7 617.1V631.9M1530.5 612.3V626.4M1534.3 596.5V609.9M1538.1 590.7V604.6M1541.9 596.5V612.2M1545.8 605.7V619.8M1549.6 561.5V576.3M1553.4 590.8V607.2M1557.2 569V583.7M1561 577.9V592.7M1564.9 554.8V569.9M1568.7 532.1V547.5M1572.5 514.8V529.7M1576.3 548V563M1580.1 548.3V563.3M1584 525.1V538.1M1587.8 539.8V553.8M1591.6 528.1V543.8M1595.4 521.4V537.1M1599.3 519.1V533.6M1603.1 539.9V554.7M1606.9 534.5V549.8M1610.7 519.9V534.7M1614.5 501.5V515.8M1618.4 507.9V523M1622.2 519.7V534.6M1626 469.6V484.7M1629.8 502.7V517M1633.6 481.8V496.5M1637.5 469.8V486M1641.3 464.2V479.3M1645.1 445.1V462.1M1648.9 485V500.2M1652.7 451.7V467.2M1656.6 472.2V486.9M1660.4 447.6V462.3M1664.2 486.4V501.7M1668 481.2V497.4M1671.8 499.6V515.1M1675.7 490.5V506.3M1679.5 468.6V483.6M1683.3 480.3V495.1M1687.1 506V521.7M1691 525.1V540M1694.8 521.9V537.5M1698.6 513.1V528.6M1702.4 533.3V548.7M1706.2 518V533.4M1710.1 518.8V533.9M1713.9 544.7V559.9M1717.7 522V536.8M1721.5 519.4V534.5M1725.3 526.3V541.2M1729.2 484.7V499.6M1733 514V528.9M1736.8 519.3V534.2M1740.6 485.9V500.4M1744.4 497.6V513.3M1748.3 519.8V535.2M1752.1 528.3V541.8M1755.9 525.3V539.4M1759.7 533.6V548.7M1763.5 532.1V547.7M1767.4 529.3V544M1771.2 531V545.7M1775 515.7V531.8M1778.8 533.1V548.4M1782.7 519.5V535.4M1786.5 537.4V552.6M1790.3 529.6V544.1M1794.1 538.4V553.3M1797.9 536.1V551.7M1801.8 516.2V531.1M1805.6 517V532.5M1809.4 510.9V526.4M1813.2 519.5V534.3M1817 537.6V552.4M1820.9 517.5V533.3M1824.7 537.2V552.7M1828.5 494.7V509.8M1832.3 482.8V498.7M1836.1 484.8V499.1M1840 508.5V523.8M1843.8 468.5V484.2M1847.6 461V474.8M1851.4 478.9V494.8M1855.2 463.3V478.5M1859.1 442.8V457.9M1862.9 471.9V487.6M1866.7 433.2V448.5M1870.5 424V439.1M1874.4 423.4V439.3M1878.2 460.4V476.3M1882 441.7V457.5M1885.8 437.4V454.1M1889.6 425.9V442M1893.5 391.9V408.6M1897.3 426V441.6M1901.1 430.4V446.1M1904.9 441.3V457.3M1908.7 413.3V428.9M1912.6 395.8V412.3M1916.4 358.9V375M1920.2 368.8V384.1M1924 403.1V418M1927.8 368.2V384.2M1931.7 365.3V381.4M1935.5 359V375.1M1939.3 372.2V388.9M1943.1 355.2V370.1M1946.9 335.6V352.2M1950.8 310.9V327.9M1954.6 312.8V328.5M1958.4 340.4V356M1962.2 332.4V348.8M1966.1 277.2V293.5M1969.9 317.2V333.5M1973.7 234.5V251.5M1977.5 270.3V286.5M1981.3 273.3V289.8M1985.2 244.3V261.6M1989 231.2V248.6M1992.8 241.2V258.1M1996.6 277V293.1M2000.4 278.9V294.5M2004.3 313.5V330.1M2008.1 268.4V283.8M2011.9 293.1V309.5M2015.7 302.8V319.1M2019.5 292.8V308M2023.4 250.2V265.5M2027.2 320.7V336M2031 298V314.9M2034.8 304.5V320.9M2038.6 332.3V349M2042.5 335.4V351.5M2046.3 376.1V391.8M2050.1 365.1V380.6M2053.9 365.7V382M2057.8 418V434.6M2061.6 383.8V399.8M2065.4 462.3V478.4M2069.2 426.1V441.4M2073 413.7V429M2076.9 438.2V453M2080.7 430.1V445.4M2084.5 453.3V469M2088.3 388.8V404.8M2092.1 437.8V453.8M2096 404.1V420.2M2099.8 455.4V471.6M2103.6 458.1V473.8M2107.4 445.4V460.5M2111.2 454.5V468.9M2115.1 496.2V511.5M2118.9 459.4V474.5M2122.7 453.8V469.4M2126.5 435.7V451.5M2130.3 439V455M2134.2 448.9V464.2M2138 480.3V496M2141.8 476.7V491.7M2145.6 443.6V459.4M2149.5 491.3V506.9M2153.3 439.3V454.5M2157.1 471.4V487M2160.9 458V472.9M2164.7 472V487.6M2168.6 479.2V493.7M2172.4 498.8V514.8M2176.2 486.4V500.7M2180 481.8V496.6M2183.8 475.2V490.4M2187.7 507.7V522.8M2191.5 509.2V524.4M2195.3 499.1V515M2199.1 515.1V530M2202.9 496.2V512.6M2206.8 509.7V524.5M2210.6 507.1V522.8M2214.4 512.4V527.5M2218.2 526.3V540.3M2222 527.1V542M2225.9 529.7V544.1M2229.7 549.1V562.6M2233.5 573.9V588.7M2237.3 579.2V594.4M2241.2 574V588.3M2245 553.2V568.6M2248.8 544V557.9M2252.6 571.2V586.3M2256.4 588.6V603.6M2260.3 533V547.5M2264.1 546.7V562.8M2267.9 567.8V581.7M2271.7 551.3V565.6M2275.5 530.4V545.7M2279.4 540.2V555M2283.2 536.2V551.1M2287 549.7V564.7M2290.8 568V583.7M2294.6 575V590.2M2298.5 532.8V547.4M2302.3 554.9V570.4M2306.1 556.7V570.8M2309.9 570.4V585.3M2313.7 559.6V575.1M2317.6 578.8V594.1M2321.4 566.2V580.8M2325.2 584.5V598.8M2329 579.4V594.5M2332.9 578.7V592.8M2336.7 607V622.1M2340.5 577.1V591.9M2344.3 559.1V573.4M2348.1 555.4V570.4M2352 579.2V594M2355.8 592.2V607.5M2359.6 555.7V571.4M2363.4 583.5V598.2M2367.2 574.9V589.7M2371.1 596.3V611.5M2374.9 572.9V588.4M2378.7 559.9V575.1M2382.5 576.2V590.1M2386.3 590.3V605.1M2390.2 577.8V592.7M2394 570.1V584.6M2397.8 575.8V591.4M2401.6 603.7V618.8M2405.4 592.9V606.7M2409.3 612.5V627.3M2413.1 597.7V612.2M2416.9 609.2V623.6M2420.7 612.3V626.2M2424.6 625V638.5M2428.4 616.4V631.2M2432.2 622.4V637.2M2436 599.1V614.3M2439.8 642.7V657.3M2443.7 620.6V635.7M2447.5 620.9V635.3M2451.3 618.7V633.3M2455.1 608.6V623.8M2458.9 609.8V624.7M2462.8 616.6V631.4M2466.6 624.6V639.8M2470.4 628.1V642.5M2474.2 599.2V613.4M2478 642V656.1M2481.9 610.8V625.4M2485.7 626.8V642.9M2489.5 600.9V614.7M2493.3 620.9V636.8M2497.1 616.4V631.6M2501 634.4V649.2M2504.8 602.4V616.9M2508.6 633V647.6M2512.4 626.1V640.5M2516.3 599.8V614M2520.1 629.9V644.2M2523.9 625.2V639.7M2527.7 625.1V639.9M2531.5 624.5V638.4" fill="none" stroke="#1f77b4" stroke-opacity="0.4" stroke-width="3.6"/>
<path d="M1355.3 625.4V639.8M1359.1 625.8V641M1362.9 629.5V643.4M1366.7 617.7V632.1M1370.5 624.3V638.9M1374.4 640.5V655.7M1378.2 629.5V644.7M1382 620.3V634.7M1385.8 627V641.4M1389.7 621.6V637.3M1393.5 622.9V638.2M1397.3 632.7V646.5M1401.1 614.7V629.4M1404.9 637.1V651.5M1408.8 645.4V660.3M1412.6 635.6V650.3M1416.4 621.1V636.1M1420.2 609.5V624.8M1424 618.5V633M1427.9 612.5V627.6M1431.7 644.7V659.2M1435.5 600.2V615.3M1439.3 594.6V609.3M1443.1 649.2V664.1M1447 620.9V634.8M1450.8 621.6V636.8M1454.6 618.8V632.9M1458.4 624.5V640.5M1462.2 624.1V638.8M1466.1 606.8V621.1M1469.9 641.5V657.2M1473.7 608.2V622.5M1477.5 616.4V631M1481.4 623.6V637.7M1485.2 598.6V612.5M1489 616.1V630.5M1492.8 631.8V646.7M1496.6 608.7V622.8M1500.5 594.5V609.1M1504.3 599.2V614.1M1508.1 609.6V624.7M1511.9 605.1V619.7M1515.7 614.9V629.7M1519.6 615.9V631M1523.4 602.7V617M1527.2 624.5V638.7M1531 609.6V625M1534.8 604.2V619.1M1538.7 587.9V602.8M1542.5 595.4V611.4M1546.3 572.8V587.6M1550.1 581.2V596.2M1553.9 571.2V586M1557.8 577.6V592.2M1561.6 563.8V578.2M1565.4 567.5V582.8M1569.2 537.7V552.5M1573.1 558.5V572.7M1576.9 529.5V544.9M1580.7 541.7V557.1M1584.5 530.7V545.9M1588.3 533.9V548M1592.2 532.8V548.9M1596 523.9V538.9M1599.8 528.7V544.7M1603.6 514.7V529.5M1607.4 525.2V540.6M1611.3 523.5V538.2M1615.1 520.3V536.2M1618.9 535.4V550.1M1622.7 500.8V515.7M1626.5 481.8V497.6M1630.4 490.6V506M1634.2 483.7V499.3M1638 488.2V503.4M1641.8 475.4V490.9M1645.6 481.5V496.1M1649.5 453.8V470.3M1653.3 504.1V518.8M1657.1 463.1V478.3M1660.9 476.2V491.4M1664.8 474.7V489.6M1668.6 473.3V488.9M1672.4 490.2V505.6M1676.2 452.3V467M1680 492V507.7M1683.9 471.8V487.2M1687.7 530.1V545.3M1691.5 495V509.8M1695.3 516V531.6M1699.1 504.9V521M1703 505.8V521M1706.8 517.5V531.5M1710.6 525V539.4M1714.4 518.2V533.2M1718.2 525.3V541.1M1722.1 525.1V541M1725.9 504.1V519.5M1729.7 471.2V485.3M1733.5 502.8V518.1M1737.3 513.1V528.5M1741.2 518V532.5M1745 514.5V530M1748.8 512.5V526.8M1752.6 478.9V494M1756.5 493.1V507.6M1760.3 514.2V529.8M1764.1 517.7V533.2M1767.9 517.8V532.7M1771.7 500.4V514.7M1775.6 491.1V506.3M1779.4 566.7V581.2M1783.2 512.3V527.3M1787 502.2V516.8M1790.8 524.2V538.4M1794.7 557.6V572.5M1798.5 506.4V521.5M1802.3 518.5V533.3M1806.1 537.8V551.9M1809.9 518.3V533M1813.8 532.4V546.9M1817.6 514.3V528.5M1821.4 530.8V545.8M1825.2 532.3V547.9M1829 526.8V542.3M1832.9 488.6V502.7M1836.7 526.2V540.4M1840.5 485.2V500.6M1844.3 486.2V501.4M1848.2 481.3V496.1M1852 434.7V449.9M1855.8 486.9V502.3M1859.6 452.5V467.3M1863.4 480.2V495.3M1867.3 428.8V443.9M1871.1 419.4V435.3M1874.9 450.3V464.9M1878.7 454.4V468.8M1882.5 459.4V474.6M1886.4 441.3V456.6M1890.2 418.4V434M1894 410.1V426.2M1897.8 410.8V426.9M1901.6 430.2V445.4M1905.5 396V411.6M1909.3 435.4V451.4M1913.1 378.2V393.5M1916.9 378V393.8M1920.7 380V396.6M1924.6 375.9V390.7M1928.4 337.1V353.1M1932.2 359V375.1M1936 322.8V338.8M1939.9 324.2V340.6M1943.7 377.3V393M1947.5 328.2V344.7M1951.3 307V323M1955.1 312.5V329.8M1959 315.3V332.4M1962.8 303.2V318.6M1966.6 303.3V318.2M1970.4 252V268.3M1974.2 250.2V266.5M1978.1 258.4V274.9M1981.9 274.6V291.5M1985.7 198.7V214.4M1989.5 255.6V270.9M1993.3 286.5V303M1997.2 245V261.6M2001 314.9V331.3M2004.8 287.1V303.7M2008.6 312.3V328.5M2012.4 307.5V323.1M2016.3 297V314.1M2020.1 256.9V271.8M2023.9 283.9V299.8M2027.7 325.6V341.8M2031.6 264.7V281.1M2035.4 336.9V352.2M2039.2 330.7V345.9M2043 349.9V366M2046.8 326.8V342.3M2050.7 353.2V368.9M2054.5 411.6V427.5M2058.3 399.2V415.9M2062.1 432V448.3M2065.9 432.6V448.3M2069.8 453.3V469.1M2073.6 420.7V436.6M2077.4 412.8V428.2M2081.2 422.5V438.1M2085 414.5V430.4M2088.9 408.6V423.6M2092.7 416V432.1M2096.5 411V425.7M2100.3 445.9V460.8M2104.1 425.7V441.1M2108 437.7V452.7M2111.8 451.6V466.7M2115.6 475V490M2119.4 467.4V483M2123.3 448.4V464.1M2127.1 444V459.1M2130.9 470.2V485M2134.7 465.8V481M2138.5 477.6V492.7M2142.4 462.4V477.4M2146.2 482.2V497.8M2150 483.2V498.3M2153.8 451.3V465.9M2157.6 434.9V451M2161.5 421V436.3M2165.3 461.3V476.3M2169.1 490.7V505.9M2172.9 485.8V501.7M2176.7 475.3V490.8M2180.6 485V500.2M2184.4 494.7V510.4M2188.2 471.5V486.5M2192 485.6V500.4M2195.8 480.6V495.5M2199.7 465V480.8M2203.5 495.6V510.7M2207.3 466.2V482M2211.1 508.1V523.8M2215 509.7V524.8M2218.8 497.4V513.6M2222.6 541.4V555.3M2226.4 535.6V550.4M2230.2 531.3V546.3M2234.1 579.1V594.6M2237.9 584.6V598.9M2241.7 581.4V596.7M2245.5 570.5V584.7M2249.3 555.5V571.5M2253.2 572.3V587.4M2257 572.3V586.9M2260.8 581.4V595.6M2264.6 546.9V561.5M2268.4 526.7V541.9M2272.3 560.5V575.5M2276.1 529.5V544.6M2279.9 573.3V588.3M2283.7 554.3V570.1M2287.5 546.8V562.6M2291.4 536V550.5M2295.2 532.1V547.7M2299 568.5V582.9M2302.8 567.1V581.4M2306.7 567.3V582.8M2310.5 565.8V580.7M2314.3 567.9V582.3M2318.1 559.3V573.4M2321.9 589V603.9M2325.8 596.2V610M2329.6 564.7V579.6M2333.4 592V606.5M2337.2 561V576M2341 593.9V608.3M2344.9 548.5V563.2M2348.7 560.2V575.2M2352.5 587.3V601.6M2356.3 577.8V593.2M2360.1 582.3V597.5M2364 565.6V581.7M2367.8 545.6V560.5M2371.6 587.5V602.8M2375.4 577.3V590.9M2379.2 559.3V574.7M2383.1 582.4V596.9M2386.9 561.8V576.4M2390.7 583.8V597.6M2394.5 573.5V587.5M2398.4 578.7V593.9M2402.2 588.9V604.2M2406 587.2V602M2409.8 581.6V596.1M2413.6 582.8V597.8M2417.5 586.6V601.2M2421.3 616.8V632.6M2425.1 603.2V617.4M2428.9 619.1V634M2432.7 624.1V638.7M2436.6 603.5V618M2440.4 648V662.7M2444.2 628.5V642.8M2448 634.7V648.4M2451.8 635.8V650.1M2455.7 636.8V652.3M2459.5 605.4V620.8M2463.3 604.3V618.5M2467.1 625.4V640.2M2470.9 598.6V613.6M2474.8 626.9V642.1M2478.6 600.3V614.2M2482.4 623.1V638M2486.2 619.8V634.2M2490.1 613.1V627.6M2493.9 630.3V645.8M2497.7 615.4V630.5M2501.5 615.2V630.3M2505.3 623.5V638.4M2509.2 631.2V645.7M2513 622.2V636.3M2516.8 612.8V626.8M2520.6 608.2V623.8M2524.4 597.8V611.8M2528.3 592.6V606.2M2532.1 599.3V614.5" fill="none" stroke="#1f77b4" stroke-opacity="0.4" stroke-width="3.6"/>
<path d="M1355.8 633.3V648M1359.6 627.5V641.6M1363.5 636.7V650.9M1367.3 618.4V633.7M1371.1 622.6V638.6M1374.9 635.8V650.7M1378.7 644.4V658.8M1382.6 626.9V641.5M1386.4 631.3V645.9M1390.2 624.7V638.9M1394 632V646M1397.8 620.3V634.3M1401.7 624.4V639M1405.5 611.2V626.9M1409.3 627V642.5M1413.1 622.4V636.1M1416.9 622.8V637.4M1420.8 631.6V647.2M1424.6 620.9V635.6M1428.4 618.7V633.4M1432.2 633.2V647.6M1436 605.1V618.9M1439.9 619.3V633.7M1443.7 619.1V633.9M1447.5 615.5V629.8M1451.3 637.1V651.5M1455.2 611V625.9M1459 647.5V662.5M1462.8 604.4V618.9M1466.6 621.9V636.3M1470.4 629.1V643.5M1474.3 624.6V638M1478.1 608.4V623M1481.9 612.4V626.7M1485.7 609.4V624.4M1489.5 611.3V625.8M1493.4 618.4V633.4M1497.2 604.8V620.1M1501 612.9V627.2M1504.8 614.7V629.7M1508.6 640.4V655M1512.5 624.6V638.7M1516.3 611.3V625.6M1520.1 618.3V632.8M1523.9 623.8V639.8M1527.7 605.5V619.8M1531.6 611.9V626.7M1535.4 601.3V616.3M1539.2 601.6V616.8M1543 571.1V586M1546.9 614.1V628.8M1550.7 578.2V593.1M1554.5 597.1V612.2M1558.3 549.4V564.6M1562.1 581.7V597.5M1566 569.4V584M1569.8 548.1V562.6M1573.6 569.5V585.1M1577.4 547.6V562.4M1581.2 533.2V547.8M1585.1 545V560.5M1588.9 526.9V541.6M1592.7 547.8V562.5M1596.5 530.2V545.1M1600.3 549.7V564.1M1604.2 546.7V562M1608 506.6V522.2M1611.8 521V536.7M1615.6 534.2V549.7M1619.4 493.1V509.3M1623.3 476.1V492.2M1627.1 447V463.2M1630.9 488.7V504.6M1634.7 491.7V506.6M1638.6 463.4V478.6M1642.4 456.5V471.9M1646.2 456.1V471.2M1650 487.2V503.4M1653.8 495.4V511.3M1657.7 479.6V494.2M1661.5 479.4V494.5M1665.3 509.9V525.2M1669.1 479.8V494.7M1672.9 468.9V483.8M1676.8 475.8V491.3M1680.6 470.2V484.9M1684.4 499.1V514.1M1688.2 525.4V540.9M1692 500.3V515.9M1695.9 513V528.2M1699.7 499.6V514.7M1703.5 490.1V506.2M1707.3 528.4V543M1711.1 503.1V517.6M1715 522.4V537.3M1718.8 523V538M1722.6 535.4V551.3M1726.4 473.4V488.9M1730.3 497.1V512.8M1734.1 465.2V481M1737.9 474.5V489M1741.7 496.3V511.3M1745.5 503.6V518.4M1749.4 507.4V522.5M1753.2 523.8V539.5M1757 523.5V538.4M1760.8 529.8V544.6M1764.6 514.1V528.9M1768.5 528.2V542.9M1772.3 535.7V550.7M1776.1 551.9V566.8M1779.9 520.6V535.1M1783.7 514.2V529.1M1787.6 545V560.3M1791.4 527.7V543.4M1795.2 526.8V541.1M1799 520.7V536.1M1802.8 528.5V544M1806.7 504.7V519.3M1810.5 535.2V550.6M1814.3 543.8V559M1818.1 531.6V546.6M1822 525.8V541.1M1825.8 510.2V525.8M1829.6 528.4V543.7M1833.4 485.8V501.2M1837.2 474.5V490.2M1841.1 481V497.4M1844.9 469.2V484.3M1848.7 478.6V493.7M1852.5 499.8V515.3M1856.3 447.3V462.5M1860.2 470.9V486.1M1864 451.8V467.3M1867.8 449.9V466.3M1871.6 445.5V460.7M1875.4 454.7V470.2M1879.3 456.3V470.8M1883.1 479.9V495.3M1886.9 410.6V425.6M1890.7 394.8V410.4M1894.5 421.8V437.3M1898.4 447.3V463.2M1902.2 423.6V439.4M1906 402.8V419M1909.8 390.5V406.2M1913.7 396V410.7M1917.5 368.8V384.3M1921.3 351.4V367.2M1925.1 345V360.5M1928.9 355.2V371.4M1932.8 391.9V407.2M1936.6 344.8V360.5M1940.4 344.2V359.6M1944.2 324.2V339.2M1948 321.1V336.9M1951.9 336.5V353.1M1955.7 292.9V308.7M1959.5 325.3V341.2M1963.3 286.9V303.1M1967.1 279.8V295.8M1971 253.9V270.5M1974.8 257.1V273.6M1978.6 237.3V254.4M1982.4 269V285.6M1986.2 232.4V249M1990.1 210.4V227.2M1993.9 248.4V264.9M1997.7 277.9V294.8M2001.5 276.5V293.6M2005.4 259.8V276.4M2009.2 304.3V321.3M2013 249.4V266M2016.8 285.4V301.7M2020.6 264V280.3M2024.5 284.5V301.3M2028.3 300.8V317.3M2032.1 310.5V326.4M2035.9 341.1V357M2039.7 306.5V322.8M2043.6 349.2V364.8M2047.4 339.5V355M2051.2 343.2V359.2M2055 396.4V411.4M2058.8 398.9V415.5M2062.7 428.1V443.2M2066.5 440.3V455.9M2070.3 434V449.3M2074.1 430.2V445.1M2077.9 424.2V440.9M2081.8 399.1V414.9M2085.6 428.5V445.5M2089.4 443.8V458.9M2093.2 434.7V450.2M2097.1 456.7V472.4M2100.9 433.8V450.1M2104.7 441.5V458M2108.5 454.3V468M2112.3 437V451.6M2116.2 461.6V477.2M2120 447.3V462.4M2123.8 494.9V510.1M2127.6 480.7V496.2M2131.4 464.6V479.6M2135.3 432.7V448.9M2139.1 453.9V470.2M2142.9 454.9V468.8M2146.7 461.7V476.9M2150.5 462.7V477.5M2154.4 478V492.1M2158.2 430.2V445.8M2162 418.8V434.9M2165.8 463.2V478.7M2169.6 468.2V483.6M2173.5 464.2V479.6M2177.3 500.8V516.5M2181.1 468.8V483.9M2184.9 505.2V522M2188.8 494.1V509.1M2192.6 503.5V518.6M2196.4 499.7V513.9M2200.2 495.9V510.7M2204 495.9V511.3M2207.9 479.7V494.2M2211.7 482.1V497.6M2215.5 525.3V541M2219.3 534.6V549.1M2223.1 519.1V534.7M2227 553.2V568.4M2230.8 579.5V594.4M2234.6 566.4V581.6M2238.4 561.6V577.2M2242.2 561.1V576.5M2246.1 581.1V596.4M2249.9 555.7V570.5M2253.7 555.8V570.4M2257.5 548.4V562.8M2261.3 563.1V578.8M2265.2 575.9V591.4M2269 550.8V566M2272.8 553.1V568.6M2276.6 539.2V553.5M2280.5 556.6V571.8M2284.3 530V544.8M2288.1 512V529.1M2291.9 537.9V552.8M2295.7 558.9V573.7M2299.6 568.6V584.4M2303.4 589.5V605.1M2307.2 564.7V579.1M2311 585.5V599.8M2314.8 563V577.8M2318.7 575.9V590.4M2322.5 573.8V588.2M2326.3 588.5V603.1M2330.1 577V591.7M2333.9 566.1V581.7M2337.8 573.2V587.6M2341.6 576.4V592.4M2345.4 562.6V577.3M2349.2 590V604.9M2353 574.2V588.9M2356.9 589.4V604.6M2360.7 578.5V593.3M2364.5 562.5V576.8M2368.3 588.2V602.7M2372.2 579.3V595.1M2376 591.7V606.3M2379.8 556.6V571.5M2383.6 579V594.1M2387.4 571.1V586.7M2391.3 569.8V584.5M2395.1 602.4V616.9M2398.9 591.5V606.3M2402.7 599.9V614.8M2406.5 598.2V612.5M2410.4 602V616.8M2414.2 629.3V643.8M2418 589.6V604.2M2421.8 603V618M2425.6 603V618.2M2429.5 608V622.6M2433.3 627.3V641.7M2437.1 637.7V652.2M2440.9 599.5V614.7M2444.7 641.4V656.6M2448.6 649.3V664.5M2452.4 622.7V637.4M2456.2 631.8V646.7M2460 612.5V626.4M2463.9 607.6V622.7M2467.7 606V620M2471.5 615.6V630.2M2475.3 611.8V625.9M2479.1 614.7V628.7M2483 598.4V612.9M2486.8 593.8V608.2M2490.6 613V626.2M2494.4 610.7V625.9M2498.2 604V618.6M2502.1 618.5V634.6M2505.9 617.3V631.3M2509.7 605.2V620.4M2513.5 617.5V632.3M2517.3 635.9V650.2M2521.2 619.3V634.1M2525 626.7V641.5M2528.8 600.5V615.6M2532.6 629.5V645" fill="none" stroke="#1f77b4" stroke-opacity="0.4" stroke-width="3.6"/>
<path d="M1356.4 627.7V641.9M1360.2 637.9V652.3M1364 621.4V637M1367.8 626.5V641.2M1371.6 615.9V630M1375.5 610.7V625.6M1379.3 611.3V626.6M1383.1 633V647.5M1386.9 627V641.9M1390.7 619.8V635.5M1394.6 644.8V659.5M1398.4 624.8V639.2M1402.2 611.9V626.4M1406 592.9V607.6M1409.8 592.9V607.1M1413.7 623.4V637.9M1417.5 620.2V634.2M1421.3 608.6V623.2M1425.1 596.5V611M1429 603.9V618.1M1432.8 613.4V628.8M1436.6 603.6V618.5M1440.4 643.2V657.8M1444.2 621.6V636M1448.1 625.1V639.7M1451.9 627.6V642.7M1455.7 636.2V650.1M1459.5 625.1V639.8M1463.3 601.6V616.4M1467.2 617.9V633.5M1471 619.3V633.6M1474.8 630.2V645.1M1478.6 592.9V607.7M1482.4 620.3V635.6M1486.3 617.8V633.1M1490.1 611.5V626.7M1493.9 617V631.2M1497.7 620.8V634.5M1501.5 635.6V649.6M1505.4 626.7V641.3M1509.2 611.6V626.2M1513 600.5V615.7M1516.8 625.6V639.4M1520.7 592.6V606.9M1524.5 594.2V608.6M1528.3 610.4V625.4M1532.1 625.4V639.9M1535.9 597.7V611.9M1539.8 588.4V603.3M1543.6 578.9V593.5M1547.4 581.6V595.4M1551.2 570.6V585.1M1555 603.6V618.8M1558.9 576V591.2M1562.7 575V589.6M1566.5 554V569.3M1570.3 556.6V571.7M1574.1 517V532M1578 536.2V550.7M1581.8 560V575.1M1585.6 535.1V550.4M1589.4 529.6V544.8M1593.2 529.1V544.6M1597.1 542V557.7M1600.9 506.2V521.9M1604.7 517.7V532.6M1608.5 519.6V534.6M1612.4 529.6V545.4M1616.2 491.2V506.5M1620 515.9V531.4M1623.8 506.5V521.5M1627.6 483.5V498.8M1631.5 473.1V488.9M1635.3 466.2V480.9M1639.1 491.7V507.6M1642.9 455.2V470.9M1646.7 468.6V483.8M1650.6 459.2V474.8M1654.4 453.6V470.3M1658.2 472.8V488.7M1662 445.7V462.3M1665.8 518.6V533.1M1669.7 486.6V501.9M1673.5 489.9V504.7M1677.3 499.4V514.6M1681.1 506.4V521.2M1684.9 484.3V499.4M1688.8 490.1V504.9M1692.6 489.2V504.3M1696.4 505.8V520.7M1700.2 543.2V559.5M1704.1 520.5V536.2M1707.9 521.4V537.1M1711.7 526.6V541.5M1715.5 510.8V525M1719.3 564.3V578.9M1723.2 537.6V553M1727 486.2V501.2M1730.8 490.7V505.6M1734.6 489.4V505.5M1738.4 500.4V516.9M1742.3 475V490.8M1746.1 527.6V542.7M1749.9 480.5V495.8M1753.7 515.5V530.8M1757.5 546.6V562.2M1761.4 538.9V553.7M1765.2 521V536.8M1769 524.7V539.3M1772.8 537.9V552.5M1776.6 545.6V561.2M1780.5 534.6V550.3M1784.3 562.9V577.5M1788.1 540V555M1791.9 569.5V583.7M1795.8 532.2V547.7M1799.6 518.9V533.8M1803.4 536.2V551.7M1807.2 534.9V549M1811 506.5V520.5M1814.9 506.8V522.4M1818.7 532.4V546.8M1822.5 513.4V528M1826.3 528.7V543.4M1830.1 512.7V527.5M1834 499.3V514.3M1837.8 466.3V481.2M1841.6 472.5V487.9M1845.4 494V509.1M1849.2 463.9V479.1M1853.1 439.8V455.1M1856.9 467.3V483.2M1860.7 471.9V486.9M1864.5 459.5V475.7M1868.3 434.1V448.7M1872.2 474.2V489.6M1876 450.3V465.5M1879.8 461.7V477.3M1883.6 459.8V476.2M1887.5 446V461.2M1891.3 412.3V427.8M1895.1 400.8V416.8M1898.9 457.1V473.1M1902.7 421V435.9M1906.6 404.7V420.8M1910.4 433.8V448.2M1914.2 419.7V435.6M1918 376.5V392.6M1921.8 403.1V418M1925.7 396.9V412.5M1929.5 380.5V397.1M1933.3 313.2V330.2M1937.1 361.5V377.7M1940.9 369.1V385.9M1944.8 353.5V369.3M1948.6 342.7V359M1952.4 336.1V352.6M1956.2 343.1V359M1960 276V292M1963.9 309.4V325.1M1967.7 316.4V332.7M1971.5 270.4V287.7M1975.3 264.1V280.4M1979.2 237V254.2M1983 232V249.3M1986.8 233.8V251.3M1990.6 240.7V258M1994.4 238.9V255.6M1998.3 269.4V286.7M2002.1 251V267.9M2005.9 281.2V297.5M2009.7 257.4V273.1M2013.5 317.4V333.4M2017.4 291.6V307.2M2021.2 271.5V287.7M2025 306.1V322.1M2028.8 281.8V298.4M2032.6 294.4V309.9M2036.5 315V331.8M2040.3 289.1V305.4M2044.1 360.9V377.7M2047.9 376.9V394.2M2051.7 369.5V385.3M2055.6 363.5V378.7M2059.4 412.1V427.1M2063.2 424.6V439.7M2067 437.6V452.5M2070.9 411.2V426.6M2074.7 443.6V460.2M2078.5 391.3V406.7M2082.3 435.8V451.5M2086.1 420.4V436.3M2090 401.2V416.3M2093.8 450.9V467.4M2097.6 408.3V422.9M2101.4 424.1V440M2105.2 450.6V465.4M2109.1 468.7V483.5M2112.9 491.5V506.4M2116.7 469.7V486.3M2120.5 489.8V505.7M2124.3 437.3V452.7M2128.2 459.8V475.6M2132 469.7V484.4M2135.8 496.8V511.2M2139.6 474.2V489.4M2143.4 485.7V501.3M2147.3 479V494M2151.1 471.5V486.6M2154.9 463.4V478.1M2158.7 461.5V478.7M2162.6 494.3V509.5M2166.4 467V483.5M2170.2 480.4V496.4M2174 486.4V501.5M2177.8 495.7V510.7M2181.7 485.5V501.2M2185.5 502.6V517.7M2189.3 466.1V480.5M2193.1 512.1V527.1M2196.9 509.6V525.3M2200.8 466.6V481.9M2204.6 509.3V524.5M2208.4 472.9V487.8M2212.2 496.8V511.9M2216 523.9V538.8M2219.9 523.6V539.2M2223.7 526.7V541.9M2227.5 560.6V575.4M2231.3 551.6V565.9M2235.1 558.2V573M2239 532.7V546.6M2242.8 575.7V590.3M2246.6 568.7V584.2M2250.4 589.9V604.4M2254.3 598.2V612.4M2258.1 572V586.4M2261.9 537.1V552.4M2265.7 578.2V593.2M2269.5 554.2V568.8M2273.4 544.3V558.8M2277.2 557.6V573M2281 542.6V557.6M2284.8 529.1V544M2288.6 568.6V583.2M2292.5 552.8V567.4M2296.3 542.9V557.5M2300.1 543.2V558.4M2303.9 596.1V610.9M2307.7 551.4V566.5M2311.6 567.2V581.9M2315.4 573.4V588.8M2319.2 596.4V612.5M2323 597.1V613.3M2326.8 583.6V598.4M2330.7 572.4V587.7M2334.5 588.9V603.8M2338.3 567.5V581.3M2342.1 564.6V579.4M2346 580.9V596.3M2349.8 578V592M2353.6 572.4V587.1M2357.4 587.7V602.7M2361.2 578V592.4M2365.1 595.1V609.5M2368.9 564.2V577.6M2372.7 594.9V611.1M2376.5 583.5V598.3M2380.3 579.6V594.3M2384.2 583.3V598.8M2388 578.3V592.5M2391.8 587.3V601.3M2395.6 600.7V616M2399.4 570.4V585.8M2403.3 598.9V613.8M2407.1 596.9V611.4M2410.9 579.5V594.5M2414.7 608V622.9M2418.5 634.4V649.7M2422.4 600.2V614.8M2426.2 626.7V641.8M2430 630.1V645.5M2433.8 612.1V627.3M2437.7 607.8V622.9M2441.5 625.6V640.7M2445.3 634.5V649M2449.1 610.9V625.4M2452.9 628V642.6M2456.8 611.7V625.8M2460.6 613.5V627.7M2464.4 599.3V613.7M2468.2 617.8V632.6M2472 626.3V640.9M2475.9 612.8V627M2479.7 636.3V651.1M2483.5 589.3V603.8M2487.3 629.6V645.5M2491.1 622.7V637.5M2495 639.9V654.7M2498.8 599.8V614.1M2502.6 592.4V606.5M2506.4 615.9V630.9M2510.2 595.7V609.8M2514.1 608.9V624M2517.9 627.6V642.1M2521.7 607.9V623.1M2525.5 609.8V624.2M2529.4 633.3V647.4M2533.2 610.6V626.1" fill="none" stroke="#1f77b4" stroke-opacity="0.4" stroke-width="3.6"/>
<path d="M1356.9 637.4V652M1360.7 646.2V659.2M1364.5 622.2V637M1368.4 615.3V629.7M1372.2 637.9V652.7M1376 614.2V629.6M1379.8 626.2V640.4M1383.6 637.6V652.2M1387.5 630.8V645M1391.3 596.5V611.8M1395.1 638.6V654M1398.9 607.6V623M1402.8 620.3V635.2M1406.6 601.3V615.4M1410.4 596.4V611.4M1414.2 618V633.3M1418 614.2V628.8M1421.9 636.9V650.6M1425.7 623.2V637.9M1429.5 626.9V640.2M1433.3 612.2V626.3M1437.1 605.1V619.7M1441 619.8V633.8M1444.8 598.6V612.9M1448.6 629.6V644.4M1452.4 641.7V655.8M1456.2 634.5V647.7M1460.1 606.4V620.2M1463.9 597.5V611.6M1467.7 623.6V638.1M1471.5 624.8V638.8M1475.3 607.4V622.3M1479.2 605V620.2M1483 618.3V633.1M1486.8 634.5V648.4M1490.6 588.4V603.4M1494.5 626.6V640.6M1498.3 608.8V623.5M1502.1 610.7V625.5M1505.9 593.1V607.3M1509.7 644.3V659.4M1513.6 615.4V630.2M1517.4 605.1V619.6M1521.2 623.1V637.7M1525 588.2V601.9M1528.8 609.4V625.2M1532.7 609.6V624.4M1536.5 605.2V620.5M1540.3 583.1V597.4M1544.1 595.9V610.9M1547.9 598.7V613.4M1551.8 615.1V628.9M1555.6 562V577.2M1559.4 543V557.1M1563.2 542.7V557.8M1567 554.9V569.6M1570.9 557V572.3M1574.7 548.3V562.8M1578.5 544V559M1582.3 529.9V545.1M1586.2 556.3V570.3M1590 551.6V566.5M1593.8 539.5V554.1M1597.6 537.9V552.9M1601.4 499.4V514.1M1605.3 518.3V534.1M1609.1 508.4V523.9M1612.9 502.6V518.7M1616.7 508.9V526.1M1620.5 502.7V518.3M1624.4 504.6V519.2M1628.2 450.3V464.8M1632 460.6V475.8M1635.8 460.9V476.2M1639.6 461.7V476M1643.5 466.6V482.2M1647.3 429.7V445.1M1651.1 478.6V494.6M1654.9 469.4V484.9M1658.7 474.8V490.2M1662.6 503.4V518.6M1666.4 473.8V489.6M1670.2 476.7V492.3M1674 467.5V483.2M1677.9 449.9V465.6M1681.7 503.3V517.9M1685.5 528.3V543.6M1689.3 479.7V494.6M1693.1 530.8V545.5M1697 524.6V539.3M1700.8 516.8V531.3M1704.6 530.7V546.4M1708.4 533V548.6M1712.2 507.5V521.4M1716.1 550.7V565.3M1719.9 531.5V546.8M1723.7 508.3V524.2M1727.5 501.4V517.2M1731.3 502.5V517.3M1735.2 504.5V520M1739 500.2V515.1M1742.8 497.2V512.2M1746.6 536.6V552.1M1750.4 525.8V540.4M1754.3 514.7V530M1758.1 494.8V510.2M1761.9 533.7V549M1765.7 516.7V531.7M1769.6 524.2V540.3M1773.4 520.2V535.1M1777.2 530.3V545.4M1781 531.5V546.5M1784.8 543.4V559.2M1788.7 538.3V553.2M1792.5 558.1V573.2M1796.3 555.6V570M1800.1 498.6V513.5M1803.9 539.5V555.1M1807.8 530.4V546.1M1811.6 527.1V541.8M1815.4 521.7V537.3M1819.2 525V540.4M1823 521.5V536.4M1826.9 492.8V508.6M1830.7 498.9V513.2M1834.5 488.6V504.3M1838.3 503.2V519M1842.1 493.3V509.6M1846 479.2V495.4M1849.8 489.3V503.9M1853.6 462.4V477.4M1857.4 473.8V488.8M1861.3 473.2V489.2M1865.1 439.5V455.2M1868.9 455.8V471.6M1872.7 437.5V453.7M1876.5 455.9V472.4M1880.4 442.1V457M1884.2 457.9V472.9M1888 425.6V440.9M1891.8 433.6V449.3M1895.6 410.4V425.9M1899.5 420.3V435.8M1903.3 412.9V428.9M1907.1 415.6V431.2M1910.9 413.5V428.6M1914.7 400.5V417M1918.6 374.8V389.9M1922.4 377.4V393.6M1926.2 370.2V386.4M1930 365.6V382M1933.8 380.6V397M1937.7 321.7V337.2M1941.5 329.1V345.4M1945.3 323.2V339.8M1949.1 331.1V347.8M1953 311.7V327.6M1956.8 294.6V310.5M1960.6 330.2V347.4M1964.4 295.3V311.1M1968.2 291.2V307.6M1972.1 260.7V277.3M1975.9 255.6V271.9M1979.7 238.8V254.9M1983.5 210.3V227M1987.3 247.9V264.9M1991.2 204V219.9M1995 256.3V273.2M1998.8 280.5V296.6M2002.6 317.7V333.4M2006.4 274.8V291.4M2010.3 259.4V275.7M2014.1 316.1V332.4M2017.9 331V346.8M2021.7 293.8V308.8M2025.5 311.1V326.7M2029.4 267.3V284.3M2033.2 307.9V323.5M2037 304.1V319.9M2040.8 359.6V375.6M2044.7 333.6V349.8M2048.5 349.1V365.2M2052.3 355.3V371.1M2056.1 417.2V434.1M2059.9 391.7V407.6M2063.8 418.6V434.1M2067.6 426.4V442.5M2071.4 440V455.8M2075.2 421.3V437.8M2079 434.5V449.1M2082.9 407.6V422.7M2086.7 430.6V446M2090.5 445.9V461.6M2094.3 428.2V444.6M2098.1 436.5V452.3M2102 442V457.2M2105.8 482.2V498.4M2109.6 486.7V502.1M2113.4 484.6V500.3M2117.2 457.9V473.4M2121.1 468.1V484M2124.9 446.5V462.2M2128.7 452V466.9M2132.5 453.7V468.9M2136.4 459V474.6M2140.2 447.6V463.8M2144 492.8V509M2147.8 455.8V471.4M2151.6 467.8V483.1M2155.5 470.4V485.7M2159.3 454.6V469M2163.1 461.6V476.7M2166.9 468.2V483.7M2170.7 465.8V481.6M2174.6 478.2V493.8M2178.4 501.1V516.7M2182.2 508.1V523.1M2186 485.8V499.9M2189.8 517V533.3M2193.7 503.8V519.1M2197.5 484V499.4M2201.3 508.9V524.7M2205.1 475.2V490.1M2208.9 519.4V534.5M2212.8 507.3V522.2M2216.6 547.6V561.8M2220.4 508.8V522.9M2224.2 544.1V558.9M2228.1 563.8V578.5M2231.9 571.9V586.9M2235.7 567.8V582.6M2239.5 571V586.6M2243.3 577.3V592.4M2247.2 573.2V587.9M2251 577.9V592.6M2254.8 582.2V597.6M2258.6 562.5V578M2262.4 525.1V540.9M2266.3 550.6V565.9M2270.1 550.2V566.1M2273.9 551.7V566.2M2277.7 533.4V548.4M2281.5 537V551.2M2285.4 542.2V557.5M2289.2 541V556.8M2293 555.8V571.2M2296.8 569.1V582.5M2300.6 549.6V565.1M2304.5 553.9V568.2M2308.3 588.5V604.2M2312.1 561V575.3M2315.9 564.3V579.9M2319.8 569.5V584.2M2323.6 553.5V568.2M2327.4 593.9V608M2331.2 592V606.3M2335 565.8V581.2M2338.9 570V585M2342.7 602V616.7M2346.5 564.1V578.9M2350.3 569.6V584.3M2354.1 597.6V612.9M2358 565.3V580.1M2361.8 576V590.6M2365.6 571.8V587.3M2369.4 570.7V585.6M2373.2 561.5V576.5M2377.1 562.6V577.3M2380.9 583V598.4M2384.7 577.9V592.1M2388.5 597.5V612.2M2392.3 601.2V616.7M2396.2 613.1V627.1M2400 589.1V603.7M2403.8 576.3V590.2M2407.6 604.7V620.3M2411.5 601.2V615.5M2415.3 597.4V612.4M2419.1 628.2V643.4M2422.9 610.7V625.7M2426.7 596V610.6M2430.6 620.8V636.6M2434.4 617.7V632.4M2438.2 617.2V631.9M2442 626.5V641.4M2445.8 636.8V650.9M2449.7 635.8V650.1M2453.5 623V637.7M2457.3 609.6V623.9M2461.1 616.3V631.1M2464.9 620.4V634.8M2468.8 603V617.2M2472.6 634.3V649.1M2476.4 626.4V641M2480.2 589.9V604.1M2484 596.2V610.1M2487.9 578.2V592.6M2491.7 600.8V615.3M2495.5 619.7V634.4M2499.3 611.2V624.9M2503.2 598.9V613.6M2507 620.8V635.2M2510.8 590.7V605.4M2514.6 606.9V621.4M2518.4 625.6V639.6M2522.3 619.4V633.3M2526.1 628.3V642.9M2529.9 611.7V626.1M2533.7 620.7V634.8" fill="none" stroke="#1f77b4" stroke-opacity="0.4" stroke-width="3.6"/>
<path d="M1357.4 622.8V637.9M1361.3 629.2V644.1M1365.1 637.8V653.3M1368.9 613V628.5M1372.7 616.7V631.4M1376.6 625.5V640.9M1380.4 620.7V636.4M1384.2 620.9V635.5M1388 622.4V637.1M1391.8 612.8V627.1M1395.7 650.5V664.9M1399.5 607V622.6M1403.3 619.7V634.1M1407.1 604.4V619M1410.9 630.6V645M1414.8 616.8V631M1418.6 621.8V635.6M1422.4 610.7V625.6M1426.2 626.8V641.4M1430 626.6V640.8M1433.9 595.6V609.5M1437.7 612.5V627M1441.5 608.4V622.8M1445.3 619.2V634.2M1449.1 633.6V649M1453 605.1V619.9M1456.8 601.9V616.5M1460.6 599.9V614.1M1464.4 595.8V611.3M1468.3 624.5V638.6M1472.1 622.8V637.2M1475.9 628.7V643.5M1479.7 631.7V647M1483.5 642.1V657.1M1487.4 619.4V632.9M1491.2 629.5V644.1M1495 605.6V620.6M1498.8 615V629.2M1502.6 610.9V625.6M1506.5 605.1V618.7M1510.3 630.4V645.3M1514.1 642V656.5M1517.9 601.2V617M1521.7 618.4V632.7M1525.6 584.6V600M1529.4 616.9V631.9M1533.2 607.6V622M1537 602.8V617.1M1540.8 616.8V631.1M1544.7 594.8V609.9M1548.5 592.9V606.8M1552.3 557.5V571.4M1556.1 582V597.3M1560 582.3V598.6M1563.8 559.8V574.7M1567.6 562.6V577.6M1571.4 520.5V535.8M1575.2 522.8V538.2M1579.1 567.9V582.8M1582.9 528.7V544M1586.7 527.3V543M1590.5 513.2V528.7M1594.3 546.1V561.2M1598.2 534.6V549.2M1602 547.5V563.3M1605.8 506.6V522.3M1609.6 512.6V527.3M1613.4 509.3V524.6M1617.3 503.2V518.5M1621.1 503V518.7M1624.9 491.9V506.9M1628.7 495.2V510.9M1632.5 486.5V502.2M1636.4 490.2V506.4M1640.2 464.4V480M1644 473.1V487.6M1647.8 474.3V490.1M1651.7 447.7V463.6M1655.5 482V497.1M1659.3 496.1V513M1663.1 478V492.7M1666.9 485V500.5M1670.8 494.9V509.7M1674.6 459.8V474.4M1678.4 480.6V495.3M1682.2 493.7V510.1M1686 499.1V514.3M1689.9 507.9V523.9M1693.7 491.6V506M1697.5 525V540.5M1701.3 512.2V526.6M1705.1 506.6V522.4M1709 553.4V568M1712.8 511.7V527.1M1716.6 528.7V543.5M1720.4 535.5V550.2M1724.2 528.7V543.8M1728.1 475.8V491.6M1731.9 507.5V522.2M1735.7 474.4V488.1M1739.5 512.1V527M1743.4 509.5V524.8M1747.2 517.9V532.8M1751 517.8V533.7M1754.8 511.6V527M1758.6 498.4V513.4M1762.5 486.7V500.5M1766.3 488V503.5M1770.1 534.1V549.4M1773.9 529.2V544.3M1777.7 533.5V548.2M1781.6 514.8V529.7M1785.4 554.6V569.1M1789.2 512.5V527.1M1793 525.8V541.4M1796.8 533.5V548.7M1800.7 520.2V535.7M1804.5 537.9V553.8M1808.3 546.2V561.9M1812.1 524.5V540.3M1815.9 537.7V552.9M1819.8 492.4V507.2M1823.6 518.6V533.9M1827.4 503.5V518.1M1831.2 498.8V513.1M1835.1 506.9V521.1M1838.9 482.1V497.4M1842.7 484.4V500.9M1846.5 495.7V511.2M1850.3 441.8V456.6M1854.2 459V474.7M1858 469.6V485.4M1861.8 440.8V456.3M1865.6 450.2V465.3M1869.4 466.9V482M1873.3 447.2V462.2M1877.1 462.7V478.7M1880.9 461.4V476.8M1884.7 436.3V450.8M1888.5 419.9V435M1892.4 418.6V433.5M1896.2 424.2V439.4M1900 456.6V471.2M1903.8 423.7V438.6M1907.6 429.8V445.9M1911.5 370.7V387.2M1915.3 390.7V406.4M1919.1 388V404.2M1922.9 339.5V355.3M1926.8 372.2V388.3M1930.6 351.6V367M1934.4 347.6V363.1M1938.2 333.3V348.7M1942 368V384M1945.9 327.9V343.3M1949.7 335.8V351.9M1953.5 329.6V345.6M1957.3 325.8V341.5M1961.1 287.9V303.5M1965 302.2V317.9M1968.8 262.6V278.6M1972.6 268.3V285.5M1976.4 261.2V278M1980.2 252.6V269.1M1984.1 249V265.1M1987.9 225V240.4M1991.7 267V282.8M1995.5 246.2V262.3M1999.3 252.4V268.8M2003.2 267.1V283.3M2007 260.3V276.8M2010.8 268.3V284.8M2014.6 302.1V319.1M2018.5 318.1V334.8M2022.3 263.3V279.7M2026.1 305.4V321.5M2029.9 293.5V308.7M2033.7 314.1V329.9M2037.6 306.3V321.9M2041.4 308.3V324.3M2045.2 360.2V376.3M2049 368.1V384.3M2052.8 366.7V383.3M2056.7 411.4V425.9M2060.5 395.7V410.5M2064.3 442.5V457.5M2068.1 420.7V437.5M2071.9 433.9V449.3M2075.8 447.2V462.7M2079.6 457.3V472.8M2083.4 402.8V418.9M2087.2 422.7V438.8M2091 431.8V447.7M2094.9 442.8V458.6M2098.7 434.6V450.4M2102.5 451.7V467.3M2106.3 485V500.6M2110.2 473.6V489.3M2114 451.1V466.2M2117.8 464.2V479.6M2121.6 475V489.8M2125.4 445.7V461M2129.3 454.4V469.9M2133.1 446.6V461.4M2136.9 439.8V455.8M2140.7 466V481.6M2144.5 494.2V509.3M2148.4 495.7V511.2M2152.2 457.2V472.2M2156 467.4V481.9M2159.8 449.2V463.9M2163.6 436.9V452.1M2167.5 436.7V451.6M2171.3 475V490.2M2175.1 508V522.2M2178.9 460.1V475.2M2182.7 483V498.2M2186.6 522.3V538.5M2190.4 483.1V499.3M2194.2 512.5V527.8M2198 501.9V517.5M2201.9 510.5V525.5M2205.7 511.8V527.5M2209.5 484.6V500.8M2213.3 510.9V525.1M2217.1 513.6V529.6M2221 524.9V539.7M2224.8 534.7V549.4M2228.6 537.4V553M2232.4 559.6V574.8M2236.2 576.8V590.8M2240.1 565.5V580.5M2243.9 552.1V568M2247.7 564.8V580.2M2251.5 555.2V570.4M2255.3 589.6V604.3M2259.2 566.4V580.7M2263 562.6V577.6M2266.8 553.9V568.3M2270.6 540.9V556.2M2274.4 513.1V528M2278.3 526.4V541.7M2282.1 527.4V543.2M2285.9 526.3V541.5M2289.7 550V565.5M2293.6 549.2V564.9M2297.4 528.2V542.6M2301.2 555.3V570.9M2305 555.8V569.4M2308.8 561.4V576.4M2312.7 559.2V574M2316.5 571V586.2M2320.3 559.1V574.1M2324.1 556.5V572.3M2327.9 583.3V597.5M2331.8 560.1V574.5M2335.6 547.1V561.4M2339.4 559.8V574.3M2343.2 572.8V587.9M2347 556.6V571M2350.9 575.9V590.5M2354.7 588.1V603.2M2358.5 580.1V594.2M2362.3 569.4V583.8M2366.1 554.9V569.9M2370 594V607.4M2373.8 584.2V599M2377.6 562.7V578.3M2381.4 573.5V587.8M2385.3 577.2V592.2M2389.1 577V591.2M2392.9 572.7V587.8M2396.7 588.8V603.3M2400.5 589.3V605.1M2404.4 605.6V620.2M2408.2 615.2V630.4M2412 611.8V626.7M2415.8 613.3V629.2M2419.6 619.4V633.5M2423.5 616.5V631.2M2427.3 616.5V630.6M2431.1 634.3V648.6M2434.9 624.5V638.9M2438.7 620.4V635.1M2442.6 625.1V640M2446.4 636.5V650.5M2450.2 609.1V623.5M2454 615.8V629.4M2457.8 601.5V617.4M2461.7 613.8V627.7M2465.5 619.1V632.8M2469.3 612.9V627.6M2473.1 631.2V645.8M2477 631.5V646.9M2480.8 615.3V630.6M2484.6 628.3V642.6M2488.4 630.9V646.6M2492.2 607.8V622M2496.1 602.7V617.3M2499.9 594.3V609.5M2503.7 612V626.7M2507.5 619.7V634.4M2511.3 638.8V652.9M2515.2 623.7V639M2519 601.6V616.1M2522.8 631.4V645.1M2526.6 625.6V641.4M2530.4 599V613.1M2534.3 617.6V631.6" fill="none" stroke="#1f77b4" stroke-opacity="0.4" stroke-width="3.6"/>
<path d="M1358.5 637.6 1366.7 634 1374.9 632.4 1383.1 632.4 1391.3 630.3 1399.5 627.1 1407.7 624 1415.9 627.4 1424 624.8 1432.2 624.1 1440.4 627.1 1448.6 627.6 1456.8 624.5 1465 624.1 1473.2 629.7 1481.4 626.8 1489.5 624.9 1497.7 622.4 1505.9 623.2 1514.1 623.8 1522.3 618.3 1530.5 616.9 1538.7 606.2 1546.9 596.8 1555 586.4 1563.2 571 1571.4 555.8 1579.6 548 1587.8 541.6 1596 540.7 1604.2 533.3 1612.4 523.7 1620.5 511.4 1628.7 491.8 1636.9 486.2 1645.1 476.8 1653.3 478.8 1661.5 484.9 1669.7 491.7 1677.9 490.2 1686 504 1694.2 516.7 1702.4 524.2 1710.6 530.9 1718.8 534.8 1727 510.3 1735.2 507.7 1743.4 514.4 1751.5 519.7 1759.7 523 1767.9 524.8 1776.1 535.6 1784.3 540 1792.5 543.7 1800.7 530.6 1808.9 530.8 1817 531.9 1825.2 522.6 1833.4 509 1841.6 496.4 1849.8 482.7 1858 470.9 1866.2 457.1 1874.4 452.4 1882.5 457.8 1890.7 430.4 1898.9 435.5 1907.1 422.7 1915.3 396.7 1923.5 384.6 1931.7 362 1939.9 351 1948 338.3 1956.2 325.1 1964.4 312 1972.6 271 1980.8 253.3 1989 245.6 1997.2 271.1 2005.4 289.1 2013.5 298.2 2021.7 300.5 2029.9 315.2 2038.1 333.4 2046.3 359.8 2054.5 393.1 2062.7 426.9 2070.9 435.8 2079 430.5 2087.2 426.7 2095.4 439.9 2103.6 458.8 2111.8 469.6 2120 471.8 2128.2 459.4 2136.4 466.9 2144.5 479.4 2152.7 471.8 2160.9 461.9 2169.1 478.6 2177.3 492.4 2185.5 500.7 2193.7 506.2 2201.9 500.9 2210 501.7 2218.2 526.1 2226.4 551.7 2234.6 569.7 2242.8 573.8 2251 577.3 2259.2 571 2267.4 558.5 2275.5 549.6 2283.7 548.6 2291.9 555.6 2300.1 566.5 2308.3 573.9 2316.5 580.4 2324.7 586.1 2332.9 582.7 2341 582.3 2349.2 582.8 2357.4 586.6 2365.6 583 2373.8 586.5 2382 583.5 2390.2 592 2398.4 598.7 2406.5 604.8 2414.7 609.7 2422.9 619.1 2431.1 626.1 2439.3 631.2 2447.5 635.5 2455.7 625.7 2463.9 621.4 2472 622.6 2480.2 619.7 2488.4 618.2 2496.6 617.8 2504.8 620.8 2513 620.9 2521.2 622.7 2529.4 623.5" fill="none" stroke="#ff7f0e" stroke-width="13.9" stroke-linejoin="round" stroke-linecap="square"/>
<text x="1706.7" y="663.2" font-size="42">Flaring span zoomed</text>
<path d="M1507.8 744.0V185.5" stroke="#ea0008" stroke-width="3.7" stroke-dasharray="12.3 5.47" fill="none"/>
<path d="M1810.4 744.0V185.5" stroke="#ea0008" stroke-width="3.7" stroke-dasharray="12.3 5.47" fill="none"/>
<path d="M2443.1 744.0V185.5" stroke="#ea0008" stroke-width="3.7" stroke-dasharray="12.3 5.47" fill="none"/>
<path d="M1354.2 642.6 1354.7 633.6 1355.3 632.6 1355.8 640.6 1356.4 634.8 1356.9 644.7 1357.4 630.3 1358 639.8 1358.5 636.3 1359.1 633.4 1359.6 634.6 1360.2 645.1 1360.7 652.7 1361.3 636.6 1361.8 642.6 1362.4 642 1362.9 636.5 1363.5 643.8 1364 629.2 1364.5 629.6 1365.1 645.6 1365.6 629.6 1366.2 646 1366.7 624.9 1367.3 626.1 1367.8 633.9 1368.4 622.5 1368.9 620.7 1369.5 627.9 1370 656.3 1370.5 631.6 1371.1 630.6 1371.6 622.9 1372.2 645.3 1372.7 624 1373.3 628.3 1373.8 627.5 1374.4 648.1 1374.9 643.3 1375.5 618.1 1376 621.9 1376.6 633.2 1377.1 618.4 1377.6 628.6 1378.2 637.1 1378.7 651.6 1379.3 618.9 1379.8 633.3 1380.4 628.5 1380.9 654 1381.5 638.1 1382 627.5 1382.6 634.2 1383.1 640.3 1383.6 644.9 1384.2 628.2 1384.7 635.3 1385.3 634.9 1385.8 634.2 1386.4 638.6 1386.9 634.5 1387.5 637.9 1388 629.7 1388.6 647.3 1389.1 643.7 1389.7 629.5 1390.2 631.8 1390.7 627.6 1391.3 604.2 1391.8 620 1392.4 615 1392.9 623.9 1393.5 630.5 1394 639 1394.6 652.2 1395.1 646.3 1395.7 657.7 1396.2 642.1 1396.7 647.7 1397.3 639.6 1397.8 627.3 1398.4 632 1398.9 615.3 1399.5 614.8 1400 613 1400.6 614.8 1401.1 622 1401.7 631.7 1402.2 619.1 1402.8 627.8 1403.3 626.9 1403.8 618.8 1404.4 637.7 1404.9 644.3 1405.5 619.1 1406 600.2 1406.6 608.3 1407.1 611.7 1407.7 640.7 1408.2 631.4 1408.8 652.8 1409.3 634.8 1409.8 600 1410.4 603.9 1410.9 637.8 1411.5 629.2 1412 636 1412.6 642.9 1413.1 629.3 1413.7 630.7 1414.2 625.7 1414.8 623.9 1415.3 618.7 1415.9 610.4 1416.4 628.6 1416.9 630.1 1417.5 627.2 1418 621.5 1418.6 628.7 1419.1 639.4 1419.7 633.3 1420.2 617.2 1420.8 639.4 1421.3 615.9 1421.9 643.7 1422.4 618.2 1422.9 618.3 1423.5 628.3 1424 625.7 1424.6 628.2 1425.1 603.8 1425.7 630.5 1426.2 634.1 1426.8 619.9 1427.3 610.4 1427.9 620.1 1428.4 626.1 1429 611 1429.5 633.6 1430 633.7 1430.6 639.4 1431.1 608.1 1431.7 652 1432.2 640.4 1432.8 621.1 1433.3 619.2 1433.9 602.5 1434.4 619.5 1435 631.4 1435.5 607.7 1436 612 1436.6 611.1 1437.1 612.4 1437.7 619.7 1438.2 644.8 1438.8 640 1439.3 601.9 1439.9 626.5 1440.4 650.5 1441 626.8 1441.5 615.6 1442.1 622.7 1442.6 627.4 1443.1 656.7 1443.7 626.5 1444.2 628.8 1444.8 605.7 1445.3 626.7 1445.9 627.3 1446.4 632 1447 627.8 1447.5 622.7 1448.1 632.4 1448.6 637 1449.1 641.3 1449.7 624 1450.2 629.8 1450.8 629.2 1451.3 644.3 1451.9 635.1 1452.4 648.8 1453 612.5 1453.5 609.6 1454.1 619.3 1454.6 625.9 1455.2 618.4 1455.7 643.2 1456.2 641.1 1456.8 609.2 1457.3 637.3 1457.9 624.7 1458.4 632.5 1459 655 1459.5 632.4 1460.1 613.3 1460.6 607 1461.2 617.1 1461.7 643.9 1462.2 631.5 1462.8 611.6 1463.3 609 1463.9 604.5 1464.4 603.5 1465 630.6 1465.5 638 1466.1 613.9 1466.6 629.1 1467.2 625.7 1467.7 630.9 1468.3 631.5 1468.8 615.2 1469.3 639.8 1469.9 649.4 1470.4 636.3 1471 626.4 1471.5 631.8 1472.1 630 1472.6 653.6 1473.2 639.8 1473.7 615.4 1474.3 631.3 1474.8 637.7 1475.3 614.8 1475.9 636.1 1476.4 619.5 1477 626.2 1477.5 623.7 1478.1 615.7 1478.6 600.3 1479.2 612.6 1479.7 639.4 1480.3 642.6 1480.8 632.6 1481.4 630.7 1481.9 619.6 1482.4 628 1483 625.7 1483.5 649.6 1484.1 628.3 1484.6 620.7 1485.2 605.5 1485.7 616.9 1486.3 625.4 1486.8 641.4 1487.4 626.2 1487.9 625.8 1488.4 627.4 1489 623.3 1489.5 618.6 1490.1 619.1 1490.6 595.9 1491.2 636.8 1491.7 644.1 1492.3 618.7 1492.8 639.2 1493.4 625.9 1493.9 624.1 1494.5 633.6 1495 613.1 1495.5 615.1 1496.1 621.7 1496.6 615.7 1497.2 612.5 1497.7 627.7 1498.3 616.2 1498.8 622.1 1499.4 624 1499.9 630 1500.5 601.8 1501 620.1 1501.5 642.6 1502.1 618.1 1502.6 618.3 1503.2 621.2 1503.7 614.9 1504.3 606.6 1504.8 622.2 1505.4 634 1505.9 600.2 1506.5 611.9 1507 608.7 1507.6 628.6 1508.1 617.1 1508.6 647.7 1509.2 618.9 1509.7 651.8 1510.3 637.9 1510.8 643.4 1511.4 609.7 1511.9 612.4 1512.5 631.7 1513 608.1 1513.6 622.8 1514.1 649.2 1514.6 628.5 1515.2 645.6 1515.7 622.3 1516.3 618.5 1516.8 632.5 1517.4 612.4 1517.9 609.1 1518.5 634.1 1519 615 1519.6 623.5 1520.1 625.6 1520.7 599.8 1521.2 630.4 1521.7 625.5 1522.3 621.4 1522.8 612.8 1523.4 609.9 1523.9 631.8 1524.5 601.4 1525 595 1525.6 592.3 1526.1 616 1526.7 624.5 1527.2 631.6 1527.7 612.7 1528.3 617.9 1528.8 617.3 1529.4 624.4 1529.9 645 1530.5 619.4 1531 617.3 1531.6 619.3 1532.1 632.6 1532.7 617 1533.2 614.8 1533.8 627.2 1534.3 603.2 1534.8 611.6 1535.4 608.8 1535.9 604.8 1536.5 612.9 1537 610 1537.6 601.3 1538.1 597.7 1538.7 595.3 1539.2 609.2 1539.8 595.9 1540.3 590.3 1540.8 624 1541.4 610 1541.9 604.3 1542.5 603.4 1543 578.6 1543.6 586.2 1544.1 603.4 1544.7 602.4 1545.2 619.1 1545.8 612.8 1546.3 580.2 1546.9 621.4 1547.4 588.5 1547.9 606 1548.5 599.9 1549 596.3 1549.6 568.9 1550.1 588.7 1550.7 585.6 1551.2 577.8 1551.8 622 1552.3 564.4 1552.9 613 1553.4 599 1553.9 578.6 1554.5 604.7 1555 611.2 1555.6 569.6 1556.1 589.7 1556.7 571.1 1557.2 576.4 1557.8 584.9 1558.3 557 1558.9 583.6 1559.4 550 1560 590.4 1560.5 590.9 1561 585.3 1561.6 571 1562.1 589.6 1562.7 582.3 1563.2 550.2 1563.8 567.3 1564.3 552 1564.9 562.3 1565.4 575.1 1566 576.7 1566.5 561.7 1567 562.2 1567.6 570.1 1568.1 570 1568.7 539.8 1569.2 545.1 1569.8 555.3 1570.3 564.1 1570.9 564.7 1571.4 528.1 1572 566 1572.5 522.2 1573.1 565.6 1573.6 577.3 1574.1 524.5 1574.7 555.6 1575.2 530.5 1575.8 546 1576.3 555.5 1576.9 537.2 1577.4 555 1578 543.4 1578.5 551.5 1579.1 575.3 1579.6 542.4 1580.1 555.8 1580.7 549.4 1581.2 540.5 1581.8 567.6 1582.3 537.5 1582.9 536.3 1583.4 515.4 1584 531.6 1584.5 538.3 1585.1 552.8 1585.6 542.8 1586.2 563.3 1586.7 535.2 1587.2 544.3 1587.8 546.8 1588.3 541 1588.9 534.3 1589.4 537.2 1590 559.1 1590.5 520.9 1591.1 540.5 1591.6 535.9 1592.2 540.9 1592.7 555.2 1593.2 536.8 1593.8 546.8 1594.3 553.7 1594.9 538.8 1595.4 529.2 1596 531.4 1596.5 537.7 1597.1 549.8 1597.6 545.4 1598.2 541.9 1598.7 560.9 1599.3 526.4 1599.8 536.7 1600.3 556.9 1600.9 514.1 1601.4 506.8 1602 555.4 1602.5 537.8 1603.1 547.3 1603.6 522.1 1604.2 554.4 1604.7 525.2 1605.3 526.2 1605.8 514.5 1606.3 560.1 1606.9 542.1 1607.4 532.9 1608 514.4 1608.5 527.1 1609.1 516.2 1609.6 519.9 1610.2 540.1 1610.7 527.3 1611.3 530.9 1611.8 528.9 1612.4 537.5 1612.9 510.7 1613.4 517 1614 550.8 1614.5 508.7 1615.1 528.3 1615.6 541.9 1616.2 498.9 1616.7 517.5 1617.3 510.8 1617.8 517.8 1618.4 515.5 1618.9 542.7 1619.4 501.2 1620 523.7 1620.5 510.5 1621.1 510.9 1621.6 523.8 1622.2 527.1 1622.7 508.3 1623.3 484.1 1623.8 514 1624.4 511.9 1624.9 499.4 1625.5 509.1 1626 477.2 1626.5 489.7 1627.1 455.1 1627.6 491.2 1628.2 457.6 1628.7 503 1629.3 489.2 1629.8 509.9 1630.4 498.3 1630.9 496.7 1631.5 481 1632 468.2 1632.5 494.4 1633.1 513.4 1633.6 489.2 1634.2 491.5 1634.7 499.2 1635.3 473.6 1635.8 468.6 1636.4 498.3 1636.9 498 1637.5 477.9 1638 495.8 1638.6 471 1639.1 499.7 1639.6 468.8 1640.2 472.2 1640.7 472.6 1641.3 471.8 1641.8 483.1 1642.4 464.2 1642.9 463.1 1643.5 474.4 1644 480.3 1644.6 457.5 1645.1 453.6 1645.6 488.8 1646.2 463.7 1646.7 476.2 1647.3 437.4 1647.8 482.2 1648.4 487.4 1648.9 492.6 1649.5 462.1 1650 495.3 1650.6 467 1651.1 486.6 1651.7 455.7 1652.2 452 1652.7 459.4 1653.3 511.4 1653.8 503.4 1654.4 462 1654.9 477.1 1655.5 489.6 1656 486.7 1656.6 479.6 1657.1 470.7 1657.7 486.9 1658.2 480.7 1658.7 482.5 1659.3 504.6 1659.8 453.1 1660.4 454.9 1660.9 483.8 1661.5 487 1662 454 1662.6 511 1663.1 485.4 1663.7 476.7 1664.2 494 1664.8 482.2 1665.3 517.5 1665.8 525.8 1666.4 481.7 1666.9 492.8 1667.5 483.6 1668 489.3 1668.6 481.1 1669.1 487.2 1669.7 494.3 1670.2 484.5 1670.8 502.3 1671.3 468.1 1671.8 507.4 1672.4 497.9 1672.9 476.4 1673.5 497.3 1674 475.4 1674.6 467.1 1675.1 478.2 1675.7 498.4 1676.2 459.7 1676.8 483.5 1677.3 507 1677.9 457.8 1678.4 488 1678.9 480.8 1679.5 476.1 1680 499.8 1680.6 477.5 1681.1 513.8 1681.7 510.6 1682.2 501.9 1682.8 460.7 1683.3 487.7 1683.9 479.5 1684.4 506.6 1684.9 491.9 1685.5 535.9 1686 506.7 1686.6 496.6 1687.1 513.8 1687.7 537.7 1688.2 533.1 1688.8 497.5 1689.3 487.2 1689.9 515.9 1690.4 485.3 1691 532.6 1691.5 502.4 1692 508.1 1692.6 496.7 1693.1 538.1 1693.7 498.8 1694.2 513.5 1694.8 529.7 1695.3 523.8 1695.9 520.6 1696.4 513.3 1697 531.9 1697.5 532.7 1698 518.2 1698.6 520.8 1699.1 513 1699.7 507.2 1700.2 551.4 1700.8 524 1701.3 519.4 1701.9 522.9 1702.4 541 1703 513.4 1703.5 498.2 1704.1 528.3 1704.6 538.6 1705.1 514.5 1705.7 526.8 1706.2 525.7 1706.8 524.5 1707.3 535.7 1707.9 529.2 1708.4 540.8 1709 560.7 1709.5 514.2 1710.1 526.3 1710.6 532.2 1711.1 510.4 1711.7 534.1 1712.2 514.5 1712.8 519.4 1713.3 537 1713.9 552.3 1714.4 525.7 1715 529.8 1715.5 517.9 1716.1 558 1716.6 536.1 1717.2 530.8 1717.7 529.4 1718.2 533.2 1718.8 530.5 1719.3 571.6 1719.9 539.2 1720.4 542.9 1721 554.8 1721.5 527 1722.1 533.1 1722.6 543.4 1723.2 545.3 1723.7 516.2 1724.2 536.2 1724.8 519.1 1725.3 533.8 1725.9 511.8 1726.4 481.1 1727 493.7 1727.5 509.3 1728.1 483.7 1728.6 477.7 1729.2 492.2 1729.7 478.3 1730.3 504.9 1730.8 498.2 1731.3 509.9 1731.9 514.8 1732.4 508.3 1733 521.4 1733.5 510.5 1734.1 473.1 1734.6 497.5 1735.2 512.2 1735.7 481.2 1736.3 485.8 1736.8 526.7 1737.3 520.8 1737.9 481.7 1738.4 508.7 1739 507.6 1739.5 519.5 1740.1 529.3 1740.6 493.2 1741.2 525.3 1741.7 503.8 1742.3 482.9 1742.8 504.7 1743.4 517.1 1743.9 503.9 1744.4 505.5 1745 522.3 1745.5 511 1746.1 535.2 1746.6 544.3 1747.2 525.4 1747.7 545.2 1748.3 527.5 1748.8 519.7 1749.4 515 1749.9 488.2 1750.4 533.1 1751 525.8 1751.5 526.1 1752.1 535 1752.6 486.4 1753.2 531.6 1753.7 523.1 1754.3 522.4 1754.8 519.3 1755.4 524.8 1755.9 532.4 1756.5 500.3 1757 531 1757.5 554.4 1758.1 502.5 1758.6 505.9 1759.2 544 1759.7 541.2 1760.3 522 1760.8 537.2 1761.4 546.3 1761.9 541.3 1762.5 493.6 1763 505.2 1763.5 539.9 1764.1 525.5 1764.6 521.5 1765.2 528.9 1765.7 524.2 1766.3 495.7 1766.8 534.3 1767.4 536.7 1767.9 525.2 1768.5 535.5 1769 532 1769.6 532.2 1770.1 541.7 1770.6 507.3 1771.2 538.3 1771.7 507.5 1772.3 543.2 1772.8 545.2 1773.4 527.6 1773.9 536.7 1774.5 520.1 1775 523.8 1775.6 498.7 1776.1 559.4 1776.6 553.4 1777.2 537.9 1777.7 540.8 1778.3 538.6 1778.8 540.8 1779.4 574 1779.9 527.8 1780.5 542.5 1781 539 1781.6 522.3 1782.1 540.6 1782.7 527.5 1783.2 519.8 1783.7 521.6 1784.3 570.2 1784.8 551.3 1785.4 561.9 1785.9 554 1786.5 545 1787 509.5 1787.6 552.6 1788.1 547.5 1788.7 545.8 1789.2 519.8 1789.7 552.4 1790.3 536.8 1790.8 531.3 1791.4 535.5 1791.9 576.6 1792.5 565.6 1793 533.6 1793.6 571.1 1794.1 545.9 1794.7 565 1795.2 533.9 1795.8 539.9 1796.3 562.8 1796.8 541.1 1797.4 553 1797.9 543.9 1798.5 513.9 1799 528.4 1799.6 526.4 1800.1 506.1 1800.7 528 1801.2 508.8 1801.8 523.7 1802.3 525.9 1802.8 536.2 1803.4 543.9 1803.9 547.3 1804.5 545.8 1805 522.8 1805.6 524.7 1806.1 544.8 1806.7 512 1807.2 542 1807.8 538.2 1808.3 554.1 1808.9 545.7 1809.4 518.6 1809.9 525.7 1810.5 542.9 1811 513.5 1811.6 534.4 1812.1 532.4 1812.7 517.2 1813.2 526.9 1813.8 539.7 1814.3 551.4 1814.9 514.6 1815.4 529.5 1815.9 545.3 1816.5 563.4 1817 545 1817.6 521.4 1818.1 539.1 1818.7 539.6 1819.2 532.7 1819.8 499.8 1820.3 508.1 1820.9 525.4 1821.4 538.3 1822 533.4 1822.5 520.7 1823 529 1823.6 526.3 1824.1 540.4 1824.7 544.9 1825.2 540.1 1825.8 518 1826.3 536 1826.9 500.7 1827.4 510.8 1828 508.5 1828.5 502.3 1829 534.6 1829.6 536 1830.1 520.1 1830.7 506 1831.2 506 1831.8 487.5 1832.3 490.8 1832.9 495.6 1833.4 493.5 1834 506.8 1834.5 496.4 1835.1 514 1835.6 515.2 1836.1 492 1836.7 533.3 1837.2 482.3 1837.8 473.7 1838.3 511.1 1838.9 489.7 1839.4 498.2 1840 516.2 1840.5 492.9 1841.1 489.2 1841.6 480.2 1842.1 501.5 1842.7 492.7 1843.2 504.2 1843.8 476.3 1844.3 493.8 1844.9 476.8 1845.4 501.5 1846 487.3 1846.5 503.4 1847.1 499.9 1847.6 467.9 1848.2 488.7 1848.7 486.2 1849.2 471.5 1849.8 496.6 1850.3 449.2 1850.9 494.2 1851.4 486.8 1852 442.3 1852.5 507.5 1853.1 447.4 1853.6 469.9 1854.2 466.9 1854.7 492.7 1855.2 470.9 1855.8 494.6 1856.3 454.9 1856.9 475.3 1857.4 481.3 1858 477.5 1858.5 470.8 1859.1 450.4 1859.6 459.9 1860.2 478.5 1860.7 479.4 1861.3 481.2 1861.8 448.6 1862.3 453 1862.9 479.7 1863.4 487.8 1864 459.5 1864.5 467.6 1865.1 447.4 1865.6 457.8 1866.2 448.8 1866.7 440.8 1867.3 436.3 1867.8 458.1 1868.3 441.4 1868.9 463.7 1869.4 474.5 1870 449 1870.5 431.5 1871.1 427.4 1871.6 453.1 1872.2 481.9 1872.7 445.6 1873.3 454.7 1873.8 439.7 1874.4 431.4 1874.9 457.6 1875.4 462.4 1876 457.9 1876.5 464.1 1877.1 470.7 1877.6 450.6 1878.2 468.4 1878.7 461.6 1879.3 463.5 1879.8 469.5 1880.4 449.5 1880.9 469.1 1881.4 463.7 1882 449.6 1882.5 467 1883.1 487.6 1883.6 468 1884.2 465.4 1884.7 443.5 1885.3 422.8 1885.8 445.7 1886.4 448.9 1886.9 418.1 1887.5 453.6 1888 433.3 1888.5 427.4 1889.1 434.2 1889.6 434 1890.2 426.2 1890.7 402.6 1891.3 420.1 1891.8 441.4 1892.4 426.1 1892.9 414.4 1893.5 400.3 1894 418.2 1894.5 429.6 1895.1 408.8 1895.6 418.1 1896.2 431.8 1896.7 446.7 1897.3 433.8 1897.8 418.9 1898.4 455.2 1898.9 465.1 1899.5 428.1 1900 463.9 1900.6 458.8 1901.1 438.2 1901.6 437.8 1902.2 431.5 1902.7 428.5 1903.3 420.9 1903.8 431.1 1904.4 443.1 1904.9 449.3 1905.5 403.8 1906 410.9 1906.6 412.8 1907.1 423.4 1907.6 437.9 1908.2 412.2 1908.7 421.1 1909.3 443.4 1909.8 398.3 1910.4 441 1910.9 421 1911.5 378.9 1912 424.1 1912.6 404 1913.1 385.9 1913.7 403.3 1914.2 427.6 1914.7 408.7 1915.3 398.6 1915.8 423.7 1916.4 367 1916.9 385.9 1917.5 376.6 1918 384.6 1918.6 382.3 1919.1 396.1 1919.7 416.9 1920.2 376.4 1920.7 388.3 1921.3 359.3 1921.8 410.6 1922.4 385.5 1922.9 347.4 1923.5 413.6 1924 410.6 1924.6 383.3 1925.1 352.7 1925.7 404.7 1926.2 378.3 1926.8 380.3 1927.3 384.8 1927.8 376.2 1928.4 345.1 1928.9 363.3 1929.5 388.8 1930 373.8 1930.6 359.3 1931.1 387.8 1931.7 373.3 1932.2 367.1 1932.8 399.6 1933.3 321.7 1933.8 388.8 1934.4 355.3 1934.9 359.3 1935.5 367.1 1936 330.8 1936.6 352.7 1937.1 369.6 1937.7 329.5 1938.2 341 1938.8 371.6 1939.3 380.6 1939.9 332.4 1940.4 351.9 1940.9 377.5 1941.5 337.2 1942 376 1942.6 360.7 1943.1 362.7 1943.7 385.2 1944.2 331.7 1944.8 361.4 1945.3 331.5 1945.9 335.6 1946.4 348.2 1946.9 343.9 1947.5 336.5 1948 329 1948.6 350.9 1949.1 339.4 1949.7 343.9 1950.2 327.8 1950.8 319.4 1951.3 315 1951.9 344.8 1952.4 344.4 1953 319.7 1953.5 337.6 1954 335.5 1954.6 320.7 1955.1 321.1 1955.7 300.8 1956.2 351.1 1956.8 302.6 1957.3 333.6 1957.9 309.3 1958.4 348.2 1959 323.9 1959.5 333.3 1960 284 1960.6 338.8 1961.1 295.7 1961.7 334.8 1962.2 340.6 1962.8 310.9 1963.3 295 1963.9 317.2 1964.4 303.2 1965 310 1965.5 315.5 1966.1 285.4 1966.6 310.7 1967.1 287.8 1967.7 324.6 1968.2 299.4 1968.8 270.6 1969.3 294.9 1969.9 325.4 1970.4 260.2 1971 262.2 1971.5 279 1972.1 269 1972.6 276.9 1973.1 259.9 1973.7 243 1974.2 258.4 1974.8 265.4 1975.3 272.3 1975.9 263.7 1976.4 269.6 1977 236.3 1977.5 278.4 1978.1 266.7 1978.6 245.9 1979.2 245.6 1979.7 246.8 1980.2 260.9 1980.8 246.8 1981.3 281.5 1981.9 283.1 1982.4 277.3 1983 240.7 1983.5 218.6 1984.1 257.1 1984.6 259.3 1985.2 252.9 1985.7 206.5 1986.2 240.7 1986.8 242.5 1987.3 256.4 1987.9 232.7 1988.4 214.6 1989 239.9 1989.5 263.2 1990.1 218.8 1990.6 249.4 1991.2 212 1991.7 274.9 1992.3 257 1992.8 249.7 1993.3 294.8 1993.9 256.7 1994.4 247.2 1995 264.7 1995.5 254.3 1996.1 261.5 1996.6 285 1997.2 253.3 1997.7 286.3 1998.3 278.1 1998.8 288.5 1999.3 260.6 1999.9 285.4 2000.4 286.7 2001 323.1 2001.5 285 2002.1 259.5 2002.6 325.5 2003.2 275.2 2003.7 285 2004.3 321.8 2004.8 295.4 2005.4 268.1 2005.9 289.3 2006.4 283.1 2007 268.6 2007.5 299.5 2008.1 276.1 2008.6 320.4 2009.2 312.8 2009.7 265.3 2010.3 267.6 2010.8 276.6 2011.4 327.3 2011.9 301.3 2012.4 315.3 2013 257.7 2013.5 325.4 2014.1 324.2 2014.6 310.6 2015.2 291.9 2015.7 310.9 2016.3 305.5 2016.8 293.5 2017.4 299.4 2017.9 338.9 2018.5 326.5 2019 267.5 2019.5 300.4 2020.1 264.4 2020.6 272.1 2021.2 279.6 2021.7 301.3 2022.3 271.5 2022.8 312.6 2023.4 257.8 2023.9 291.8 2024.5 292.9 2025 314.1 2025.5 318.9 2026.1 313.5 2026.6 320.1 2027.2 328.4 2027.7 333.7 2028.3 309.1 2028.8 290.1 2029.4 275.8 2029.9 301.1 2030.5 319.8 2031 306.5 2031.6 272.9 2032.1 318.5 2032.6 302.2 2033.2 315.7 2033.7 322 2034.3 337.2 2034.8 312.7 2035.4 344.5 2035.9 349.1 2036.5 323.4 2037 312 2037.6 314.1 2038.1 316.8 2038.6 340.6 2039.2 338.3 2039.7 314.7 2040.3 297.3 2040.8 367.6 2041.4 316.3 2041.9 336.9 2042.5 343.4 2043 357.9 2043.6 357 2044.1 369.3 2044.7 341.7 2045.2 368.2 2045.7 355.6 2046.3 383.9 2046.8 334.6 2047.4 347.3 2047.9 385.5 2048.5 357.1 2049 376.2 2049.6 388 2050.1 372.9 2050.7 361 2051.2 351.2 2051.7 377.4 2052.3 363.2 2052.8 375 2053.4 377.3 2053.9 373.9 2054.5 419.6 2055 403.9 2055.6 371.1 2056.1 425.6 2056.7 418.6 2057.2 370.8 2057.8 426.3 2058.3 407.6 2058.8 407.2 2059.4 419.6 2059.9 399.6 2060.5 403.1 2061 433.5 2061.6 391.8 2062.1 440.1 2062.7 435.7 2063.2 432.1 2063.8 426.4 2064.3 450 2064.8 426.4 2065.4 470.4 2065.9 440.5 2066.5 448.1 2067 445 2067.6 434.4 2068.1 429.1 2068.7 447 2069.2 433.8 2069.8 461.2 2070.3 441.7 2070.9 418.9 2071.4 447.9 2071.9 441.6 2072.5 436.5 2073 421.4 2073.6 428.7 2074.1 437.7 2074.7 451.9 2075.2 429.5 2075.8 454.9 2076.3 425.4 2076.9 445.6 2077.4 420.5 2077.9 432.5 2078.5 399 2079 441.8 2079.6 465.1 2080.1 429.1 2080.7 437.7 2081.2 430.3 2081.8 407 2082.3 443.6 2082.9 415.1 2083.4 410.9 2084 407.1 2084.5 461.2 2085 422.5 2085.6 437 2086.1 428.3 2086.7 438.3 2087.2 430.8 2087.8 409.4 2088.3 396.8 2088.9 416.1 2089.4 451.4 2090 408.7 2090.5 453.8 2091 439.8 2091.6 414.4 2092.1 445.8 2092.7 424.1 2093.2 442.5 2093.8 459.2 2094.3 436.4 2094.9 450.7 2095.4 412 2096 412.1 2096.5 418.3 2097.1 464.6 2097.6 415.6 2098.1 444.4 2098.7 442.5 2099.2 449.3 2099.8 463.5 2100.3 453.3 2100.9 441.9 2101.4 432 2102 449.6 2102.5 459.5 2103.1 468.3 2103.6 466 2104.1 433.4 2104.7 449.8 2105.2 458 2105.8 490.3 2106.3 492.8 2106.9 451.7 2107.4 453 2108 445.2 2108.5 461.2 2109.1 476.1 2109.6 494.4 2110.2 481.4 2110.7 505.5 2111.2 461.7 2111.8 459.2 2112.3 444.3 2112.9 499 2113.4 492.5 2114 458.7 2114.5 464 2115.1 503.9 2115.6 482.5 2116.2 469.4 2116.7 478 2117.2 465.7 2117.8 471.9 2118.3 482.4 2118.9 467 2119.4 475.2 2120 454.8 2120.5 497.7 2121.1 476.1 2121.6 482.4 2122.2 473.8 2122.7 461.6 2123.3 456.3 2123.8 502.5 2124.3 445 2124.9 454.4 2125.4 453.4 2126 459.9 2126.5 443.6 2127.1 451.6 2127.6 488.4 2128.2 467.7 2128.7 459.4 2129.3 462.1 2129.8 464.4 2130.3 447 2130.9 477.6 2131.4 472.1 2132 477.1 2132.5 461.3 2133.1 454 2133.6 478 2134.2 456.6 2134.7 473.4 2135.3 440.8 2135.8 504 2136.4 466.8 2136.9 447.8 2137.4 474.5 2138 488.1 2138.5 485.2 2139.1 462 2139.6 481.8 2140.2 455.7 2140.7 473.8 2141.3 485.1 2141.8 484.2 2142.4 469.9 2142.9 461.8 2143.4 493.5 2144 500.9 2144.5 501.7 2145.1 474.8 2145.6 451.5 2146.2 490 2146.7 469.3 2147.3 486.5 2147.8 463.6 2148.4 503.4 2148.9 467.7 2149.5 499.1 2150 490.7 2150.5 470.1 2151.1 479.1 2151.6 475.5 2152.2 464.7 2152.7 469.6 2153.3 446.9 2153.8 458.6 2154.4 485.1 2154.9 470.8 2155.5 478 2156 474.6 2156.5 436.2 2157.1 479.2 2157.6 443 2158.2 438 2158.7 470.1 2159.3 461.8 2159.8 456.5 2160.4 454.9 2160.9 465.4 2161.5 428.7 2162 426.9 2162.6 501.9 2163.1 469.1 2163.6 444.5 2164.2 484.2 2164.7 479.8 2165.3 468.8 2165.8 471 2166.4 475.3 2166.9 475.9 2167.5 444.2 2168 515.8 2168.6 486.4 2169.1 498.3 2169.6 475.9 2170.2 488.4 2170.7 473.7 2171.3 482.6 2171.8 444.9 2172.4 506.8 2172.9 493.8 2173.5 471.9 2174 493.9 2174.6 486 2175.1 515.1 2175.7 478.6 2176.2 493.5 2176.7 483 2177.3 508.7 2177.8 503.2 2178.4 508.9 2178.9 467.6 2179.5 524.9 2180 489.2 2180.6 492.6 2181.1 476.4 2181.7 493.4 2182.2 515.6 2182.7 490.6 2183.3 528.2 2183.8 482.8 2184.4 502.6 2184.9 513.6 2185.5 510.1 2186 492.8 2186.6 530.4 2187.1 475.2 2187.7 515.3 2188.2 479 2188.8 501.6 2189.3 473.3 2189.8 525.2 2190.4 491.2 2190.9 507 2191.5 516.8 2192 493 2192.6 511 2193.1 519.6 2193.7 511.5 2194.2 520.2 2194.8 510.5 2195.3 507 2195.8 488 2196.4 506.8 2196.9 517.4 2197.5 491.7 2198 509.7 2198.6 519.1 2199.1 522.5 2199.7 472.9 2200.2 503.3 2200.8 474.2 2201.3 516.8 2201.9 518 2202.4 471.7 2202.9 504.4 2203.5 503.2 2204 503.6 2204.6 516.9 2205.1 482.7 2205.7 519.7 2206.2 486.7 2206.8 517.1 2207.3 474.1 2207.9 486.9 2208.4 480.4 2208.9 526.9 2209.5 492.7 2210 509.5 2210.6 514.9 2211.1 515.9 2211.7 489.8 2212.2 504.4 2212.8 514.8 2213.3 518 2213.9 520.2 2214.4 520 2215 517.2 2215.5 533.1 2216 531.4 2216.6 554.7 2217.1 521.6 2217.7 514 2218.2 533.3 2218.8 505.5 2219.3 541.9 2219.9 531.4 2220.4 515.9 2221 532.3 2221.5 550.5 2222 534.6 2222.6 548.3 2223.1 526.9 2223.7 534.3 2224.2 551.5 2224.8 542.1 2225.3 525.7 2225.9 536.9 2226.4 543 2227 560.8 2227.5 568 2228.1 571.2 2228.6 545.2 2229.1 577.4 2229.7 555.9 2230.2 538.8 2230.8 586.9 2231.3 558.7 2231.9 579.4 2232.4 567.2 2233 558.3 2233.5 581.3 2234.1 586.8 2234.6 574 2235.1 565.6 2235.7 575.2 2236.2 583.8 2236.8 560 2237.3 586.8 2237.9 591.8 2238.4 569.4 2239 539.6 2239.5 578.8 2240.1 573 2240.6 586.9 2241.2 581.2 2241.7 589 2242.2 568.8 2242.8 583 2243.3 584.9 2243.9 560 2244.4 595.1 2245 560.9 2245.5 577.6 2246.1 588.8 2246.6 576.4 2247.2 580.5 2247.7 572.5 2248.2 580.8 2248.8 551 2249.3 563.5 2249.9 563.1 2250.4 597.1 2251 585.3 2251.5 562.8 2252.1 570.9 2252.6 578.8 2253.2 579.9 2253.7 563.1 2254.3 605.3 2254.8 589.9 2255.3 597 2255.9 559.8 2256.4 596.1 2257 579.6 2257.5 555.6 2258.1 579.2 2258.6 570.3 2259.2 573.5 2259.7 563.6 2260.3 540.3 2260.8 588.5 2261.3 571 2261.9 544.8 2262.4 533 2263 570.1 2263.5 545.3 2264.1 554.7 2264.6 554.2 2265.2 583.6 2265.7 585.7 2266.3 558.2 2266.8 561.1 2267.4 559.6 2267.9 574.8 2268.4 534.3 2269 558.4 2269.5 561.5 2270.1 558.2 2270.6 548.5 2271.2 542.3 2271.7 558.5 2272.3 568 2272.8 560.8 2273.4 551.6 2273.9 559 2274.4 520.6 2275 558.3 2275.5 538.1 2276.1 537.1 2276.6 546.4 2277.2 565.3 2277.7 540.9 2278.3 534 2278.8 545.6 2279.4 547.6 2279.9 580.8 2280.5 564.2 2281 550.1 2281.5 544.1 2282.1 535.3 2282.6 551.2 2283.2 543.7 2283.7 562.2 2284.3 537.4 2284.8 536.5 2285.4 549.8 2285.9 533.9 2286.5 553.8 2287 557.2 2287.5 554.7 2288.1 520.6 2288.6 575.9 2289.2 548.9 2289.7 557.8 2290.3 551.3 2290.8 575.8 2291.4 543.2 2291.9 545.3 2292.5 560.1 2293 563.5 2293.6 557 2294.1 544.6 2294.6 582.6 2295.2 539.9 2295.7 566.3 2296.3 550.2 2296.8 575.8 2297.4 535.4 2297.9 561.3 2298.5 540.1 2299 575.7 2299.6 576.5 2300.1 550.8 2300.6 557.4 2301.2 563.1 2301.7 550.4 2302.3 562.7 2302.8 574.2 2303.4 597.3 2303.9 603.5 2304.5 561 2305 562.6 2305.6 584.4 2306.1 563.8 2306.7 575.1 2307.2 571.9 2307.7 558.9 2308.3 596.4 2308.8 568.9 2309.4 567 2309.9 577.8 2310.5 573.3 2311 592.6 2311.6 574.5 2312.1 568.2 2312.7 566.6 2313.2 588.3 2313.7 567.3 2314.3 575.1 2314.8 570.4 2315.4 581.1 2315.9 572.1 2316.5 578.6 2317 583.3 2317.6 586.5 2318.1 566.3 2318.7 583.2 2319.2 604.5 2319.8 576.8 2320.3 566.6 2320.8 573.6 2321.4 573.5 2321.9 596.5 2322.5 581 2323 605.2 2323.6 560.9 2324.1 564.4 2324.7 601.2 2325.2 591.6 2325.8 603.1 2326.3 595.8 2326.8 591 2327.4 600.9 2327.9 590.4 2328.5 574.3 2329 586.9 2329.6 572.2 2330.1 584.4 2330.7 580 2331.2 599.1 2331.8 567.3 2332.3 596.6 2332.9 585.7 2333.4 599.2 2333.9 573.9 2334.5 596.4 2335 573.5 2335.6 554.3 2336.1 577.2 2336.7 614.5 2337.2 568.5 2337.8 580.4 2338.3 574.4 2338.9 577.5 2339.4 567.1 2339.9 569.4 2340.5 584.5 2341 601.1 2341.6 584.4 2342.1 572 2342.7 609.3 2343.2 580.4 2343.8 608 2344.3 566.2 2344.9 555.9 2345.4 569.9 2346 588.6 2346.5 571.5 2347 563.8 2347.6 559.1 2348.1 562.9 2348.7 567.7 2349.2 597.5 2349.8 585 2350.3 577 2350.9 583.2 2351.4 611.8 2352 586.6 2352.5 594.4 2353 581.5 2353.6 579.8 2354.1 605.3 2354.7 595.6 2355.2 582.7 2355.8 599.9 2356.3 585.5 2356.9 597 2357.4 595.2 2358 572.7 2358.5 587.1 2359.1 593.2 2359.6 563.6 2360.1 589.9 2360.7 585.9 2361.2 585.2 2361.8 583.3 2362.3 576.6 2362.9 573.4 2363.4 590.8 2364 573.7 2364.5 569.7 2365.1 602.3 2365.6 579.6 2366.1 562.4 2366.7 559.9 2367.2 582.3 2367.8 553 2368.3 595.5 2368.9 570.9 2369.4 578.2 2370 600.7 2370.5 571.5 2371.1 603.9 2371.6 595.1 2372.2 587.2 2372.7 603 2373.2 569 2373.8 591.6 2374.3 602.4 2374.9 580.7 2375.4 584.1 2376 599 2376.5 590.9 2377.1 569.9 2377.6 570.5 2378.2 604.5 2378.7 567.5 2379.2 567 2379.8 564.1 2380.3 587 2380.9 590.7 2381.4 580.7 2382 588.2 2382.5 583.2 2383.1 589.6 2383.6 586.6 2384.2 591 2384.7 585 2385.3 584.7 2385.8 592.2 2386.3 597.7 2386.9 569.1 2387.4 578.9 2388 585.4 2388.5 604.8 2389.1 584.1 2389.6 595.5 2390.2 585.2 2390.7 590.7 2391.3 577.2 2391.8 594.3 2392.3 608.9 2392.9 580.2 2393.4 579.6 2394 577.3 2394.5 580.5 2395.1 609.6 2395.6 608.3 2396.2 620.1 2396.7 596 2397.3 589.1 2397.8 583.6 2398.4 586.3 2398.9 598.9 2399.4 578.1 2400 596.4 2400.5 597.2 2401.1 604.9 2401.6 611.2 2402.2 596.5 2402.7 607.4 2403.3 606.3 2403.8 583.3 2404.4 612.9 2404.9 621.7 2405.4 599.8 2406 594.6 2406.5 605.4 2407.1 604.2 2407.6 612.5 2408.2 622.8 2408.7 615.4 2409.3 619.9 2409.8 588.8 2410.4 609.4 2410.9 587 2411.5 608.4 2412 619.3 2412.5 604.5 2413.1 604.9 2413.6 590.3 2414.2 636.5 2414.7 615.5 2415.3 604.9 2415.8 621.3 2416.4 610.2 2416.9 616.4 2417.5 593.9 2418 596.9 2418.5 642.1 2419.1 635.8 2419.6 626.4 2420.2 617.4 2420.7 619.3 2421.3 624.7 2421.8 610.5 2422.4 607.5 2422.9 618.2 2423.5 623.8 2424 619.8 2424.6 631.7 2425.1 610.3 2425.6 610.6 2426.2 634.2 2426.7 603.3 2427.3 623.5 2427.8 612.5 2428.4 623.8 2428.9 626.5 2429.5 615.3 2430 637.8 2430.6 628.7 2431.1 641.4 2431.6 619.9 2432.2 629.8 2432.7 631.4 2433.3 634.5 2433.8 619.7 2434.4 625 2434.9 631.7 2435.5 635.3 2436 606.7 2436.6 610.8 2437.1 644.9 2437.7 615.4 2438.2 624.5 2438.7 627.7 2439.3 626.6 2439.8 650 2440.4 655.3 2440.9 607.1 2441.5 633.1 2442 633.9 2442.6 632.6 2443.1 643.4 2443.7 628.2 2444.2 635.7 2444.7 649 2445.3 641.7 2445.8 643.9 2446.4 643.5 2446.9 640.2 2447.5 628.1 2448 641.5 2448.6 656.9 2449.1 618.1 2449.7 643 2450.2 616.3 2450.8 630.7 2451.3 626 2451.8 642.9 2452.4 630 2452.9 635.3 2453.5 630.3 2454 622.6 2454.6 632.9 2455.1 616.2 2455.7 644.5 2456.2 639.3 2456.8 618.8 2457.3 616.7 2457.8 609.5 2458.4 602.1 2458.9 617.2 2459.5 613.1 2460 619.5 2460.6 620.6 2461.1 623.7 2461.7 620.8 2462.2 629.4 2462.8 624 2463.3 611.4 2463.9 615.1 2464.4 606.5 2464.9 627.6 2465.5 625.9 2466 615.5 2466.6 632.2 2467.1 632.8 2467.7 613 2468.2 625.2 2468.8 610.1 2469.3 620.3 2469.9 627.3 2470.4 635.3 2470.9 606.1 2471.5 622.9 2472 633.6 2472.6 641.7 2473.1 638.5 2473.7 627.6 2474.2 606.3 2474.8 634.5 2475.3 618.9 2475.9 619.9 2476.4 633.7 2477 639.2 2477.5 611.8 2478 649 2478.6 607.3 2479.1 621.7 2479.7 643.7 2480.2 597 2480.8 622.9 2481.3 600.3 2481.9 618.1 2482.4 630.5 2483 605.6 2483.5 596.6 2484 603.1 2484.6 635.4 2485.1 611.3 2485.7 634.9 2486.2 627 2486.8 601 2487.3 637.6 2487.9 585.4 2488.4 638.7 2489 635.3 2489.5 607.8 2490.1 620.3 2490.6 619.6 2491.1 630.1 2491.7 608 2492.2 614.9 2492.8 619.1 2493.3 628.8 2493.9 638.1 2494.4 618.3 2495 647.3 2495.5 627 2496.1 610 2496.6 609.3 2497.1 624 2497.7 622.9 2498.2 611.3 2498.8 606.9 2499.3 618 2499.9 601.9 2500.4 605.5 2501 641.8 2501.5 622.8 2502.1 626.5 2502.6 599.5 2503.2 606.3 2503.7 619.3 2504.2 613.5 2504.8 609.7 2505.3 631 2505.9 624.3 2506.4 623.4 2507 628 2507.5 627 2508.1 619.9 2508.6 640.3 2509.2 638.5 2509.7 612.8 2510.2 602.8 2510.8 598 2511.3 645.8 2511.9 617.5 2512.4 633.3 2513 629.2 2513.5 624.9 2514.1 616.5 2514.6 614.1 2515.2 631.4 2515.7 629.2 2516.3 606.9 2516.8 619.8 2517.3 643.1 2517.9 634.8 2518.4 632.6 2519 608.8 2519.5 599.1 2520.1 637 2520.6 616 2521.2 626.7 2521.7 615.5 2522.3 626.3 2522.8 638.2 2523.3 632.2 2523.9 632.4 2524.4 604.8 2525 634.1 2525.5 617 2526.1 635.6 2526.6 633.5 2527.2 621.9 2527.7 632.5 2528.3 599.4 2528.8 608 2529.4 640.4 2529.9 618.9 2530.4 606 2531 641.8 2531.5 631.5 2532.1 606.9 2532.6 637.3 2533.2 618.3 2533.7 627.8 2534.3 624.6" fill="none" stroke="#1f77b4" stroke-opacity="0.4" stroke-width="3.2" stroke-dasharray="12.8 5.55" stroke-linejoin="round"/>
<text transform="translate(1492.0,412.2) rotate(-90)" font-size="46.4">2529.39</text>
<text transform="translate(1795.0,412.2) rotate(-90)" font-size="46.4">2530.16</text>
<text transform="translate(2428.0,412.2) rotate(-90)" font-size="46.4">2531.77</text>
<rect x="1309.8" y="640" width="317.6" height="89.6" rx="5.5" fill="#fff" fill-opacity="0.8" stroke="#d8d8d8" stroke-opacity="0.8" stroke-width="1.7"/>
<path d="M1321 663H1376.5" stroke="#ff7f0e" stroke-width="13.9" stroke-linecap="square" fill="none"/>
<text x="1399.5" y="673.3" font-size="27.78">0.5 h binned LC</text>
<path d="M1321 703.3H1376.5" stroke="#1f77b4" stroke-opacity="0.4" stroke-width="3.3" stroke-dasharray="12.2 5.3" fill="none"/>
<path d="M1348.8 689.5V717.2" stroke="#1f77b4" stroke-opacity="0.4" stroke-width="3.3" fill="none"/>
<text x="1399.5" y="713" font-size="27.78">Original LC</text>
<rect x="1296.0" y="185.5" width="1296.2" height="558.5" fill="none" stroke="#000" stroke-width="2.2"/>
<path d="M1354.5 744.0v-8M1551.0 744.0v-8M1747.5 744.0v-8M1944.0 744.0v-8M2140.5 744.0v-8M2337.0 744.0v-8M2533.5 744.0v-8M1296.0 718.8h8M1296.0 609.1h8M1296.0 499.4h8M1296.0 389.7h8M1296.0 280.0h8" stroke="#000" stroke-width="2.2" fill="none"/>
<path d="M1315.2 744.0v-4.6M1393.8 744.0v-4.6M1433.1 744.0v-4.6M1472.4 744.0v-4.6M1511.7 744.0v-4.6M1590.3 744.0v-4.6M1629.6 744.0v-4.6M1668.9 744.0v-4.6M1708.2 744.0v-4.6M1786.8 744.0v-4.6M1826.1 744.0v-4.6M1865.4 744.0v-4.6M1904.7 744.0v-4.6M1983.3 744.0v-4.6M2022.6 744.0v-4.6M2061.9 744.0v-4.6M2101.2 744.0v-4.6M2179.8 744.0v-4.6M2219.1 744.0v-4.6M2258.4 744.0v-4.6M2297.7 744.0v-4.6M2376.3 744.0v-4.6M2415.6 744.0v-4.6M2454.9 744.0v-4.6M2494.2 744.0v-4.6M2572.8 744.0v-4.6M1296.0 740.7h4.6M1296.0 696.9h4.6M1296.0 674.9h4.6M1296.0 653.0h4.6M1296.0 631.0h4.6M1296.0 587.2h4.6M1296.0 565.2h4.6M1296.0 543.3h4.6M1296.0 521.3h4.6M1296.0 477.5h4.6M1296.0 455.5h4.6M1296.0 433.6h4.6M1296.0 411.6h4.6M1296.0 367.8h4.6M1296.0 345.8h4.6M1296.0 323.9h4.6M1296.0 301.9h4.6M1296.0 258.1h4.6M1296.0 236.1h4.6M1296.0 214.2h4.6M1296.0 192.2h4.6" stroke="#000" stroke-width="1.7" fill="none"/>
<text x="1354.5" y="784.3" font-size="42.4" text-anchor="middle">2529.0</text>
<text x="1551.0" y="784.3" font-size="42.4" text-anchor="middle">2529.5</text>
<text x="1747.5" y="784.3" font-size="42.4" text-anchor="middle">2530.0</text>
<text x="1944.0" y="784.3" font-size="42.4" text-anchor="middle">2530.5</text>
<text x="2140.5" y="784.3" font-size="42.4" text-anchor="middle">2531.0</text>
<text x="2337.0" y="784.3" font-size="42.4" text-anchor="middle">2531.5</text>
<text x="2533.5" y="784.3" font-size="42.4" text-anchor="middle">2532.0</text>
<text x="1289" y="735.9" font-size="42.4" text-anchor="end">100</text>
<text x="1289" y="626.2" font-size="42.4" text-anchor="end">200</text>
<text x="1289" y="516.5" font-size="42.4" text-anchor="end">300</text>
<text x="1289" y="406.8" font-size="42.4" text-anchor="end">400</text>
<text x="1289" y="297.1" font-size="42.4" text-anchor="end">500</text>
</svg></body></html>
